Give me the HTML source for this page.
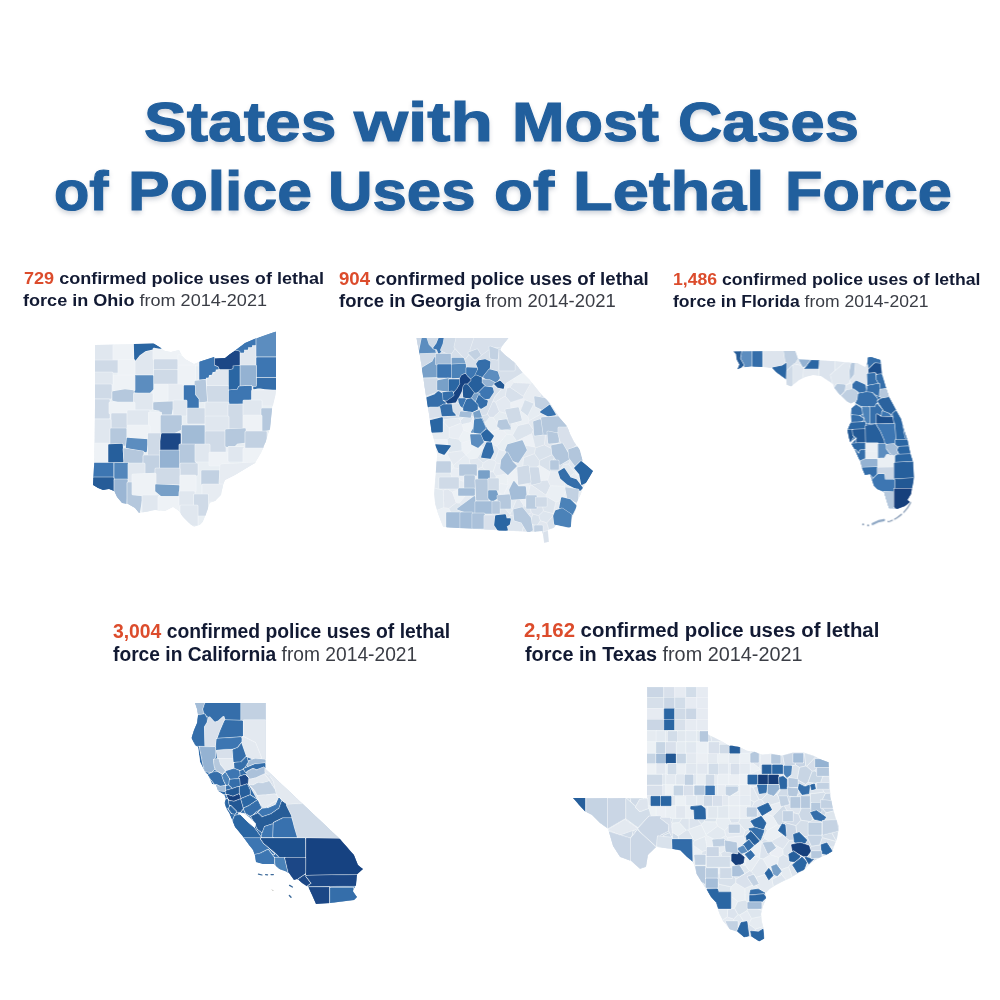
<!DOCTYPE html>
<html lang="en"><head><meta charset="utf-8"><title>States with Most Cases of Police Uses of Lethal Force</title>
<style>
html,body{margin:0;padding:0;background:#fff}
#pg{position:relative;width:1000px;height:1000px;overflow:hidden;background:#fff;font-family:"Liberation Sans",sans-serif;color:#121a33}
.l{position:absolute;white-space:nowrap;transform-origin:0 0;line-height:1}
svg{position:absolute;left:0;top:0}
.tt{color:#215f9d;-webkit-text-stroke:1.1px #215f9d;text-shadow:0 3px 5px rgba(40,60,90,.25)}
</style></head><body><div id="pg">
<svg width="1000" height="1000" viewBox="0 0 1000 1000" >
<g id="ohio" transform="translate(85,325) scale(0.2)">
<defs><clipPath id="ohio-clip"><polygon points="50,100 245,95 345,93 380,115 400,130 430,135 470,125 480,145 500,170 545,195 575,182 645,160 652,167 700,165 725,145 750,127 770,112 800,90 852,67 955,32 955,325 950,360 935,420 930,470 925,520 905,580 880,640 850,690 800,720 750,750 700,775 690,800 680,850 650,880 625,890 610,930 600,960 590,985 575,1000 545,1010 520,990 490,960 470,930 440,910 400,930 350,925 300,935 270,940 250,915 215,895 185,890 160,860 145,830 120,820 90,825 65,815 40,800 46,690 50,400"/></clipPath><filter id="ohio-bl" x="-5%" y="-5%" width="110%" height="110%"><feGaussianBlur stdDeviation="1.75"/></filter></defs>
<g filter="url(#ohio-bl)"><g clip-path="url(#ohio-clip)" stroke-linejoin="round">
<polygon points="50,100 245,95 345,93 380,115 400,130 430,135 470,125 480,145 500,170 545,195 575,182 645,160 652,167 700,165 725,145 750,127 770,112 800,90 852,67 955,32 955,325 950,360 935,420 930,470 925,520 905,580 880,640 850,690 800,720 750,750 700,775 690,800 680,850 650,880 625,890 610,930 600,960 590,985 575,1000 545,1010 520,990 490,960 470,930 440,910 400,930 350,925 300,935 270,940 250,915 215,895 185,890 160,860 145,830 120,820 90,825 65,815 40,800 46,690 50,400" fill="#e8eef3"/>
<g stroke-width="7.5">
<rect x="50" y="100" width="90" height="75" fill="none" stroke="#f4f7fa" stroke-width="13.5" stroke-opacity="0.9"/>
<rect x="50" y="100" width="90" height="75" fill="#e0e7ef" stroke="#e0e7ef"/>
<rect x="145" y="100" width="100" height="75" fill="none" stroke="#f4f7fa" stroke-width="13.5" stroke-opacity="0.9"/>
<rect x="145" y="100" width="100" height="75" fill="#eef2f6" stroke="#eef2f6"/>
<polygon points="250,130 345,118 345,245 250,245" fill="none" stroke="#f4f7fa" stroke-width="13.5" stroke-opacity="0.9"/>
<polygon points="250,130 345,118 345,245 250,245" fill="#e0e7ef" stroke="#e0e7ef"/>
<polygon points="248,95 340,93 380,115 345,118 300,128 270,150 250,175" fill="none" stroke="#f4f7fa" stroke-width="13.5" stroke-opacity="0.9"/>
<polygon points="248,95 340,93 380,115 345,118 300,128 270,150 250,175" fill="#2c66a3" stroke="#2c66a3"/>
<polygon points="345,120 400,130 430,135 470,125 480,145 470,170 345,170" fill="none" stroke="#f4f7fa" stroke-width="13.5" stroke-opacity="0.9"/>
<polygon points="345,120 400,130 430,135 470,125 480,145 470,170 345,170" fill="#eef2f6" stroke="#eef2f6"/>
<rect x="348" y="175" width="112" height="47" fill="none" stroke="#f4f7fa" stroke-width="13.5" stroke-opacity="0.9"/>
<rect x="348" y="175" width="112" height="47" fill="#cfdae7" stroke="#cfdae7"/>
<rect x="348" y="228" width="112" height="67" fill="none" stroke="#f4f7fa" stroke-width="13.5" stroke-opacity="0.9"/>
<rect x="348" y="228" width="112" height="67" fill="#cfdae7" stroke="#cfdae7"/>
<polygon points="470,150 500,170 545,195 570,190 570,200 470,200" fill="none" stroke="#f4f7fa" stroke-width="13.5" stroke-opacity="0.9"/>
<polygon points="470,150 500,170 545,195 570,190 570,200 470,200" fill="#eef2f6" stroke="#eef2f6"/>
<rect x="50" y="180" width="115" height="55" fill="none" stroke="#f4f7fa" stroke-width="13.5" stroke-opacity="0.9"/>
<rect x="50" y="180" width="115" height="55" fill="#cfdae7" stroke="#cfdae7"/>
<rect x="170" y="178" width="75" height="72" fill="none" stroke="#f4f7fa" stroke-width="13.5" stroke-opacity="0.9"/>
<rect x="170" y="178" width="75" height="72" fill="#eef2f6" stroke="#eef2f6"/>
<rect x="470" y="205" width="78" height="95" fill="none" stroke="#f4f7fa" stroke-width="13.5" stroke-opacity="0.9"/>
<rect x="470" y="205" width="78" height="95" fill="#eef2f6" stroke="#eef2f6"/>
<polygon points="772,137 792,137 792,122 812,122 812,109 832,109 832,99 852,99 852,200 772,200" fill="none" stroke="#f4f7fa" stroke-width="13.5" stroke-opacity="0.9"/>
<polygon points="772,137 792,137 792,122 812,122 812,109 832,109 832,99 852,99 852,200 772,200" fill="#e0e7ef" stroke="#e0e7ef"/>
<polygon points="750,127 770,112 800,90 852,67 852,97 832,97 832,107 812,107 812,120 792,120 792,135 770,135 750,131" fill="none" stroke="#f4f7fa" stroke-width="13.5" stroke-opacity="0.9"/>
<polygon points="750,127 770,112 800,90 852,67 852,97 832,97 832,107 812,107 812,120 792,120 792,135 770,135 750,131" fill="#3c76b2" stroke="#3c76b2"/>
<polygon points="860,68 955,30 955,155 860,155" fill="none" stroke="#f4f7fa" stroke-width="13.5" stroke-opacity="0.9"/>
<polygon points="860,68 955,30 955,155 860,155" fill="#5c8dbf" stroke="#5c8dbf"/>
<rect x="860" y="165" width="95" height="93" fill="none" stroke="#f4f7fa" stroke-width="13.5" stroke-opacity="0.9"/>
<rect x="860" y="165" width="95" height="93" fill="#3c76b2" stroke="#3c76b2"/>
<polygon points="860,268 955,268 955,322 900,318 870,312 845,318 845,300 860,300" fill="none" stroke="#f4f7fa" stroke-width="13.5" stroke-opacity="0.9"/>
<polygon points="860,268 955,268 955,322 900,318 870,312 845,318 845,300 860,300" fill="#346eaa" stroke="#346eaa"/>
<rect x="772" y="205" width="80" height="97" fill="none" stroke="#f4f7fa" stroke-width="13.5" stroke-opacity="0.9"/>
<rect x="772" y="205" width="80" height="97" fill="#94b2d2" stroke="#94b2d2"/>
<polygon points="715,220 735,217 735,202 770,200 770,305 762,320 720,322 715,300" fill="none" stroke="#f4f7fa" stroke-width="13.5" stroke-opacity="0.9"/>
<polygon points="715,220 735,217 735,202 770,200 770,305 762,320 720,322 715,300" fill="#2c66a3" stroke="#2c66a3"/>
<polygon points="612,275 617,262 632,260 635,247 650,245 652,232 667,230 670,220 712,220 712,303 612,303" fill="none" stroke="#f4f7fa" stroke-width="13.5" stroke-opacity="0.9"/>
<polygon points="612,275 617,262 632,260 635,247 650,245 652,232 667,230 670,220 712,220 712,303 612,303" fill="#e0e7ef" stroke="#e0e7ef"/>
<polygon points="575,182 645,160 647,200 665,205 667,217 650,220 650,230 635,232 632,245 617,247 615,260 602,260 600,272 575,274" fill="none" stroke="#f4f7fa" stroke-width="13.5" stroke-opacity="0.9"/>
<polygon points="575,182 645,160 647,200 665,205 667,217 650,220 650,230 635,232 632,245 617,247 615,260 602,260 600,272 575,274" fill="#3c76b2" stroke="#3c76b2"/>
<polygon points="652,167 700,165 725,145 750,131 770,135 770,197 735,200 735,215 720,217 675,217 670,205 652,197" fill="none" stroke="#f4f7fa" stroke-width="13.5" stroke-opacity="0.9"/>
<polygon points="652,167 700,165 725,145 750,131 770,135 770,197 735,200 735,215 720,217 675,217 670,205 652,197" fill="#1b4786" stroke="#1b4786"/>
<polygon points="720,330 765,325 772,310 830,307 830,370 805,372 795,390 720,392" fill="none" stroke="#f4f7fa" stroke-width="13.5" stroke-opacity="0.9"/>
<polygon points="720,330 765,325 772,310 830,307 830,370 805,372 795,390 720,392" fill="#3c76b2" stroke="#3c76b2"/>
<rect x="838" y="330" width="117" height="70" fill="none" stroke="#f4f7fa" stroke-width="13.5" stroke-opacity="0.9"/>
<rect x="838" y="330" width="117" height="70" fill="#e7ecf2" stroke="#e7ecf2"/>
<rect x="612" y="307" width="100" height="76" fill="none" stroke="#f4f7fa" stroke-width="13.5" stroke-opacity="0.9"/>
<rect x="612" y="307" width="100" height="76" fill="#cfdae7" stroke="#cfdae7"/>
<polygon points="552,282 600,277 607,380 570,382 565,370 550,350" fill="none" stroke="#f4f7fa" stroke-width="13.5" stroke-opacity="0.9"/>
<polygon points="552,282 600,277 607,380 570,382 565,370 550,350" fill="#b5c8dd" stroke="#b5c8dd"/>
<polygon points="497,305 547,305 547,350 565,372 565,415 512,417 512,380 497,375" fill="none" stroke="#f4f7fa" stroke-width="13.5" stroke-opacity="0.9"/>
<polygon points="497,305 547,305 547,350 565,372 565,415 512,417 512,380 497,375" fill="#3c76b2" stroke="#3c76b2"/>
<rect x="415" y="300" width="70" height="75" fill="none" stroke="#f4f7fa" stroke-width="13.5" stroke-opacity="0.9"/>
<rect x="415" y="300" width="70" height="75" fill="#e7ecf2" stroke="#e7ecf2"/>
<rect x="345" y="300" width="65" height="75" fill="none" stroke="#f4f7fa" stroke-width="13.5" stroke-opacity="0.9"/>
<rect x="345" y="300" width="65" height="75" fill="#eef2f6" stroke="#eef2f6"/>
<polygon points="250,255 338,255 338,320 320,340 250,335" fill="none" stroke="#f4f7fa" stroke-width="13.5" stroke-opacity="0.9"/>
<polygon points="250,255 338,255 338,320 320,340 250,335" fill="#5c8dbf" stroke="#5c8dbf"/>
<rect x="145" y="255" width="100" height="70" fill="none" stroke="#f4f7fa" stroke-width="13.5" stroke-opacity="0.9"/>
<rect x="145" y="255" width="100" height="70" fill="#eef2f6" stroke="#eef2f6"/>
<rect x="50" y="240" width="85" height="55" fill="none" stroke="#f4f7fa" stroke-width="13.5" stroke-opacity="0.9"/>
<rect x="50" y="240" width="85" height="55" fill="#e0e7ef" stroke="#e0e7ef"/>
<rect x="50" y="300" width="80" height="65" fill="none" stroke="#f4f7fa" stroke-width="13.5" stroke-opacity="0.9"/>
<rect x="50" y="300" width="80" height="65" fill="#cfdae7" stroke="#cfdae7"/>
<polygon points="140,335 200,325 240,330 240,385 200,390 140,375" fill="none" stroke="#f4f7fa" stroke-width="13.5" stroke-opacity="0.9"/>
<polygon points="140,335 200,325 240,330 240,385 200,390 140,375" fill="#b5c8dd" stroke="#b5c8dd"/>
<rect x="248" y="345" width="87" height="75" fill="none" stroke="#f4f7fa" stroke-width="13.5" stroke-opacity="0.9"/>
<rect x="248" y="345" width="87" height="75" fill="#e0e7ef" stroke="#e0e7ef"/>
<polygon points="345,390 450,385 450,415 435,420 430,445 380,445 375,425 345,420" fill="none" stroke="#f4f7fa" stroke-width="13.5" stroke-opacity="0.9"/>
<polygon points="345,390 450,385 450,415 435,420 430,445 380,445 375,425 345,420" fill="#b5c8dd" stroke="#b5c8dd"/>
<rect x="445" y="380" width="60" height="70" fill="none" stroke="#f4f7fa" stroke-width="13.5" stroke-opacity="0.9"/>
<rect x="445" y="380" width="60" height="70" fill="#e0e7ef" stroke="#e0e7ef"/>
<rect x="515" y="420" width="85" height="70" fill="none" stroke="#f4f7fa" stroke-width="13.5" stroke-opacity="0.9"/>
<rect x="515" y="420" width="85" height="70" fill="#cfdae7" stroke="#cfdae7"/>
<rect x="605" y="390" width="110" height="65" fill="none" stroke="#f4f7fa" stroke-width="13.5" stroke-opacity="0.9"/>
<rect x="605" y="390" width="110" height="65" fill="#e0e7ef" stroke="#e0e7ef"/>
<rect x="720" y="400" width="70" height="120" fill="none" stroke="#f4f7fa" stroke-width="13.5" stroke-opacity="0.9"/>
<rect x="720" y="400" width="70" height="120" fill="#cfdae7" stroke="#cfdae7"/>
<rect x="795" y="380" width="85" height="70" fill="none" stroke="#f4f7fa" stroke-width="13.5" stroke-opacity="0.9"/>
<rect x="795" y="380" width="85" height="70" fill="#e0e7ef" stroke="#e0e7ef"/>
<polygon points="885,420 935,420 925,520 885,530" fill="none" stroke="#f4f7fa" stroke-width="13.5" stroke-opacity="0.9"/>
<polygon points="885,420 935,420 925,520 885,530" fill="#b5c8dd" stroke="#b5c8dd"/>
<rect x="795" y="455" width="85" height="75" fill="none" stroke="#f4f7fa" stroke-width="13.5" stroke-opacity="0.9"/>
<rect x="795" y="455" width="85" height="75" fill="#eef2f6" stroke="#eef2f6"/>
<rect x="50" y="375" width="70" height="90" fill="none" stroke="#f4f7fa" stroke-width="13.5" stroke-opacity="0.9"/>
<rect x="50" y="375" width="70" height="90" fill="#cfdae7" stroke="#cfdae7"/>
<rect x="125" y="390" width="120" height="50" fill="none" stroke="#f4f7fa" stroke-width="13.5" stroke-opacity="0.9"/>
<rect x="125" y="390" width="120" height="50" fill="#eef2f6" stroke="#eef2f6"/>
<rect x="135" y="445" width="75" height="70" fill="none" stroke="#f4f7fa" stroke-width="13.5" stroke-opacity="0.9"/>
<rect x="135" y="445" width="75" height="70" fill="#cfdae7" stroke="#cfdae7"/>
<rect x="215" y="430" width="105" height="70" fill="none" stroke="#f4f7fa" stroke-width="13.5" stroke-opacity="0.9"/>
<rect x="215" y="430" width="105" height="70" fill="#e0e7ef" stroke="#e0e7ef"/>
<rect x="322" y="440" width="56" height="100" fill="none" stroke="#f4f7fa" stroke-width="13.5" stroke-opacity="0.9"/>
<rect x="322" y="440" width="56" height="100" fill="#eef2f6" stroke="#eef2f6"/>
<polygon points="382,455 480,455 480,520 440,540 382,538" fill="none" stroke="#f4f7fa" stroke-width="13.5" stroke-opacity="0.9"/>
<polygon points="382,455 480,455 480,520 440,540 382,538" fill="#b5c8dd" stroke="#b5c8dd"/>
<rect x="487" y="505" width="111" height="90" fill="none" stroke="#f4f7fa" stroke-width="13.5" stroke-opacity="0.9"/>
<rect x="487" y="505" width="111" height="90" fill="#a1bbd6" stroke="#a1bbd6"/>
<rect x="605" y="460" width="110" height="70" fill="none" stroke="#f4f7fa" stroke-width="13.5" stroke-opacity="0.9"/>
<rect x="605" y="460" width="110" height="70" fill="#e0e7ef" stroke="#e0e7ef"/>
<rect x="605" y="535" width="95" height="100" fill="none" stroke="#f4f7fa" stroke-width="13.5" stroke-opacity="0.9"/>
<rect x="605" y="535" width="95" height="100" fill="#cfdae7" stroke="#cfdae7"/>
<polygon points="705,525 800,520 800,585 760,590 740,610 705,605" fill="none" stroke="#f4f7fa" stroke-width="13.5" stroke-opacity="0.9"/>
<polygon points="705,525 800,520 800,585 760,590 740,610 705,605" fill="#b5c8dd" stroke="#b5c8dd"/>
<rect x="805" y="535" width="100" height="80" fill="none" stroke="#f4f7fa" stroke-width="13.5" stroke-opacity="0.9"/>
<rect x="805" y="535" width="100" height="80" fill="#c2d1e2" stroke="#c2d1e2"/>
<rect x="50" y="475" width="75" height="115" fill="none" stroke="#f4f7fa" stroke-width="13.5" stroke-opacity="0.9"/>
<rect x="50" y="475" width="75" height="115" fill="#e0e7ef" stroke="#e0e7ef"/>
<rect x="130" y="520" width="75" height="80" fill="none" stroke="#f4f7fa" stroke-width="13.5" stroke-opacity="0.9"/>
<rect x="130" y="520" width="75" height="80" fill="#b5c8dd" stroke="#b5c8dd"/>
<rect x="215" y="505" width="105" height="60" fill="none" stroke="#f4f7fa" stroke-width="13.5" stroke-opacity="0.9"/>
<rect x="215" y="505" width="105" height="60" fill="#eef2f6" stroke="#eef2f6"/>
<polygon points="212,568 315,575 305,632 208,612" fill="none" stroke="#f4f7fa" stroke-width="13.5" stroke-opacity="0.9"/>
<polygon points="212,568 315,575 305,632 208,612" fill="#5c8dbf" stroke="#5c8dbf"/>
<rect x="318" y="545" width="60" height="105" fill="none" stroke="#f4f7fa" stroke-width="13.5" stroke-opacity="0.9"/>
<rect x="318" y="545" width="60" height="105" fill="#cfdae7" stroke="#cfdae7"/>
<polygon points="385,545 475,545 475,590 468,625 380,625 380,580" fill="none" stroke="#f4f7fa" stroke-width="13.5" stroke-opacity="0.9"/>
<polygon points="385,545 475,545 475,590 468,625 380,625 380,580" fill="#1b4786" stroke="#1b4786"/>
<rect x="475" y="600" width="75" height="90" fill="none" stroke="#f4f7fa" stroke-width="13.5" stroke-opacity="0.9"/>
<rect x="475" y="600" width="75" height="90" fill="#b5c8dd" stroke="#b5c8dd"/>
<rect x="555" y="600" width="65" height="80" fill="none" stroke="#f4f7fa" stroke-width="13.5" stroke-opacity="0.9"/>
<rect x="555" y="600" width="65" height="80" fill="#e0e7ef" stroke="#e0e7ef"/>
<rect x="625" y="640" width="90" height="60" fill="none" stroke="#f4f7fa" stroke-width="13.5" stroke-opacity="0.9"/>
<rect x="625" y="640" width="90" height="60" fill="#eef2f6" stroke="#eef2f6"/>
<rect x="720" y="612" width="70" height="68" fill="none" stroke="#f4f7fa" stroke-width="13.5" stroke-opacity="0.9"/>
<rect x="720" y="612" width="70" height="68" fill="#e0e7ef" stroke="#e0e7ef"/>
<rect x="795" y="620" width="95" height="70" fill="none" stroke="#f4f7fa" stroke-width="13.5" stroke-opacity="0.9"/>
<rect x="795" y="620" width="95" height="70" fill="#eef2f6" stroke="#eef2f6"/>
<rect x="46" y="595" width="69" height="90" fill="none" stroke="#f4f7fa" stroke-width="13.5" stroke-opacity="0.9"/>
<rect x="46" y="595" width="69" height="90" fill="#eef2f6" stroke="#eef2f6"/>
<polygon points="120,600 185,598 190,682 120,686" fill="none" stroke="#f4f7fa" stroke-width="13.5" stroke-opacity="0.9"/>
<polygon points="120,600 185,598 190,682 120,686" fill="#285f9c" stroke="#285f9c"/>
<polygon points="195,620 290,635 285,690 200,690" fill="none" stroke="#f4f7fa" stroke-width="13.5" stroke-opacity="0.9"/>
<polygon points="195,620 290,635 285,690 200,690" fill="#b5c8dd" stroke="#b5c8dd"/>
<rect x="295" y="655" width="75" height="85" fill="none" stroke="#f4f7fa" stroke-width="13.5" stroke-opacity="0.9"/>
<rect x="295" y="655" width="75" height="85" fill="#c2d1e2" stroke="#c2d1e2"/>
<rect x="378" y="630" width="90" height="85" fill="none" stroke="#f4f7fa" stroke-width="13.5" stroke-opacity="0.9"/>
<rect x="378" y="630" width="90" height="85" fill="#94b2d2" stroke="#94b2d2"/>
<rect x="480" y="695" width="80" height="55" fill="none" stroke="#f4f7fa" stroke-width="13.5" stroke-opacity="0.9"/>
<rect x="480" y="695" width="80" height="55" fill="#cfdae7" stroke="#cfdae7"/>
<rect x="585" y="730" width="85" height="65" fill="none" stroke="#f4f7fa" stroke-width="13.5" stroke-opacity="0.9"/>
<rect x="585" y="730" width="85" height="65" fill="#c2d1e2" stroke="#c2d1e2"/>
<polygon points="680,700 850,690 800,720 750,750 700,775 690,800 675,790" fill="none" stroke="#f4f7fa" stroke-width="13.5" stroke-opacity="0.9"/>
<polygon points="680,700 850,690 800,720 750,750 700,775 690,800 675,790" fill="#e7ecf2" stroke="#e7ecf2"/>
<rect x="42" y="693" width="98" height="67" fill="none" stroke="#f4f7fa" stroke-width="13.5" stroke-opacity="0.9"/>
<rect x="42" y="693" width="98" height="67" fill="#3c76b2" stroke="#3c76b2"/>
<rect x="150" y="693" width="65" height="77" fill="none" stroke="#f4f7fa" stroke-width="13.5" stroke-opacity="0.9"/>
<rect x="150" y="693" width="65" height="77" fill="#5286bb" stroke="#5286bb"/>
<rect x="220" y="695" width="75" height="95" fill="none" stroke="#f4f7fa" stroke-width="13.5" stroke-opacity="0.9"/>
<rect x="220" y="695" width="75" height="95" fill="#e0e7ef" stroke="#e0e7ef"/>
<rect x="355" y="720" width="115" height="75" fill="none" stroke="#f4f7fa" stroke-width="13.5" stroke-opacity="0.9"/>
<rect x="355" y="720" width="115" height="75" fill="#cfdae7" stroke="#cfdae7"/>
<rect x="480" y="755" width="70" height="75" fill="none" stroke="#f4f7fa" stroke-width="13.5" stroke-opacity="0.9"/>
<rect x="480" y="755" width="70" height="75" fill="#eef2f6" stroke="#eef2f6"/>
<rect x="590" y="800" width="100" height="80" fill="none" stroke="#f4f7fa" stroke-width="13.5" stroke-opacity="0.9"/>
<rect x="590" y="800" width="100" height="80" fill="#e7ecf2" stroke="#e7ecf2"/>
<polygon points="40,765 140,765 145,830 120,820 90,825 65,815 40,800" fill="none" stroke="#f4f7fa" stroke-width="13.5" stroke-opacity="0.9"/>
<polygon points="40,765 140,765 145,830 120,820 90,825 65,815 40,800" fill="#265c98" stroke="#265c98"/>
<polygon points="150,775 210,775 205,895 185,890 160,860 150,830" fill="none" stroke="#f4f7fa" stroke-width="13.5" stroke-opacity="0.9"/>
<polygon points="150,775 210,775 205,895 185,890 160,860 150,830" fill="#9bb6d4" stroke="#9bb6d4"/>
<polygon points="215,790 235,790 240,850 285,855 270,940 250,915 215,895" fill="none" stroke="#f4f7fa" stroke-width="13.5" stroke-opacity="0.9"/>
<polygon points="215,790 235,790 240,850 285,855 270,940 250,915 215,895" fill="#b5c8dd" stroke="#b5c8dd"/>
<polygon points="240,750 350,745 350,850 290,850 240,845" fill="none" stroke="#f4f7fa" stroke-width="13.5" stroke-opacity="0.9"/>
<polygon points="240,750 350,745 350,850 290,850 240,845" fill="#eef2f6" stroke="#eef2f6"/>
<rect x="290" y="855" width="80" height="80" fill="none" stroke="#f4f7fa" stroke-width="13.5" stroke-opacity="0.9"/>
<rect x="290" y="855" width="80" height="80" fill="#e0e7ef" stroke="#e0e7ef"/>
<polygon points="355,800 468,805 465,858 385,855 355,830" fill="none" stroke="#f4f7fa" stroke-width="13.5" stroke-opacity="0.9"/>
<polygon points="355,800 468,805 465,858 385,855 355,830" fill="#78a0c8" stroke="#78a0c8"/>
<rect x="370" y="862" width="100" height="73" fill="none" stroke="#f4f7fa" stroke-width="13.5" stroke-opacity="0.9"/>
<rect x="370" y="862" width="100" height="73" fill="#eef2f6" stroke="#eef2f6"/>
<rect x="475" y="835" width="70" height="65" fill="none" stroke="#f4f7fa" stroke-width="13.5" stroke-opacity="0.9"/>
<rect x="475" y="835" width="70" height="65" fill="#e0e7ef" stroke="#e0e7ef"/>
<rect x="548" y="850" width="64" height="100" fill="none" stroke="#f4f7fa" stroke-width="13.5" stroke-opacity="0.9"/>
<rect x="548" y="850" width="64" height="100" fill="#cfdae7" stroke="#cfdae7"/>
<rect x="480" y="905" width="80" height="95" fill="none" stroke="#f4f7fa" stroke-width="13.5" stroke-opacity="0.9"/>
<rect x="480" y="905" width="80" height="95" fill="#e0e7ef" stroke="#e0e7ef"/>
</g>
</g></g></g>
<g id="georgia" transform="translate(410,330) scale(0.2)">
<defs><clipPath id="georgia-clip"><polygon points="32,40 492,40 460,80 450,100 475,125 525,165 560,210 600,250 640,300 665,330 700,365 730,410 750,440 785,480 800,520 820,560 850,600 865,660 915,705 895,740 865,790 855,820 835,860 830,900 810,940 805,985 790,990 730,975 720,990 690,1000 695,1060 670,1065 662,1005 600,1010 400,1000 165,985 140,920 125,870 120,820 125,750 132,680 135,620 125,570 108,510 95,420 80,330 65,230 50,130"/></clipPath><filter id="georgia-bl" x="-5%" y="-5%" width="110%" height="110%"><feGaussianBlur stdDeviation="1.75"/></filter></defs>
<g filter="url(#georgia-bl)"><g clip-path="url(#georgia-clip)" stroke-linejoin="round">
<polygon points="32,40 492,40 460,80 450,100 475,125 525,165 560,210 600,250 640,300 665,330 700,365 730,410 750,440 785,480 800,520 820,560 850,600 865,660 915,705 895,740 865,790 855,820 835,860 830,900 810,940 805,985 790,990 730,975 720,990 690,1000 695,1060 670,1065 662,1005 600,1010 400,1000 165,985 140,920 125,870 120,820 125,750 132,680 135,620 125,570 108,510 95,420 80,330 65,230 50,130" fill="#e6ebf2"/>
<g stroke="#f4f7fa" stroke-width="2.5" stroke-opacity="0.8">
<polygon points="260.2,604.1 258.8,563.4 243.7,545.7 195.5,537.9 185.2,547.3 193.2,613.1" fill="#dfe7ef"/>
<polygon points="342.5,693.8 361.4,685.4 365.5,665.5 337.3,639.6 296.8,645.6 297.5,666.1" fill="#e0e7ef"/>
<polygon points="292.1,305.6 295.7,280.7 262.1,249.7 236.3,253.8 229.4,306.6 233,310.6 277,318.3" fill="#eaeff4"/>
<polygon points="769.2,568.2 787.4,509 724.1,515.9 734.8,565.7" fill="#d9e2ec"/>
<polygon points="552,943.4 568.8,979.1 597.2,967.9 615,920.4 606.9,912.7" fill="#dfe6ef"/>
<polygon points="481.1,842.4 532.5,842.3 523.4,779.1 491.9,773.8 468.3,821.3" fill="#ebf0f5"/>
<polygon points="699.7,708.6 723.8,630.8 714.2,621.5 646.9,652.1 646.7,676.7" fill="#d8e1eb"/>
<polygon points="386.6,112.6 413.9,40 292,40 321,96.3" fill="#ebeff4"/>
<polygon points="787.4,509 769.2,568.2 789.4,587.2 826.7,568.9 820,560 800,520 794.1,504.2" fill="#e7ecf2"/>
<polygon points="643.4,927.8 651,953.9 684.5,964.4 719.6,924.3 715.9,917.4 667.1,905" fill="#dde5ee"/>
<polygon points="639.3,1007 662,1005 662.8,1011 690.2,1002 690,1000 694.4,998.5 684.5,964.4 651,953.9 634.4,978.4" fill="#e1e7ef"/>
<polygon points="362.8,827.5 345.4,879.2 405.3,901.1 420.1,881 407.3,830.6" fill="#e2e8f0"/>
<polygon points="407.5,1000 488.7,1004 484.4,948.6 419.1,942" fill="#dfe6ef"/>
<polygon points="175.3,276.6 198.7,230 194.6,219.3 166.7,198.2 140.1,204.1 114.4,287.6 127,293.4" fill="#e4eaf1"/>
<polygon points="619.5,367 622.4,366.6 658.5,322.2 640,300 609.8,262.2 603.5,266.4 566.7,331.6 567.6,340.7 573.5,349.2" fill="#e7ecf2"/>
<polygon points="483,520.8 513.4,526.3 540.3,477.3 499.1,421 498.1,421.3 456,492.5" fill="#eaeff4"/>
<polygon points="341.2,568.7 280.1,625.2 296.8,645.6 337.3,639.6 366.1,591.4 366.3,585.4" fill="#ecf1f5"/>
<polygon points="501.3,927.3 484.4,948.6 488.7,1004 561.5,1008 568.8,979.1 552,943.4 536.6,931.6" fill="#dde5ee"/>
<polygon points="568.8,979.1 561.5,1008 600,1010 639.3,1007 634.4,978.4 597.2,967.9" fill="#dce4ed"/>
<polygon points="789.4,587.2 787.2,605.9 808.8,636 857.7,630.8 850,600 826.7,568.9" fill="#e2e8f0"/>
<polygon points="787.2,605.9 733.5,633 767.7,671.9 793.3,670.8 808.8,636" fill="#dde5ee"/>
<polygon points="244.1,87.4 253.7,144.9 274.3,164.2 281,166.1 321,96.3 292,40 277.4,40" fill="#e6ecf2"/>
<polygon points="450.3,197.7 453.6,152.8 388.9,118.9 355.5,182.3 402,222.9 444.6,205.3" fill="#e8edf3"/>
<polygon points="291.7,906.2 304.4,906.9 318.8,890 298.7,814.7 289.9,811.8 246.4,865.5" fill="#e5ebf2"/>
<polygon points="622.4,366.6 666.1,414.4 671.5,415.8 711,381.5 700,365 665,330 658.5,322.2" fill="#d9e2ec"/>
<polygon points="355.5,182.3 388.9,118.9 386.6,112.6 321,96.3 281,166.1 296,183 315.8,190.1" fill="#edf1f6"/>
<polygon points="228.5,418.5 182.4,421.1 168.6,461.5 195.2,489.5 254.4,466.3 252.7,453" fill="#e3e9f0"/>
<polygon points="445.2,598.5 503.2,612.4 526.9,599 535.4,568.2 533.9,555.4 513.4,526.3 483,520.8 435.1,581.1" fill="#e8eef3"/>
<polygon points="610.2,705.7 646.7,676.7 646.9,652.1 622.8,617.9 567.4,638.2 563,684.1" fill="#dce4ed"/>
<polygon points="567.4,638.2 526.9,599 503.2,612.4 490.3,675.1 501.8,693.5 534.4,700.1 563,684.1" fill="#e6ecf2"/>
<polygon points="397.7,770.8 355.5,764.8 343.6,803.5 362.8,827.5 407.3,830.6 418.7,815.4" fill="#e7ecf2"/>
<polygon points="276.9,351.1 277,318.3 233,310.6 221,358.9 240.3,374.6" fill="#e5ebf1"/>
<polygon points="366.1,591.4 394.7,646.7 424.4,651.9 445.2,598.5 435.1,581.1 409.3,571.1 366.3,585.4" fill="#e2e8f0"/>
<polygon points="513.4,526.3 533.9,555.4 609.5,518.5 617.5,499.1 593.6,465.5 540.3,477.3" fill="#dce4ed"/>
<polygon points="666.1,414.4 622.4,366.6 619.5,367 588.1,431.7 595.7,454.1" fill="#e6ecf2"/>
<polygon points="680.7,826.1 702.5,779 688.2,750.1 614.8,755.2 604.1,772.9" fill="#dae2ec"/>
<polygon points="113.3,40 32,40 49,124.9 95.8,122.1 106.1,114.1" fill="#ebf0f5"/>
<polygon points="254.4,466.3 195.2,489.5 195.5,537.9 243.7,545.7 268.9,500.3 261.6,472.2" fill="#e8edf3"/>
<polygon points="552.3,403.6 573.5,349.2 567.6,340.7 503,362.2 504.7,413.5" fill="#ecf0f5"/>
<polygon points="417.1,356.6 382.7,295.3 340.1,331.2 338.6,357.3 369.9,387.7" fill="#ebf0f5"/>
<polygon points="394.7,646.7 366.1,591.4 337.3,639.6 365.5,665.5" fill="#dce4ed"/>
<polygon points="296.8,406.2 252.7,453 254.4,466.3 261.6,472.2 303.9,462.7 320.7,425.6 297,406.2" fill="#dde5ee"/>
<polygon points="545.5,762.6 523.4,779.1 532.5,842.3 534.7,844 549.7,847.3 592.4,816.3 601.7,774.5" fill="#eaeff4"/>
<polygon points="330.4,259.5 315.8,190.1 296,183 262.1,249.7 295.7,280.7" fill="#eaeff4"/>
<polygon points="185.2,547.3 195.5,537.9 195.2,489.5 168.6,461.5 102.8,473.8 108,510 118.9,548.3" fill="#e5ebf1"/>
<polygon points="320.7,425.6 328.6,425.4 369.4,392.2 369.9,387.7 338.6,357.3 303.3,374 297,406.2" fill="#dde5ed"/>
<polygon points="724.1,515.9 787.4,509 794.1,504.2 785,480 754.5,445.2 723.8,462.8 717,510.4" fill="#dbe3ed"/>
<polygon points="283.1,706.7 329.5,726.4 342.5,693.8 297.5,666.1 280.4,698.2" fill="#dde4ed"/>
<polygon points="274.3,164.2 253.7,144.9 178.4,141.5 166.7,198.2 194.6,219.3" fill="#e1e8ef"/>
<polygon points="480.6,290.1 483.2,292 500,285.7 519.1,262.7 520.7,215.4 450.3,197.7 444.6,205.3" fill="#ebeff4"/>
<polygon points="719.6,924.3 740.7,936.2 809.9,899.4 762.3,849.4 729,859.4 715.9,917.4" fill="#e5ebf2"/>
<polygon points="201.1,361 221,358.9 233,310.6 229.4,306.6 200.6,305.2 179.4,333.4" fill="#eaeff4"/>
<polygon points="767.7,671.9 741.4,709.9 777.5,748.8 823.9,714.2 824.2,711.4 793.3,670.8" fill="#e2e9f0"/>
<polygon points="133.6,380.5 147.6,332.1 127,293.4 114.4,287.6 74.3,292.3 80,330 90.7,393.9" fill="#e1e8f0"/>
<polygon points="303.9,462.7 327.4,485.8 365.4,468.2 328.6,425.4 320.7,425.6" fill="#eaeef4"/>
<polygon points="404,510.3 448.7,491 417.2,436.4 397.9,436.2 370.1,469 387.2,502.6" fill="#e8eef3"/>
<polygon points="656.2,855.3 667.1,905 715.9,917.4 729,859.4 681,831.5" fill="#dce4ed"/>
<polygon points="535.4,568.2 625.9,586.1 609.5,518.5 533.9,555.4" fill="#edf1f6"/>
<polygon points="303.3,374 276.9,351.1 240.3,374.6 242.5,391.1 296.8,406.2 297,406.2" fill="#dbe3ed"/>
<polygon points="253.7,144.9 244.1,87.4 186,89.5 171.4,126.2 178.4,141.5" fill="#d9e1ec"/>
<polygon points="567.6,340.7 566.7,331.6 500,285.7 483.2,292 475.4,330.4 503,362.2" fill="#d7e0eb"/>
<polygon points="823.9,714.2 777.5,748.8 771,782 780.2,797.7 858.7,808.8 865,790 876,771.7" fill="#e5ebf2"/>
<polygon points="793.3,670.8 824.2,711.4 875.4,669.4 865,660 857.7,630.8 808.8,636" fill="#e2e8f0"/>
<polygon points="201.1,361 179.4,333.4 147.6,332.1 133.6,380.5 170.9,398.5" fill="#e1e8ef"/>
<polygon points="622.8,617.9 627.9,588.5 625.9,586.1 535.4,568.2 526.9,599 567.4,638.2" fill="#e0e7ef"/>
<polygon points="588.1,431.7 619.5,367 573.5,349.2 552.3,403.6" fill="#d6e0eb"/>
<polygon points="193.5,892.2 227.1,958.2 291.7,906.2 246.4,865.5 231,863.6" fill="#dee6ee"/>
<polygon points="431.8,811.9 418.7,815.4 407.3,830.6 420.1,881 461.9,876.3 481.1,842.4 468.3,821.3" fill="#e7edf3"/>
<polygon points="402,222.9 355.5,182.3 315.8,190.1 330.4,259.5 384.9,278.7" fill="#dae2ec"/>
<polygon points="461.9,876.3 500.2,923 534.7,844 532.5,842.3 481.1,842.4" fill="#e3eaf1"/>
<polygon points="212,809.4 186.5,794.6 166.2,800.2 169,888.5 193.5,892.2 231,863.6" fill="#e1e7ef"/>
<polygon points="568.7,878.1 536.6,931.6 552,943.4 606.9,912.7 600.3,890" fill="#dde5ee"/>
<polygon points="278.5,624.6 280.1,625.2 341.2,568.7 329.8,545 327.9,543.7 258.8,563.4 260.2,604.1" fill="#eef2f6"/>
<polygon points="341.2,568.7 366.3,585.4 409.3,571.1 404,510.3 387.2,502.6 329.8,545" fill="#dce4ed"/>
<polygon points="113.7,194 95.8,122.1 49,124.9 50,130 62.2,211.2" fill="#dfe6ef"/>
<polygon points="186,89.5 169,40 113.3,40 106.1,114.1 171.4,126.2" fill="#e3e9f0"/>
<polygon points="303.3,374 338.6,357.3 340.1,331.2 292.1,305.6 277,318.3 276.9,351.1" fill="#e2e9f0"/>
<polygon points="336,746.9 353.5,760.3 388.5,709.8 361.4,685.4 342.5,693.8 329.5,726.4" fill="#e4eaf1"/>
<polygon points="499.1,421 540.3,477.3 593.6,465.5 595.7,454.1 588.1,431.7 552.3,403.6 504.7,413.5" fill="#eaeff4"/>
<polygon points="182.4,421.1 228.5,418.5 242.5,391.1 240.3,374.6 221,358.9 201.1,361 170.9,398.5" fill="#e2e9f0"/>
<polygon points="187.1,622.9 193.2,613.1 185.2,547.3 118.9,548.3 125,570 135,620 134.2,635.5" fill="#edf1f6"/>
<polygon points="617.5,499.1 650.2,499 681.5,441.5 671.5,415.8 666.1,414.4 595.7,454.1 593.6,465.5" fill="#e3e9f0"/>
<polygon points="113.7,194 62.2,211.2 65,230 74.3,292.3 114.4,287.6 140.1,204.1" fill="#dfe7ef"/>
<polygon points="361.4,685.4 388.5,709.8 416.1,709.5 431.1,664.4 424.4,651.9 394.7,646.7 365.5,665.5" fill="#e4eaf1"/>
<polygon points="671.5,415.8 681.5,441.5 723.8,462.8 754.5,445.2 750,440 730,410 711,381.5" fill="#e1e8f0"/>
<polygon points="699.8,708.8 741.4,709.9 767.7,671.9 733.5,633 723.8,630.8 699.7,708.6" fill="#d7e0eb"/>
<polygon points="397.9,436.2 417.2,436.4 446.9,407.8 428,359.4 417.1,356.6 369.9,387.7 369.4,392.2" fill="#d9e1ec"/>
<polygon points="429.9,729.6 428.6,742.5 449.2,767.8 491.4,773.3 483.1,718.7" fill="#ebf0f4"/>
<polygon points="416.1,709.5 388.5,709.8 353.5,760.3 355.5,764.8 397.7,770.8 428.6,742.5 429.9,729.6" fill="#dbe3ed"/>
<polygon points="428,359.4 475.4,330.4 483.2,292 480.6,290.1 385.4,279.9 382.7,295.3 417.1,356.6" fill="#e0e7ef"/>
<polygon points="501.8,693.5 483.1,718.7 491.4,773.3 491.9,773.8 523.4,779.1 545.5,762.6 534.4,700.1" fill="#edf1f5"/>
<polygon points="330.8,958.1 328,995.4 400,1000 407.5,1000 419.1,942 406.5,924.8" fill="#e6ecf2"/>
<polygon points="762.3,849.4 809.9,899.4 827.9,904.1 830,900 835,860 855,820 858.7,808.8 780.2,797.7" fill="#e9eef3"/>
<polygon points="243.7,545.7 258.8,563.4 327.9,543.7 318.3,522 268.9,500.3" fill="#ecf1f5"/>
<polygon points="169,888.5 166.2,800.2 122.1,789.9 120,820 125,870 134.5,901.6" fill="#e2e9f0"/>
<polygon points="597.2,967.9 634.4,978.4 651,953.9 643.4,927.8 615,920.4" fill="#d8e1eb"/>
<polygon points="688.2,750.1 702.5,779 771,782 777.5,748.8 741.4,709.9 699.8,708.8" fill="#e7ecf2"/>
<polygon points="646.9,652.1 714.2,621.5 708.4,593.4 671.8,574 627.9,588.5 622.8,617.9" fill="#d9e2ec"/>
<polygon points="166.7,198.2 178.4,141.5 171.4,126.2 106.1,114.1 95.8,122.1 113.7,194 140.1,204.1" fill="#dee6ee"/>
<polygon points="227.1,958.2 193.5,892.2 169,888.5 134.5,901.6 140,920 165,985 221.1,988.6" fill="#ebf0f5"/>
<polygon points="606.9,912.7 615,920.4 643.4,927.8 667.1,905 656.2,855.3 631.5,856.7 600.3,890" fill="#dae2ec"/>
<polygon points="671.8,574 708.4,593.4 734.8,565.7 724.1,515.9 717,510.4 677.3,517.5" fill="#e1e7ef"/>
<polygon points="740.7,936.2 719.6,924.3 684.5,964.4 694.4,998.5 720,990 730,975 753.7,980.9" fill="#d8e1eb"/>
<polygon points="568.7,878.1 549.7,847.3 534.7,844 500.2,923 501.3,927.3 536.6,931.6" fill="#dde5ee"/>
<polygon points="236.3,253.8 262.1,249.7 296,183 281,166.1 274.3,164.2 194.6,219.3 198.7,230" fill="#dde5ee"/>
<polygon points="216.4,689.1 280.4,698.2 297.5,666.1 296.8,645.6 280.1,625.2 278.5,624.6 216.8,676.8" fill="#e6ecf2"/>
<polygon points="717,510.4 723.8,462.8 681.5,441.5 650.2,499 677.3,517.5" fill="#dbe3ed"/>
<polygon points="365.4,468.2 370.1,469 397.9,436.2 369.4,392.2 328.6,425.4" fill="#d8e1eb"/>
<polygon points="318.3,522 327.9,543.7 329.8,545 387.2,502.6 370.1,469 365.4,468.2 327.4,485.8" fill="#dae2ec"/>
<polygon points="601.7,774.5 592.4,816.3 631.5,856.7 656.2,855.3 681,831.5 680.7,826.1 604.1,772.9" fill="#e4eaf1"/>
<polygon points="650.2,499 617.5,499.1 609.5,518.5 625.9,586.1 627.9,588.5 671.8,574 677.3,517.5" fill="#dce4ed"/>
<polygon points="501.8,693.5 490.3,675.1 431.1,664.4 416.1,709.5 429.9,729.6 483.1,718.7" fill="#e3e9f1"/>
<polygon points="397.7,770.8 418.7,815.4 431.8,811.9 449.2,767.8 428.6,742.5" fill="#ecf0f5"/>
<polygon points="200.6,305.2 175.3,276.6 127,293.4 147.6,332.1 179.4,333.4" fill="#edf1f6"/>
<polygon points="134.2,635.5 132,680 129.6,703.6 201.3,711.3 216.4,689.1 216.8,676.8 187.1,622.9" fill="#ecf1f5"/>
<polygon points="340.1,331.2 382.7,295.3 385.4,279.9 384.9,278.7 330.4,259.5 295.7,280.7 292.1,305.6" fill="#eaeef4"/>
<polygon points="272.3,788.8 289.9,811.8 298.7,814.7 343.6,803.5 355.5,764.8 353.5,760.3 336,746.9 272.6,765.2" fill="#eaeff4"/>
<polygon points="304.4,906.9 330.8,958.1 406.5,924.8 405.3,901.1 345.4,879.2 318.8,890" fill="#e3e9f0"/>
<polygon points="500,285.7 566.7,331.6 603.5,266.4 519.1,262.7" fill="#dee5ee"/>
<polygon points="186,89.5 244.1,87.4 277.4,40 169,40" fill="#e2e9f0"/>
<polygon points="417.2,436.4 448.7,491 456,492.5 498.1,421.3 446.9,407.8" fill="#e4ebf1"/>
<polygon points="168.6,461.5 182.4,421.1 170.9,398.5 133.6,380.5 90.7,393.9 95,420 102.8,473.8" fill="#dfe6ef"/>
<polygon points="343.6,803.5 298.7,814.7 318.8,890 345.4,879.2 362.8,827.5" fill="#e7edf3"/>
<polygon points="490.3,675.1 503.2,612.4 445.2,598.5 424.4,651.9 431.1,664.4" fill="#e4eaf1"/>
<polygon points="500.2,923 461.9,876.3 420.1,881 405.3,901.1 406.5,924.8 419.1,942 484.4,948.6 501.3,927.3" fill="#dce4ed"/>
<polygon points="789.4,587.2 769.2,568.2 734.8,565.7 708.4,593.4 714.2,621.5 723.8,630.8 733.5,633 787.2,605.9" fill="#e5ebf2"/>
<polygon points="491.9,773.8 491.4,773.3 449.2,767.8 431.8,811.9 468.3,821.3" fill="#eaeff4"/>
<polygon points="662.8,1011 670,1065 695,1060 690.2,1002" fill="#d9e1eb"/>
<polygon points="402,222.9 384.9,278.7 385.4,279.9 480.6,290.1 444.6,205.3" fill="#dde5ee"/>
<polygon points="186.5,794.6 212,809.4 272.3,788.8 272.6,765.2 267.4,756.3 209.4,735.2" fill="#e6ecf2"/>
<polygon points="229.4,306.6 236.3,253.8 198.7,230 175.3,276.6 200.6,305.2" fill="#e6ecf2"/>
<polygon points="129.6,703.6 125,750 122.1,789.9 166.2,800.2 186.5,794.6 209.4,735.2 201.3,711.3" fill="#e2e9f0"/>
<polygon points="753.7,980.9 790,990 805,985 810,940 827.9,904.1 809.9,899.4 740.7,936.2" fill="#e1e8ef"/>
<polygon points="330.8,958.1 304.4,906.9 291.7,906.2 227.1,958.2 221.1,988.6 328,995.4" fill="#e9eef3"/>
<polygon points="261.6,472.2 268.9,500.3 318.3,522 327.4,485.8 303.9,462.7" fill="#eef2f6"/>
<polygon points="242.5,391.1 228.5,418.5 252.7,453 296.8,406.2" fill="#e9eef4"/>
<polygon points="614.8,755.2 610.2,705.7 563,684.1 534.4,700.1 545.5,762.6 601.7,774.5 604.1,772.9" fill="#dce4ed"/>
<polygon points="435.1,581.1 483,520.8 456,492.5 448.7,491 404,510.3 409.3,571.1" fill="#ebeff4"/>
<polygon points="187.1,622.9 216.8,676.8 278.5,624.6 260.2,604.1 193.2,613.1" fill="#e4eaf1"/>
<polygon points="453.6,152.8 450.3,197.7 520.7,215.4 546,192 525,165 483.3,131.7" fill="#eaeff4"/>
<polygon points="201.3,711.3 209.4,735.2 267.4,756.3 283.1,706.7 280.4,698.2 216.4,689.1" fill="#e9eef4"/>
<polygon points="729,859.4 762.3,849.4 780.2,797.7 771,782 702.5,779 680.7,826.1 681,831.5" fill="#eaeff4"/>
<polygon points="267.4,756.3 272.6,765.2 336,746.9 329.5,726.4 283.1,706.7" fill="#e5ebf1"/>
<polygon points="631.5,856.7 592.4,816.3 549.7,847.3 568.7,878.1 600.3,890" fill="#eaeff4"/>
<polygon points="246.4,865.5 289.9,811.8 272.3,788.8 212,809.4 231,863.6" fill="#edf2f6"/>
<polygon points="824.2,711.4 823.9,714.2 876,771.7 895,740 915,705 875.4,669.4" fill="#ebf0f5"/>
<polygon points="386.6,112.6 388.9,118.9 453.6,152.8 483.3,131.7 475,125 450,100 460,80 492,40 413.9,40" fill="#eaeff4"/>
<polygon points="446.9,407.8 498.1,421.3 499.1,421 504.7,413.5 503,362.2 475.4,330.4 428,359.4" fill="#e3e9f1"/>
<polygon points="614.8,755.2 688.2,750.1 699.8,708.8 699.7,708.6 646.7,676.7 610.2,705.7" fill="#edf1f5"/>
<polygon points="520.7,215.4 519.1,262.7 603.5,266.4 609.8,262.2 600,250 560,210 546,192" fill="#edf2f6"/>
</g>
<g stroke-width="8.5">
<polygon points="32,40 492,40 460,80 450,100 475,125 525,165 560,210 480,260 420,330 380,420 100,450 80,330 65,230 50,130" fill="none" stroke="#f4f7fa" stroke-width="13.5" stroke-opacity="0.8"/>
<polygon points="32,40 492,40 460,80 450,100 475,125 525,165 560,210 480,260 420,330 380,420 100,450 80,330 65,230 50,130" fill="#d6dfea" stroke="#d6dfea"/>
<polygon points="32.5,40 62.5,40 47.5,115 37.5,75" fill="none" stroke="#f4f7fa" stroke-width="13.5" stroke-opacity="0.8"/>
<polygon points="32.5,40 62.5,40 47.5,115 37.5,75" fill="#cad6e5" stroke="#cad6e5"/>
<polygon points="62.5,40 90,40 100,70 120,90 125,117.5 50,120 47.5,115" fill="none" stroke="#f4f7fa" stroke-width="13.5" stroke-opacity="0.8"/>
<polygon points="62.5,40 90,40 100,70 120,90 125,117.5 50,120 47.5,115" fill="#5c8dbf" stroke="#5c8dbf"/>
<polygon points="90,40 147.5,40 135,70 120,90 100,70" fill="none" stroke="#f4f7fa" stroke-width="13.5" stroke-opacity="0.8"/>
<polygon points="90,40 147.5,40 135,70 120,90 100,70" fill="#cfdae7" stroke="#cfdae7"/>
<polygon points="147.5,40 175,40 170,70 157.5,100 145,115 137.5,95 120,90 135,70" fill="none" stroke="#f4f7fa" stroke-width="13.5" stroke-opacity="0.8"/>
<polygon points="147.5,40 175,40 170,70 157.5,100 145,115 137.5,95 120,90 135,70" fill="#3c76b2" stroke="#3c76b2"/>
<polygon points="175,40 235,40 225,85 200,120 157.5,100 170,70" fill="none" stroke="#f4f7fa" stroke-width="13.5" stroke-opacity="0.8"/>
<polygon points="175,40 235,40 225,85 200,120 157.5,100 170,70" fill="#cfdae7" stroke="#cfdae7"/>
<polygon points="235,40 325,40 305,100 275,140 225,85" fill="none" stroke="#f4f7fa" stroke-width="13.5" stroke-opacity="0.8"/>
<polygon points="235,40 325,40 305,100 275,140 225,85" fill="#d8e0eb" stroke="#d8e0eb"/>
<polygon points="325,40 492.5,40 460,80 405,85 350,125 305,100" fill="none" stroke="#f4f7fa" stroke-width="13.5" stroke-opacity="0.8"/>
<polygon points="325,40 492.5,40 460,80 405,85 350,125 305,100" fill="#d8e0eb" stroke="#d8e0eb"/>
<polygon points="295,115 335,100 350,125 325,145" fill="none" stroke="#f4f7fa" stroke-width="13.5" stroke-opacity="0.8"/>
<polygon points="295,115 335,100 350,125 325,145" fill="#c2d1e2" stroke="#c2d1e2"/>
<polygon points="400,85 440,100 435,145 405,140" fill="none" stroke="#f4f7fa" stroke-width="13.5" stroke-opacity="0.8"/>
<polygon points="400,85 440,100 435,145 405,140" fill="#c2d1e2" stroke="#c2d1e2"/>
<polygon points="50,122.5 125,120 125,140 115,160 65,190 55,155" fill="none" stroke="#f4f7fa" stroke-width="13.5" stroke-opacity="0.8"/>
<polygon points="50,122.5 125,120 125,140 115,160 65,190 55,155" fill="#cfdae7" stroke="#cfdae7"/>
<polygon points="65,190 115,160 125,140 132.5,170 132.5,232.5 67.5,235 60,205" fill="none" stroke="#f4f7fa" stroke-width="13.5" stroke-opacity="0.8"/>
<polygon points="65,190 115,160 125,140 132.5,170 132.5,232.5 67.5,235 60,205" fill="#78a0c8" stroke="#78a0c8"/>
<polygon points="132.5,122.5 200,122.5 200,170 132.5,170" fill="none" stroke="#f4f7fa" stroke-width="13.5" stroke-opacity="0.8"/>
<polygon points="132.5,122.5 200,122.5 200,170 132.5,170" fill="#a4bdd8" stroke="#a4bdd8"/>
<polygon points="212.5,142.5 265,142.5 275,170 212.5,170" fill="none" stroke="#f4f7fa" stroke-width="13.5" stroke-opacity="0.8"/>
<polygon points="212.5,142.5 265,142.5 275,170 212.5,170" fill="#78a0c8" stroke="#78a0c8"/>
<polygon points="140,175 205,175 205,235 140,235" fill="none" stroke="#f4f7fa" stroke-width="13.5" stroke-opacity="0.8"/>
<polygon points="140,175 205,175 205,235 140,235" fill="#3c76b2" stroke="#3c76b2"/>
<polygon points="212.5,175 275,172.5 277.5,220 260,235 212.5,237.5" fill="none" stroke="#f4f7fa" stroke-width="13.5" stroke-opacity="0.8"/>
<polygon points="212.5,175 275,172.5 277.5,220 260,235 212.5,237.5" fill="#4c82b8" stroke="#4c82b8"/>
<polygon points="285,190 335,192.5 325,225 305,245 285,235" fill="none" stroke="#f4f7fa" stroke-width="13.5" stroke-opacity="0.8"/>
<polygon points="285,190 335,192.5 325,225 305,245 285,235" fill="#3c76b2" stroke="#3c76b2"/>
<polygon points="335,170 345,155 375,150 397.5,160 395,190 375,220 355,235 330,225 345,195" fill="none" stroke="#f4f7fa" stroke-width="13.5" stroke-opacity="0.8"/>
<polygon points="335,170 345,155 375,150 397.5,160 395,190 375,220 355,235 330,225 345,195" fill="#346eaa" stroke="#346eaa"/>
<polygon points="397.5,200 435,210 445,240 430,260 395,250 370,235" fill="none" stroke="#f4f7fa" stroke-width="13.5" stroke-opacity="0.8"/>
<polygon points="397.5,200 435,210 445,240 430,260 395,250 370,235" fill="#5c8dbf" stroke="#5c8dbf"/>
<polygon points="360,250 395,252.5 420,265 405,280 375,275 355,265" fill="none" stroke="#f4f7fa" stroke-width="13.5" stroke-opacity="0.8"/>
<polygon points="360,250 395,252.5 420,265 405,280 375,275 355,265" fill="#94b2d2" stroke="#94b2d2"/>
<polygon points="425,270 450,257.5 467.5,275 465,290 440,285" fill="none" stroke="#f4f7fa" stroke-width="13.5" stroke-opacity="0.8"/>
<polygon points="425,270 450,257.5 467.5,275 465,290 440,285" fill="#235894" stroke="#235894"/>
<polygon points="70,245 135,245 135,305 80,325 72.5,285" fill="none" stroke="#f4f7fa" stroke-width="13.5" stroke-opacity="0.8"/>
<polygon points="70,245 135,245 135,305 80,325 72.5,285" fill="#cfdae7" stroke="#cfdae7"/>
<polygon points="140,255 190,245 192.5,305 140,297.5" fill="none" stroke="#f4f7fa" stroke-width="13.5" stroke-opacity="0.8"/>
<polygon points="140,255 190,245 192.5,305 140,297.5" fill="#78a0c8" stroke="#78a0c8"/>
<polygon points="197.5,250 250,250 255,270 235,305 197.5,305" fill="none" stroke="#f4f7fa" stroke-width="13.5" stroke-opacity="0.8"/>
<polygon points="197.5,250 250,250 255,270 235,305 197.5,305" fill="#2c66a3" stroke="#2c66a3"/>
<polygon points="305,250 330,230 355,240 355,265 370,280 345,305 320,315 285,275" fill="none" stroke="#f4f7fa" stroke-width="13.5" stroke-opacity="0.8"/>
<polygon points="305,250 330,230 355,240 355,265 370,280 345,305 320,315 285,275" fill="#285f9c" stroke="#285f9c"/>
<polygon points="270,270 285,275 320,320 305,340 270,335 267.5,295" fill="none" stroke="#f4f7fa" stroke-width="13.5" stroke-opacity="0.8"/>
<polygon points="270,270 285,275 320,320 305,340 270,335 267.5,295" fill="#235894" stroke="#235894"/>
<polygon points="260,230 275,222.5 285,235 300,250 285,265 270,265 260,280 255,305 240,335 225,360 190,365 180,355 215,325 240,295 255,270 252.5,245" fill="none" stroke="#f4f7fa" stroke-width="13.5" stroke-opacity="0.8"/>
<polygon points="260,230 275,222.5 285,235 300,250 285,265 270,265 260,280 255,305 240,335 225,360 190,365 180,355 215,325 240,295 255,270 252.5,245" fill="#194381" stroke="#194381"/>
<polygon points="375,285 410,290 415,310 395,340 370,345 345,315" fill="none" stroke="#f4f7fa" stroke-width="13.5" stroke-opacity="0.8"/>
<polygon points="375,285 410,290 415,310 395,340 370,345 345,315" fill="#3c76b2" stroke="#3c76b2"/>
<polygon points="325,320 345,320 340,345 320,355 310,345" fill="none" stroke="#f4f7fa" stroke-width="13.5" stroke-opacity="0.8"/>
<polygon points="325,320 345,320 340,345 320,355 310,345" fill="#78a0c8" stroke="#78a0c8"/>
<polygon points="345,330 370,350 385,355 380,375 355,390 330,365" fill="none" stroke="#f4f7fa" stroke-width="13.5" stroke-opacity="0.8"/>
<polygon points="345,330 370,350 385,355 380,375 355,390 330,365" fill="#346eaa" stroke="#346eaa"/>
<polygon points="165,315 210,310 215,325 180,350 165,345" fill="none" stroke="#f4f7fa" stroke-width="13.5" stroke-opacity="0.8"/>
<polygon points="165,315 210,310 215,325 180,350 165,345" fill="#346eaa" stroke="#346eaa"/>
<polygon points="85,340 125,325 142.5,310 157.5,320 160,355 175,365 160,385 87.5,382.5" fill="none" stroke="#f4f7fa" stroke-width="13.5" stroke-opacity="0.8"/>
<polygon points="85,340 125,325 142.5,310 157.5,320 160,355 175,365 160,385 87.5,382.5" fill="#346eaa" stroke="#346eaa"/>
<polygon points="245,345 275,345 280,360 265,385 250,375" fill="none" stroke="#f4f7fa" stroke-width="13.5" stroke-opacity="0.8"/>
<polygon points="245,345 275,345 280,360 265,385 250,375" fill="#3c76b2" stroke="#3c76b2"/>
<polygon points="285,350 305,345 335,375 335,395 305,410 270,400 270,385" fill="none" stroke="#f4f7fa" stroke-width="13.5" stroke-opacity="0.8"/>
<polygon points="285,350 305,345 335,375 335,395 305,410 270,400 270,385" fill="#346eaa" stroke="#346eaa"/>
<polygon points="145,390 170,375 215,375 210,395 225,425 155,427.5" fill="none" stroke="#f4f7fa" stroke-width="13.5" stroke-opacity="0.8"/>
<polygon points="145,390 170,375 215,375 210,395 225,425 155,427.5" fill="#346eaa" stroke="#346eaa"/>
<polygon points="215,370 240,370 255,405 240,425 220,405" fill="none" stroke="#f4f7fa" stroke-width="13.5" stroke-opacity="0.8"/>
<polygon points="215,370 240,370 255,405 240,425 220,405" fill="#d8e0eb" stroke="#d8e0eb"/>
<polygon points="255,410 305,415 300,435 250,430" fill="none" stroke="#f4f7fa" stroke-width="13.5" stroke-opacity="0.8"/>
<polygon points="255,410 305,415 300,435 250,430" fill="#a4bdd8" stroke="#a4bdd8"/>
<polygon points="320,415 345,405 355,435 325,440" fill="none" stroke="#f4f7fa" stroke-width="13.5" stroke-opacity="0.8"/>
<polygon points="320,415 345,405 355,435 325,440" fill="#78a0c8" stroke="#78a0c8"/>
<polygon points="100,390 145,390 152.5,430 100,437.5" fill="none" stroke="#f4f7fa" stroke-width="13.5" stroke-opacity="0.8"/>
<polygon points="100,390 145,390 152.5,430 100,437.5" fill="#d8e0eb" stroke="#d8e0eb"/>
<polygon points="100,455 160,440 160,507.5 107.5,510" fill="none" stroke="#f4f7fa" stroke-width="13.5" stroke-opacity="0.8"/>
<polygon points="100,455 160,440 160,507.5 107.5,510" fill="#2c66a3" stroke="#2c66a3"/>
<polygon points="325,445 360,445 370,475 385,500 345,512.5 310,510 325,485" fill="none" stroke="#f4f7fa" stroke-width="13.5" stroke-opacity="0.8"/>
<polygon points="325,445 360,445 370,475 385,500 345,512.5 310,510 325,485" fill="#4c82b8" stroke="#4c82b8"/>
<polygon points="445,455 495,450 500,495 450,495" fill="none" stroke="#f4f7fa" stroke-width="13.5" stroke-opacity="0.8"/>
<polygon points="445,455 495,450 500,495 450,495" fill="#b5c8dd" stroke="#b5c8dd"/>
<rect x="450" y="100" width="70" height="100" fill="none" stroke="#f4f7fa" stroke-width="13.5" stroke-opacity="0.8"/>
<rect x="450" y="100" width="70" height="100" fill="#cfdae7" stroke="#cfdae7"/>
<polygon points="625,335 680,345 700,380 660,395 630,380" fill="none" stroke="#f4f7fa" stroke-width="13.5" stroke-opacity="0.8"/>
<polygon points="625,335 680,345 700,380 660,395 630,380" fill="#c2d1e2" stroke="#c2d1e2"/>
<polygon points="655,410 698,378 725,422 690,428" fill="none" stroke="#f4f7fa" stroke-width="13.5" stroke-opacity="0.8"/>
<polygon points="655,410 698,378 725,422 690,428" fill="#3973af" stroke="#3973af"/>
<polygon points="660,440 740,435 780,480 720,520 655,520" fill="none" stroke="#f4f7fa" stroke-width="13.5" stroke-opacity="0.8"/>
<polygon points="660,440 740,435 780,480 720,520 655,520" fill="#b5c8dd" stroke="#b5c8dd"/>
<polygon points="690,510 740,520 740,560 695,565" fill="none" stroke="#f4f7fa" stroke-width="13.5" stroke-opacity="0.8"/>
<polygon points="690,510 740,520 740,560 695,565" fill="#b5c8dd" stroke="#b5c8dd"/>
<polygon points="745,490 790,490 830,570 790,600 760,570 745,520" fill="none" stroke="#f4f7fa" stroke-width="13.5" stroke-opacity="0.8"/>
<polygon points="745,490 790,490 830,570 790,600 760,570 745,520" fill="#d8e0eb" stroke="#d8e0eb"/>
<polygon points="710,580 760,570 800,640 750,670 715,620" fill="none" stroke="#f4f7fa" stroke-width="13.5" stroke-opacity="0.8"/>
<polygon points="710,580 760,570 800,640 750,670 715,620" fill="#b2c6dc" stroke="#b2c6dc"/>
<polygon points="795,600 840,585 860,650 830,680 800,640" fill="none" stroke="#f4f7fa" stroke-width="13.5" stroke-opacity="0.8"/>
<polygon points="795,600 840,585 860,650 830,680 800,640" fill="#b2c6dc" stroke="#b2c6dc"/>
<polygon points="825,690 855,660 915,705 880,760 860,770 850,720" fill="none" stroke="#f4f7fa" stroke-width="13.5" stroke-opacity="0.8"/>
<polygon points="825,690 855,660 915,705 880,760 860,770 850,720" fill="#2c66a3" stroke="#2c66a3"/>
<polygon points="745,710 770,695 800,740 830,750 860,790 850,800 790,770 755,740" fill="none" stroke="#f4f7fa" stroke-width="13.5" stroke-opacity="0.8"/>
<polygon points="745,710 770,695 800,740 830,750 860,790 850,800 790,770 755,740" fill="#346eaa" stroke="#346eaa"/>
<rect x="705" y="655" width="35" height="40" fill="none" stroke="#f4f7fa" stroke-width="13.5" stroke-opacity="0.8"/>
<rect x="705" y="655" width="35" height="40" fill="#b5c8dd" stroke="#b5c8dd"/>
<polygon points="780,790 840,800 835,860 790,840" fill="none" stroke="#f4f7fa" stroke-width="13.5" stroke-opacity="0.8"/>
<polygon points="780,790 840,800 835,860 790,840" fill="#c2d1e2" stroke="#c2d1e2"/>
<polygon points="760,840 800,850 830,880 810,920 750,890" fill="none" stroke="#f4f7fa" stroke-width="13.5" stroke-opacity="0.8"/>
<polygon points="760,840 800,850 830,880 810,920 750,890" fill="#4c82b8" stroke="#4c82b8"/>
<polygon points="730,905 760,895 805,925 800,985 725,970 720,930" fill="none" stroke="#f4f7fa" stroke-width="13.5" stroke-opacity="0.8"/>
<polygon points="730,905 760,895 805,925 800,985 725,970 720,930" fill="#4c82b8" stroke="#4c82b8"/>
<polygon points="445,455 480,450 500,490 460,495 440,480" fill="none" stroke="#f4f7fa" stroke-width="13.5" stroke-opacity="0.8"/>
<polygon points="445,455 480,450 500,490 460,495 440,480" fill="#b5c8dd" stroke="#b5c8dd"/>
<polygon points="480,400 540,390 555,450 500,465" fill="none" stroke="#f4f7fa" stroke-width="13.5" stroke-opacity="0.8"/>
<polygon points="480,400 540,390 555,450 500,465" fill="#cfdae7" stroke="#cfdae7"/>
<polygon points="490,575 560,555 580,600 540,660 510,650 480,600" fill="none" stroke="#f4f7fa" stroke-width="13.5" stroke-opacity="0.8"/>
<polygon points="490,575 560,555 580,600 540,660 510,650 480,600" fill="#a4bdd8" stroke="#a4bdd8"/>
<polygon points="460,650 485,615 510,660 530,680 490,720 455,690" fill="none" stroke="#f4f7fa" stroke-width="13.5" stroke-opacity="0.8"/>
<polygon points="460,650 485,615 510,660 530,680 490,720 455,690" fill="#a4bdd8" stroke="#a4bdd8"/>
<polygon points="370,600 385,565 405,565 415,610 400,640 360,635" fill="none" stroke="#f4f7fa" stroke-width="13.5" stroke-opacity="0.8"/>
<polygon points="370,600 385,565 405,565 415,610 400,640 360,635" fill="#346eaa" stroke="#346eaa"/>
<polygon points="355,520 385,500 415,530 400,555 370,550" fill="none" stroke="#f4f7fa" stroke-width="13.5" stroke-opacity="0.8"/>
<polygon points="355,520 385,500 415,530 400,555 370,550" fill="#2c66a3" stroke="#2c66a3"/>
<polygon points="325,450 355,445 375,490 350,515 320,510" fill="none" stroke="#f4f7fa" stroke-width="13.5" stroke-opacity="0.8"/>
<polygon points="325,450 355,445 375,490 350,515 320,510" fill="#4c82b8" stroke="#4c82b8"/>
<polygon points="305,525 350,525 365,560 340,585 310,570" fill="none" stroke="#f4f7fa" stroke-width="13.5" stroke-opacity="0.8"/>
<polygon points="305,525 350,525 365,560 340,585 310,570" fill="#5c8dbf" stroke="#5c8dbf"/>
<polygon points="130,575 200,580 170,620 145,610" fill="none" stroke="#f4f7fa" stroke-width="13.5" stroke-opacity="0.8"/>
<polygon points="130,575 200,580 170,620 145,610" fill="#2c66a3" stroke="#2c66a3"/>
<polygon points="620,460 650,450 660,520 625,525" fill="none" stroke="#f4f7fa" stroke-width="13.5" stroke-opacity="0.8"/>
<polygon points="620,460 650,450 660,520 625,525" fill="#b5c8dd" stroke="#b5c8dd"/>
<rect x="250" y="675" width="80" height="50" fill="none" stroke="#f4f7fa" stroke-width="13.5" stroke-opacity="0.8"/>
<rect x="250" y="675" width="80" height="50" fill="#b5c8dd" stroke="#b5c8dd"/>
<rect x="345" y="705" width="50" height="40" fill="none" stroke="#f4f7fa" stroke-width="13.5" stroke-opacity="0.8"/>
<rect x="345" y="705" width="50" height="40" fill="#78a0c8" stroke="#78a0c8"/>
<rect x="130" y="660" width="70" height="50" fill="none" stroke="#f4f7fa" stroke-width="13.5" stroke-opacity="0.8"/>
<rect x="130" y="660" width="70" height="50" fill="#c2d1e2" stroke="#c2d1e2"/>
<rect x="150" y="740" width="90" height="50" fill="none" stroke="#f4f7fa" stroke-width="13.5" stroke-opacity="0.8"/>
<rect x="150" y="740" width="90" height="50" fill="#cfdae7" stroke="#cfdae7"/>
<rect x="275" y="730" width="45" height="60" fill="none" stroke="#f4f7fa" stroke-width="13.5" stroke-opacity="0.8"/>
<rect x="275" y="730" width="45" height="60" fill="#b5c8dd" stroke="#b5c8dd"/>
<rect x="245" y="795" width="75" height="30" fill="none" stroke="#f4f7fa" stroke-width="13.5" stroke-opacity="0.8"/>
<rect x="245" y="795" width="75" height="30" fill="#a4bdd8" stroke="#a4bdd8"/>
<polygon points="330,750 385,750 390,850 335,850" fill="none" stroke="#f4f7fa" stroke-width="13.5" stroke-opacity="0.8"/>
<polygon points="330,750 385,750 390,850 335,850" fill="#b5c8dd" stroke="#b5c8dd"/>
<rect x="395" y="745" width="45" height="55" fill="none" stroke="#f4f7fa" stroke-width="13.5" stroke-opacity="0.8"/>
<rect x="395" y="745" width="45" height="55" fill="#cfdae7" stroke="#cfdae7"/>
<polygon points="395,805 430,805 440,835 410,855 395,840" fill="none" stroke="#f4f7fa" stroke-width="13.5" stroke-opacity="0.8"/>
<polygon points="395,805 430,805 440,835 410,855 395,840" fill="#78a0c8" stroke="#78a0c8"/>
<polygon points="440,830 500,825 500,890 445,890" fill="none" stroke="#f4f7fa" stroke-width="13.5" stroke-opacity="0.8"/>
<polygon points="440,830 500,825 500,890 445,890" fill="#b5c8dd" stroke="#b5c8dd"/>
<polygon points="500,800 520,760 540,785 575,785 580,840 510,845" fill="none" stroke="#f4f7fa" stroke-width="13.5" stroke-opacity="0.8"/>
<polygon points="500,800 520,760 540,785 575,785 580,840 510,845" fill="#a4bdd8" stroke="#a4bdd8"/>
<polygon points="240,895 322,835 325,912 290,912" fill="none" stroke="#f4f7fa" stroke-width="13.5" stroke-opacity="0.8"/>
<polygon points="240,895 322,835 325,912 290,912" fill="#a4bdd8" stroke="#a4bdd8"/>
<rect x="330" y="860" width="80" height="55" fill="none" stroke="#f4f7fa" stroke-width="13.5" stroke-opacity="0.8"/>
<rect x="330" y="860" width="80" height="55" fill="#a4bdd8" stroke="#a4bdd8"/>
<rect x="415" y="860" width="30" height="55" fill="none" stroke="#f4f7fa" stroke-width="13.5" stroke-opacity="0.8"/>
<rect x="415" y="860" width="30" height="55" fill="#b5c8dd" stroke="#b5c8dd"/>
<rect x="185" y="915" width="65" height="75" fill="none" stroke="#f4f7fa" stroke-width="13.5" stroke-opacity="0.8"/>
<rect x="185" y="915" width="65" height="75" fill="#a4bdd8" stroke="#a4bdd8"/>
<rect x="255" y="915" width="55" height="75" fill="none" stroke="#f4f7fa" stroke-width="13.5" stroke-opacity="0.8"/>
<rect x="255" y="915" width="55" height="75" fill="#a4bdd8" stroke="#a4bdd8"/>
<rect x="315" y="920" width="55" height="70" fill="none" stroke="#f4f7fa" stroke-width="13.5" stroke-opacity="0.8"/>
<rect x="315" y="920" width="55" height="70" fill="#abc1da" stroke="#abc1da"/>
<rect x="375" y="930" width="50" height="65" fill="none" stroke="#f4f7fa" stroke-width="13.5" stroke-opacity="0.8"/>
<rect x="375" y="930" width="50" height="65" fill="#d8e0eb" stroke="#d8e0eb"/>
<polygon points="430,930 475,925 480,945 500,945 495,970 480,980 485,1000 445,1005 425,975" fill="none" stroke="#f4f7fa" stroke-width="13.5" stroke-opacity="0.8"/>
<polygon points="430,930 475,925 480,945 500,945 495,970 480,980 485,1000 445,1005 425,975" fill="#2c66a3" stroke="#2c66a3"/>
<polygon points="520,900 560,890 600,940 610,1000 590,1010 560,960 525,950" fill="none" stroke="#f4f7fa" stroke-width="13.5" stroke-opacity="0.8"/>
<polygon points="520,900 560,890 600,940 610,1000 590,1010 560,960 525,950" fill="#b5c8dd" stroke="#b5c8dd"/>
<rect x="585" y="830" width="45" height="60" fill="none" stroke="#f4f7fa" stroke-width="13.5" stroke-opacity="0.8"/>
<rect x="585" y="830" width="45" height="60" fill="#baccdf" stroke="#baccdf"/>
<rect x="632" y="840" width="48" height="40" fill="none" stroke="#f4f7fa" stroke-width="13.5" stroke-opacity="0.8"/>
<rect x="632" y="840" width="48" height="40" fill="#cfdae7" stroke="#cfdae7"/>
<rect x="625" y="980" width="35" height="35" fill="none" stroke="#f4f7fa" stroke-width="13.5" stroke-opacity="0.8"/>
<rect x="625" y="980" width="35" height="35" fill="#c2d1e2" stroke="#c2d1e2"/>
<polygon points="600,690 640,690 650,760 610,770" fill="none" stroke="#f4f7fa" stroke-width="13.5" stroke-opacity="0.8"/>
<polygon points="600,690 640,690 650,760 610,770" fill="#cfdae7" stroke="#cfdae7"/>
<polygon points="540,690 590,680 600,760 545,770" fill="none" stroke="#f4f7fa" stroke-width="13.5" stroke-opacity="0.8"/>
<polygon points="540,690 590,680 600,760 545,770" fill="#cfdae7" stroke="#cfdae7"/>
</g>
</g></g></g>
<g id="florida" transform="translate(725,335) scale(0.2)">
<defs><clipPath id="florida-clip"><polygon points="42,82 351,80 364,116 371,122 500,128 630,138 665,142 700,160 710,150 715,112 730,110 777,125 780,150 785,195 805,265 820,310 855,375 880,420 897,480 912,525 927,595 940,635 945,715 935,767 930,795 912,825 925,835 900,855 860,870 845,866 820,866 810,835 795,785 760,770 745,755 735,725 725,695 700,700 685,665 677,632 670,620 650,575 632,545 645,530 660,518 655,512 640,525 627,538 620,515 612,475 625,445 632,435 630,400 632,367 652,350 650,332 630,342 610,332 582,305 575,300 547,265 540,245 510,225 480,205 440,200 400,210 370,225 345,245 331,258 309,249 305,222 280,204 253,184 237,165 185,160 136,158 78,165 62,171 72,148 58,122 55,96"/></clipPath><filter id="florida-bl" x="-5%" y="-5%" width="110%" height="110%"><feGaussianBlur stdDeviation="1.75"/></filter></defs>
<g filter="url(#florida-bl)"><g clip-path="url(#florida-clip)" stroke-linejoin="round">
<polygon points="42,82 351,80 364,116 371,122 500,128 630,138 665,142 700,160 710,150 715,112 730,110 777,125 780,150 785,195 805,265 820,310 855,375 880,420 897,480 912,525 927,595 940,635 945,715 935,767 930,795 912,825 925,835 900,855 860,870 845,866 820,866 810,835 795,785 760,770 745,755 735,725 725,695 700,700 685,665 677,632 670,620 650,575 632,545 645,530 660,518 655,512 640,525 627,538 620,515 612,475 625,445 632,435 630,400 632,367 652,350 650,332 630,342 610,332 582,305 575,300 547,265 540,245 510,225 480,205 440,200 400,210 370,225 345,245 331,258 309,249 305,222 280,204 253,184 237,165 185,160 136,158 78,165 62,171 72,148 58,122 55,96" fill="#e0e7ef"/>
<g stroke-width="5">
<polygon points="715,112 730,110 777,125 780,150 785,195 805,265 820,310 855,375 880,420 897,480 912,525 927,595 940,635 945,715 935,767 930,795 912,825 925,835 900,855 860,870 845,866 820,866 810,835 795,785 760,770 745,755 735,725 725,695 700,700 685,665 677,632 670,620 650,575 632,545 620,515 612,475 625,445 632,435 630,400 632,367 655,340 665,320 665,290 640,270 640,245 655,230 700,250 715,250 712,195 710,150" fill="none" stroke="#f4f7fa" stroke-width="11" stroke-opacity="0.9"/>
<polygon points="715,112 730,110 777,125 780,150 785,195 805,265 820,310 855,375 880,420 897,480 912,525 927,595 940,635 945,715 935,767 930,795 912,825 925,835 900,855 860,870 845,866 820,866 810,835 795,785 760,770 745,755 735,725 725,695 700,700 685,665 677,632 670,620 650,575 632,545 620,515 612,475 625,445 632,435 630,400 632,367 655,340 665,320 665,290 640,270 640,245 655,230 700,250 715,250 712,195 710,150" fill="#2f69a6" stroke="#2f69a6"/>
<polygon points="42.25,83.5 81.25,80.25 78,116 94.25,148.5 78,164.8 61.75,171.2 71.5,148.5 58.5,122.5 55.25,96.5" fill="none" stroke="#f4f7fa" stroke-width="11" stroke-opacity="0.9"/>
<polygon points="42.25,83.5 81.25,80.25 78,116 94.25,148.5 78,164.8 61.75,171.2 71.5,148.5 58.5,122.5 55.25,96.5" fill="#255b97" stroke="#255b97"/>
<polygon points="87.75,80.25 133.2,80.25 136.5,155 97.5,158.2 97.5,145.2 81.25,116" fill="none" stroke="#f4f7fa" stroke-width="11" stroke-opacity="0.9"/>
<polygon points="87.75,80.25 133.2,80.25 136.5,155 97.5,158.2 97.5,145.2 81.25,116" fill="#5c8dbf" stroke="#5c8dbf"/>
<polygon points="139.8,80.25 185.2,80.25 185.2,158.2 139.8,158.2" fill="none" stroke="#f4f7fa" stroke-width="11" stroke-opacity="0.9"/>
<polygon points="139.8,80.25 185.2,80.25 185.2,158.2 139.8,158.2" fill="#346eaa" stroke="#346eaa"/>
<polygon points="191.8,80.25 295.8,80.25 305.5,142 286,155 237.2,164.8 195,158.2" fill="none" stroke="#f4f7fa" stroke-width="11" stroke-opacity="0.9"/>
<polygon points="191.8,80.25 295.8,80.25 305.5,142 286,155 237.2,164.8 195,158.2" fill="#dde4ed" stroke="#dde4ed"/>
<polygon points="295.8,80.25 351,80.25 364,116 338,155 318.5,181 305.5,142" fill="none" stroke="#f4f7fa" stroke-width="11" stroke-opacity="0.9"/>
<polygon points="295.8,80.25 351,80.25 364,116 338,155 318.5,181 305.5,142" fill="#bfcfe1" stroke="#bfcfe1"/>
<polygon points="237.2,164.8 286,155 305.5,142 305.5,220 279.5,203.8 253.5,184.2" fill="none" stroke="#f4f7fa" stroke-width="11" stroke-opacity="0.9"/>
<polygon points="237.2,164.8 286,155 305.5,142 305.5,220 279.5,203.8 253.5,184.2" fill="#2c66a3" stroke="#2c66a3"/>
<polygon points="312,181 338,155 344.5,239.5 331.5,255.8 308.8,249.2" fill="none" stroke="#f4f7fa" stroke-width="11" stroke-opacity="0.9"/>
<polygon points="312,181 338,155 344.5,239.5 331.5,255.8 308.8,249.2" fill="#cfdae7" stroke="#cfdae7"/>
<polygon points="344.5,148.5 390,158.2 396.5,174.5 390,252.5 344.5,246" fill="none" stroke="#f4f7fa" stroke-width="11" stroke-opacity="0.9"/>
<polygon points="344.5,148.5 390,158.2 396.5,174.5 390,252.5 344.5,246" fill="#e0e7ef" stroke="#e0e7ef"/>
<polygon points="370.5,122.5 429,122.5 409.5,151.8 390,158.2" fill="none" stroke="#f4f7fa" stroke-width="11" stroke-opacity="0.9"/>
<polygon points="370.5,122.5 429,122.5 409.5,151.8 390,158.2" fill="#94b2d2" stroke="#94b2d2"/>
<polygon points="432.2,125.8 471.2,125.8 464.8,171.2 396.5,171.2 412.8,151.8" fill="none" stroke="#f4f7fa" stroke-width="11" stroke-opacity="0.9"/>
<polygon points="432.2,125.8 471.2,125.8 464.8,171.2 396.5,171.2 412.8,151.8" fill="#2c66a3" stroke="#2c66a3"/>
<polygon points="396.5,174.5 468,174.5 468,213.5 429,226.5 390,239.5" fill="none" stroke="#f4f7fa" stroke-width="11" stroke-opacity="0.9"/>
<polygon points="396.5,174.5 468,174.5 468,213.5 429,226.5 390,239.5" fill="#e3e9f0" stroke="#e3e9f0"/>
<polygon points="474.5,129 552.5,132.2 552.5,249.2 520,239.5 474.5,213.5" fill="none" stroke="#f4f7fa" stroke-width="11" stroke-opacity="0.9"/>
<polygon points="474.5,129 552.5,132.2 552.5,249.2 520,239.5 474.5,213.5" fill="#dbe3ed" stroke="#dbe3ed"/>
<polygon points="552.5,132.2 624,138.8 624,239.5 591.5,246 552.5,249.2" fill="none" stroke="#f4f7fa" stroke-width="11" stroke-opacity="0.9"/>
<polygon points="552.5,132.2 624,138.8 624,239.5 591.5,246 552.5,249.2" fill="#e0e7ef" stroke="#e0e7ef"/>
<polygon points="552.5,249.2 591.5,246 598,285 578.5,304.5 552.5,278.5" fill="none" stroke="#f4f7fa" stroke-width="11" stroke-opacity="0.9"/>
<polygon points="552.5,249.2 591.5,246 598,285 578.5,304.5 552.5,278.5" fill="#b5c8dd" stroke="#b5c8dd"/>
<polygon points="715,112.5 730,110 777.5,125 775,140 750,140 712.5,175 710,150" fill="none" stroke="#f4f7fa" stroke-width="11" stroke-opacity="0.9"/>
<polygon points="715,112.5 730,110 777.5,125 775,140 750,140 712.5,175 710,150" fill="#346eaa" stroke="#346eaa"/>
<polygon points="750,142.5 777.5,145 780,195 760,195 750,185 712.5,187.5 712.5,177.5" fill="none" stroke="#f4f7fa" stroke-width="11" stroke-opacity="0.9"/>
<polygon points="750,142.5 777.5,145 780,195 760,195 750,185 712.5,187.5 712.5,177.5" fill="#1f508d" stroke="#1f508d"/>
<polygon points="600,140 632.5,142.5 625,180 627.5,230 600,250 560,247.5 547.5,265 530,200" fill="none" stroke="#f4f7fa" stroke-width="11" stroke-opacity="0.9"/>
<polygon points="600,140 632.5,142.5 625,180 627.5,230 600,250 560,247.5 547.5,265 530,200" fill="#e0e7ef" stroke="#e0e7ef"/>
<polygon points="632.5,142.5 655,140 650,200 627.5,230 625,180" fill="none" stroke="#f4f7fa" stroke-width="11" stroke-opacity="0.9"/>
<polygon points="632.5,142.5 655,140 650,200 627.5,230 625,180" fill="#b5c8dd" stroke="#b5c8dd"/>
<polygon points="655,140 710,150 712.5,195 715,250 700,250 655,230 640,245 627.5,230 650,200" fill="none" stroke="#f4f7fa" stroke-width="11" stroke-opacity="0.9"/>
<polygon points="655,140 710,150 712.5,195 715,250 700,250 655,230 640,245 627.5,230 650,200" fill="#e0e7ef" stroke="#e0e7ef"/>
<polygon points="712.5,195 750,192.5 755,215 770,240 715,250" fill="none" stroke="#f4f7fa" stroke-width="11" stroke-opacity="0.9"/>
<polygon points="712.5,195 750,192.5 755,215 770,240 715,250" fill="#346eaa" stroke="#346eaa"/>
<polygon points="760,200 782.5,197.5 805,265 772.5,270 770,240 757.5,217.5" fill="none" stroke="#f4f7fa" stroke-width="11" stroke-opacity="0.9"/>
<polygon points="760,200 782.5,197.5 805,265 772.5,270 770,240 757.5,217.5" fill="#346eaa" stroke="#346eaa"/>
<polygon points="640,245 655,230 700,250 705,285 665,287.5 640,270" fill="none" stroke="#f4f7fa" stroke-width="11" stroke-opacity="0.9"/>
<polygon points="640,245 655,230 700,250 705,285 665,287.5 640,270" fill="#346eaa" stroke="#346eaa"/>
<polygon points="715,255 770,245 772.5,270 775,305 750,295 735,285 710,285" fill="none" stroke="#f4f7fa" stroke-width="11" stroke-opacity="0.9"/>
<polygon points="715,255 770,245 772.5,270 775,305 750,295 735,285 710,285" fill="#346eaa" stroke="#346eaa"/>
<polygon points="777.5,275 805,270 820,310 785,317.5 775,300" fill="none" stroke="#f4f7fa" stroke-width="11" stroke-opacity="0.9"/>
<polygon points="777.5,275 805,270 820,310 785,317.5 775,300" fill="#b5c8dd" stroke="#b5c8dd"/>
<polygon points="547.5,265 560,247.5 600,250 595,285 575,300" fill="none" stroke="#f4f7fa" stroke-width="11" stroke-opacity="0.9"/>
<polygon points="547.5,265 560,247.5 600,250 595,285 575,300" fill="#b5c8dd" stroke="#b5c8dd"/>
<polygon points="582.5,305 607.5,277.5 640,272.5 665,290 662.5,320 652.5,342.5 650,330 630,342.5 610,332.5" fill="none" stroke="#f4f7fa" stroke-width="11" stroke-opacity="0.9"/>
<polygon points="582.5,305 607.5,277.5 640,272.5 665,290 662.5,320 652.5,342.5 650,330 630,342.5 610,332.5" fill="#bfcfe1" stroke="#bfcfe1"/>
<polygon points="667.5,295 705,287.5 735,290 757.5,315 762.5,340 750,360 685,355 655,340 665,320" fill="none" stroke="#f4f7fa" stroke-width="11" stroke-opacity="0.9"/>
<polygon points="667.5,295 705,287.5 735,290 757.5,315 762.5,340 750,360 685,355 655,340 665,320" fill="#346eaa" stroke="#346eaa"/>
<polygon points="780,320 820,312.5 855,375 840,390 820,395 795,380 765,330" fill="none" stroke="#f4f7fa" stroke-width="11" stroke-opacity="0.9"/>
<polygon points="780,320 820,312.5 855,375 840,390 820,395 795,380 765,330" fill="#29629e" stroke="#29629e"/>
<polygon points="760,345 785,375 780,400 760,395 757.5,440 722.5,440 722.5,360 750,362.5" fill="none" stroke="#f4f7fa" stroke-width="11" stroke-opacity="0.9"/>
<polygon points="760,345 785,375 780,400 760,395 757.5,440 722.5,440 722.5,360 750,362.5" fill="#346eaa" stroke="#346eaa"/>
<polygon points="787.5,382.5 820,395 832.5,410 785,407.5" fill="none" stroke="#f4f7fa" stroke-width="11" stroke-opacity="0.9"/>
<polygon points="787.5,382.5 820,395 832.5,410 785,407.5" fill="#3c76b2" stroke="#3c76b2"/>
<polygon points="635,365 655,350 685,370 690,390 670,402.5 632.5,395" fill="none" stroke="#f4f7fa" stroke-width="11" stroke-opacity="0.9"/>
<polygon points="635,365 655,350 685,370 690,390 670,402.5 632.5,395" fill="#346eaa" stroke="#346eaa"/>
<polygon points="687.5,360 720,362.5 720,440 705,440 692.5,395" fill="none" stroke="#f4f7fa" stroke-width="11" stroke-opacity="0.9"/>
<polygon points="687.5,360 720,362.5 720,440 705,440 692.5,395" fill="#4c82b8" stroke="#4c82b8"/>
<polygon points="635,402.5 670,405 692.5,420 685,430 632.5,435" fill="none" stroke="#f4f7fa" stroke-width="11" stroke-opacity="0.9"/>
<polygon points="635,402.5 670,405 692.5,420 685,430 632.5,435" fill="#346eaa" stroke="#346eaa"/>
<polygon points="760,397.5 780,410 840,412.5 845,440 760,442.5" fill="none" stroke="#f4f7fa" stroke-width="11" stroke-opacity="0.9"/>
<polygon points="760,397.5 780,410 840,412.5 845,440 760,442.5" fill="#1f508d" stroke="#1f508d"/>
<polygon points="840,392.5 855,380 880,420 895,510 915,555 860,555 855,520 850,450" fill="none" stroke="#f4f7fa" stroke-width="11" stroke-opacity="0.9"/>
<polygon points="840,392.5 855,380 880,420 895,510 915,555 860,555 855,520 850,450" fill="#2c66a3" stroke="#2c66a3"/>
<polygon points="627.5,440 700,437.5 700,470 615,472.5" fill="none" stroke="#f4f7fa" stroke-width="11" stroke-opacity="0.9"/>
<polygon points="627.5,440 700,437.5 700,470 615,472.5" fill="#2c66a3" stroke="#2c66a3"/>
<polygon points="612.5,475 635,475 640,510 625,535 617.5,510" fill="none" stroke="#f4f7fa" stroke-width="11" stroke-opacity="0.9"/>
<polygon points="612.5,475 635,475 640,510 625,535 617.5,510" fill="#235894" stroke="#235894"/>
<polygon points="640,475 700,472.5 702.5,545 660,550 660,515 642.5,500" fill="none" stroke="#f4f7fa" stroke-width="11" stroke-opacity="0.9"/>
<polygon points="640,475 700,472.5 702.5,545 660,550 660,515 642.5,500" fill="#235894" stroke="#235894"/>
<polygon points="705,455 755,447.5 780,485 800,525 800,595 707.5,595" fill="none" stroke="#f4f7fa" stroke-width="11" stroke-opacity="0.9"/>
<polygon points="705,455 755,447.5 780,485 800,525 800,595 707.5,595" fill="#285f9c" stroke="#285f9c"/>
<polygon points="760,447.5 845,445 850,515 852.5,560 805,560 800,525 780,480" fill="none" stroke="#f4f7fa" stroke-width="11" stroke-opacity="0.9"/>
<polygon points="760,447.5 845,445 850,515 852.5,560 805,560 800,525 780,480" fill="#3c76b2" stroke="#3c76b2"/>
<polygon points="632.5,545 700,540 700,572.5 675,575 670,595 650,575" fill="none" stroke="#f4f7fa" stroke-width="11" stroke-opacity="0.9"/>
<polygon points="632.5,545 700,540 700,572.5 675,575 670,595 650,575" fill="#2c66a3" stroke="#2c66a3"/>
<polygon points="650,575 670,597.5 677.5,577.5 700,575 700,620 680,630 670,620" fill="none" stroke="#f4f7fa" stroke-width="11" stroke-opacity="0.9"/>
<polygon points="650,575 670,597.5 677.5,577.5 700,575 700,620 680,630 670,620" fill="#346eaa" stroke="#346eaa"/>
<polygon points="706,542.5 762.5,542.5 762.5,581 706,581" fill="none" stroke="#f4f7fa" stroke-width="11" stroke-opacity="0.9"/>
<polygon points="706,542.5 762.5,542.5 762.5,581 706,581" fill="#eaeff4" stroke="#eaeff4"/>
<polygon points="706,584 762.5,584 762.5,620 706,620" fill="none" stroke="#f4f7fa" stroke-width="11" stroke-opacity="0.9"/>
<polygon points="706,584 762.5,584 762.5,620 706,620" fill="#eaeff4" stroke="#eaeff4"/>
<polygon points="767.5,545 800,545 810,570 825,590 805,600 795,615 767.5,615" fill="none" stroke="#f4f7fa" stroke-width="11" stroke-opacity="0.9"/>
<polygon points="767.5,545 800,545 810,570 825,590 805,600 795,615 767.5,615" fill="#5c8dbf" stroke="#5c8dbf"/>
<polygon points="810,550 850,545 865,565 860,595 845,605 825,587.5 810,567.5" fill="none" stroke="#f4f7fa" stroke-width="11" stroke-opacity="0.9"/>
<polygon points="810,550 850,545 865,565 860,595 845,605 825,587.5 810,567.5" fill="#a4bdd8" stroke="#a4bdd8"/>
<polygon points="855,525 912.5,525 920,555 867.5,557.5 852.5,545" fill="none" stroke="#f4f7fa" stroke-width="11" stroke-opacity="0.9"/>
<polygon points="855,525 912.5,525 920,555 867.5,557.5 852.5,545" fill="#2c66a3" stroke="#2c66a3"/>
<polygon points="870,560 920,558.5 927.5,595 875,597.5 864,575" fill="none" stroke="#f4f7fa" stroke-width="11" stroke-opacity="0.9"/>
<polygon points="870,560 920,558.5 927.5,595 875,597.5 864,575" fill="#2c66a3" stroke="#2c66a3"/>
<polygon points="860,600 930,597.5 937.5,632.5 850,636 850,607.5" fill="none" stroke="#f4f7fa" stroke-width="11" stroke-opacity="0.9"/>
<polygon points="860,600 930,597.5 937.5,632.5 850,636 850,607.5" fill="#2c66a3" stroke="#2c66a3"/>
<polygon points="765,620 800,617.5 810,600 845,607.5 845,665 765,662.5" fill="none" stroke="#f4f7fa" stroke-width="11" stroke-opacity="0.9"/>
<polygon points="765,620 800,617.5 810,600 845,607.5 845,665 765,662.5" fill="#eaeff4" stroke="#eaeff4"/>
<polygon points="677.5,632.5 700,622.5 760,622.5 760,660 685,662.5" fill="none" stroke="#f4f7fa" stroke-width="11" stroke-opacity="0.9"/>
<polygon points="677.5,632.5 700,622.5 760,622.5 760,660 685,662.5" fill="#94b2d2" stroke="#94b2d2"/>
<polygon points="685,665 760,662.5 760,695 745,715 725,695 700,700" fill="none" stroke="#f4f7fa" stroke-width="11" stroke-opacity="0.9"/>
<polygon points="685,665 760,662.5 760,695 745,715 725,695 700,700" fill="#346eaa" stroke="#346eaa"/>
<polygon points="765,665 845,664 845,721 800,722.5 797.5,695 765,695" fill="none" stroke="#f4f7fa" stroke-width="11" stroke-opacity="0.9"/>
<polygon points="765,665 845,664 845,721 800,722.5 797.5,695 765,695" fill="#cad6e5" stroke="#cad6e5"/>
<polygon points="847.5,640 940,635 945,715 847.5,720" fill="none" stroke="#f4f7fa" stroke-width="11" stroke-opacity="0.9"/>
<polygon points="847.5,640 940,635 945,715 847.5,720" fill="#285f9c" stroke="#285f9c"/>
<polygon points="847.5,722.5 942.5,717.5 935,767.5 847.5,765" fill="none" stroke="#f4f7fa" stroke-width="11" stroke-opacity="0.9"/>
<polygon points="847.5,722.5 942.5,717.5 935,767.5 847.5,765" fill="#235894" stroke="#235894"/>
<polygon points="735,725 765,697.5 795,697.5 797.5,725 845,725 845,785 795,782.5 760,770 745,755" fill="none" stroke="#f4f7fa" stroke-width="11" stroke-opacity="0.9"/>
<polygon points="735,725 765,697.5 795,697.5 797.5,725 845,725 845,785 795,782.5 760,770 745,755" fill="#3c76b2" stroke="#3c76b2"/>
<polygon points="795,785 845,787.5 845,865 820,865 810,835" fill="none" stroke="#f4f7fa" stroke-width="11" stroke-opacity="0.9"/>
<polygon points="795,785 845,787.5 845,865 820,865 810,835" fill="#b5c8dd" stroke="#b5c8dd"/>
<polygon points="847.5,770 932.5,770 930,795 910,825 925,835 900,855 860,870 847.5,860" fill="none" stroke="#f4f7fa" stroke-width="11" stroke-opacity="0.9"/>
<polygon points="847.5,770 932.5,770 930,795 910,825 925,835 900,855 860,870 847.5,860" fill="#173f7c" stroke="#173f7c"/>
</g>
</g><g fill="none" stroke="#8398b3" stroke-linecap="round"><path d="M928,838 Q905,885 862,912 T815,932" stroke-width="6" stroke-dasharray="60 14 40 12 30 14"/><path d="M738,945 L770,930 L795,925" stroke-width="11" stroke="#8ea7c4"/><path d="M690,947 l1,0 M715,952 l1,0" stroke-width="9"/></g></g></g>
<g id="california" transform="translate(180,695) scale(0.2)">
<defs><clipPath id="california-clip"><polygon points="75,40 428,40 428,370 800,720 870,800 890,850 915,870 885,897 880,950 865,980 885,1010 870,1025 750,1040 680,1045 660,1000 640,960 610,940 585,920 570,925 545,890 525,880 495,870 470,845 415,845 380,835 375,805 365,775 345,750 320,715 300,690 275,660 262,630 245,590 232,570 222,540 230,520 222,500 190,480 180,450 160,445 140,400 125,385 115,365 100,335 90,260 75,252 57,215 70,175 85,140 90,100 85,70"/></clipPath><filter id="california-bl" x="-5%" y="-5%" width="110%" height="110%"><feGaussianBlur stdDeviation="1.75"/></filter></defs>
<g filter="url(#california-bl)"><g clip-path="url(#california-clip)" stroke-linejoin="round">
<polygon points="75,40 428,40 428,370 800,720 870,800 890,850 915,870 885,897 880,950 865,980 885,1010 870,1025 750,1040 680,1045 660,1000 640,960 610,940 585,920 570,925 545,890 525,880 495,870 470,845 415,845 380,835 375,805 365,775 345,750 320,715 300,690 275,660 262,630 245,590 232,570 222,540 230,520 222,500 190,480 180,450 160,445 140,400 125,385 115,365 100,335 90,260 75,252 57,215 70,175 85,140 90,100 85,70" fill="#326ca9"/>
<g stroke-width="4.5">
<polygon points="420,385 470,430 485,495 507,530 440,560 400,540 350,450 330,420" fill="none" stroke="#f4f7fa" stroke-width="10.5" stroke-opacity="0.9"/>
<polygon points="420,385 470,430 485,495 507,530 440,560 400,540 350,450 330,420" fill="#dde4ed" stroke="#dde4ed"/>
<polygon points="75,40 125,40 115,70 120,95 90,100 85,70" fill="none" stroke="#f4f7fa" stroke-width="10.5" stroke-opacity="0.9"/>
<polygon points="75,40 125,40 115,70 120,95 90,100 85,70" fill="#a4bdd8" stroke="#a4bdd8"/>
<polygon points="127.5,40 302.5,40 302.5,122.5 220,122.5 215,107.5 190,130 170,137.5 145,110 122.5,95 117.5,70" fill="none" stroke="#f4f7fa" stroke-width="10.5" stroke-opacity="0.9"/>
<polygon points="127.5,40 302.5,40 302.5,122.5 220,122.5 215,107.5 190,130 170,137.5 145,110 122.5,95 117.5,70" fill="#346eaa" stroke="#346eaa"/>
<polygon points="307.5,40 430,40 430,122.5 307.5,122.5" fill="none" stroke="#f4f7fa" stroke-width="10.5" stroke-opacity="0.9"/>
<polygon points="307.5,40 430,40 430,122.5 307.5,122.5" fill="#c2d1e2" stroke="#c2d1e2"/>
<polygon points="320,127.5 430,127.5 430,320 405,315 375,240 315,210" fill="none" stroke="#f4f7fa" stroke-width="10.5" stroke-opacity="0.9"/>
<polygon points="320,127.5 430,127.5 430,320 405,315 375,240 315,210" fill="#e3e9f0" stroke="#e3e9f0"/>
<polygon points="90,102.5 122.5,97.5 132.5,115 135,140 122.5,160 125,255 80,252.5 57.5,215 70,175 85,140" fill="none" stroke="#f4f7fa" stroke-width="10.5" stroke-opacity="0.9"/>
<polygon points="90,102.5 122.5,97.5 132.5,115 135,140 122.5,160 125,255 80,252.5 57.5,215 70,175 85,140" fill="#346eaa" stroke="#346eaa"/>
<polygon points="137.5,140 147.5,112.5 172.5,140 192.5,132.5 217.5,110 222.5,127.5 200,180 195,205 177.5,225 175,255 127.5,255 125,160" fill="none" stroke="#f4f7fa" stroke-width="10.5" stroke-opacity="0.9"/>
<polygon points="137.5,140 147.5,112.5 172.5,140 192.5,132.5 217.5,110 222.5,127.5 200,180 195,205 177.5,225 175,255 127.5,255 125,160" fill="#d8e0eb" stroke="#d8e0eb"/>
<polygon points="225,127.5 312.5,130 312.5,205 190,215 202.5,180" fill="none" stroke="#f4f7fa" stroke-width="10.5" stroke-opacity="0.9"/>
<polygon points="225,127.5 312.5,130 312.5,205 190,215 202.5,180" fill="#346eaa" stroke="#346eaa"/>
<polygon points="185,220 305,212.5 310,235 285,265 180,272.5" fill="none" stroke="#f4f7fa" stroke-width="10.5" stroke-opacity="0.9"/>
<polygon points="185,220 305,212.5 310,235 285,265 180,272.5" fill="#3c76b2" stroke="#3c76b2"/>
<polygon points="100,260 175,262.5 175,310 165,325 175,365 155,385 125,380 115,335" fill="none" stroke="#f4f7fa" stroke-width="10.5" stroke-opacity="0.9"/>
<polygon points="100,260 175,262.5 175,310 165,325 175,365 155,385 125,380 115,335" fill="#94b2d2" stroke="#94b2d2"/>
<polygon points="185,280 260,275 265,315 190,315" fill="none" stroke="#f4f7fa" stroke-width="10.5" stroke-opacity="0.9"/>
<polygon points="185,280 260,275 265,315 190,315" fill="#d8e0eb" stroke="#d8e0eb"/>
<polygon points="170,325 190,320 200,345 225,375 210,395 185,380 175,360" fill="none" stroke="#f4f7fa" stroke-width="10.5" stroke-opacity="0.9"/>
<polygon points="170,325 190,320 200,345 225,375 210,395 185,380 175,360" fill="#b5c8dd" stroke="#b5c8dd"/>
<polygon points="200,320 265,320 270,365 230,375 205,345" fill="none" stroke="#f4f7fa" stroke-width="10.5" stroke-opacity="0.9"/>
<polygon points="200,320 265,320 270,365 230,375 205,345" fill="#e3e9f0" stroke="#e3e9f0"/>
<polygon points="265,275 290,265 310,240 332.5,305 305,335 270,335" fill="none" stroke="#f4f7fa" stroke-width="10.5" stroke-opacity="0.9"/>
<polygon points="265,275 290,265 310,240 332.5,305 305,335 270,335" fill="#346eaa" stroke="#346eaa"/>
<polygon points="315,210 375,240 405,315 370,320 335,305 312.5,240" fill="none" stroke="#f4f7fa" stroke-width="10.5" stroke-opacity="0.9"/>
<polygon points="315,210 375,240 405,315 370,320 335,305 312.5,240" fill="#e3e9f0" stroke="#e3e9f0"/>
<polygon points="335,335 375,320 425,325 425,340 370,345 340,355" fill="none" stroke="#f4f7fa" stroke-width="10.5" stroke-opacity="0.9"/>
<polygon points="335,335 375,320 425,325 425,340 370,345 340,355" fill="#a4bdd8" stroke="#a4bdd8"/>
<polygon points="272.5,340 305,337.5 332.5,310 337.5,335 320,365 297.5,375 275,370" fill="none" stroke="#f4f7fa" stroke-width="10.5" stroke-opacity="0.9"/>
<polygon points="272.5,340 305,337.5 332.5,310 337.5,335 320,365 297.5,375 275,370" fill="#346eaa" stroke="#346eaa"/>
<polygon points="345,360 375,347.5 425,342.5 425,365 385,375 370,367.5 330,385 320,370" fill="none" stroke="#f4f7fa" stroke-width="10.5" stroke-opacity="0.9"/>
<polygon points="345,360 375,347.5 425,342.5 425,365 385,375 370,367.5 330,385 320,370" fill="#346eaa" stroke="#346eaa"/>
<polygon points="337,385 365,370 383,377 418,363 432,381 418,395 383,412 351,419 337,405" fill="none" stroke="#f4f7fa" stroke-width="10.5" stroke-opacity="0.9"/>
<polygon points="337,385 365,370 383,377 418,363 432,381 418,395 383,412 351,419 337,405" fill="#abc1da" stroke="#abc1da"/>
<polygon points="341,426 383,416 421,398 446,430 414,440 390,440 365,454 348,444" fill="none" stroke="#f4f7fa" stroke-width="10.5" stroke-opacity="0.9"/>
<polygon points="341,426 383,416 421,398 446,430 414,440 390,440 365,454 348,444" fill="#e3e9f0" stroke="#e3e9f0"/>
<polygon points="140,400 160,390 185,385 210,400 215,420 225,450 200,455 175,445" fill="none" stroke="#f4f7fa" stroke-width="10.5" stroke-opacity="0.9"/>
<polygon points="140,400 160,390 185,385 210,400 215,420 225,450 200,455 175,445" fill="#346eaa" stroke="#346eaa"/>
<polygon points="212.5,402.5 230,385 245,415 247.5,440 232.5,450 220,425" fill="none" stroke="#f4f7fa" stroke-width="10.5" stroke-opacity="0.9"/>
<polygon points="212.5,402.5 230,385 245,415 247.5,440 232.5,450 220,425" fill="#4c82b8" stroke="#4c82b8"/>
<polygon points="230,382.5 270,370 295,380 297.5,415 265,425 250,415" fill="none" stroke="#f4f7fa" stroke-width="10.5" stroke-opacity="0.9"/>
<polygon points="230,382.5 270,370 295,380 297.5,415 265,425 250,415" fill="#3c76b2" stroke="#3c76b2"/>
<polygon points="297.5,410 325,400 340,415 337.5,445 330,460 300,455" fill="none" stroke="#f4f7fa" stroke-width="10.5" stroke-opacity="0.9"/>
<polygon points="297.5,410 325,400 340,415 337.5,445 330,460 300,455" fill="#1b4786" stroke="#1b4786"/>
<polygon points="250,425 295,420 297.5,455 265,465 247.5,450" fill="none" stroke="#f4f7fa" stroke-width="10.5" stroke-opacity="0.9"/>
<polygon points="250,425 295,420 297.5,455 265,465 247.5,450" fill="#346eaa" stroke="#346eaa"/>
<polygon points="180,450 200,460 225,455 225,480 190,475" fill="none" stroke="#f4f7fa" stroke-width="10.5" stroke-opacity="0.9"/>
<polygon points="180,450 200,460 225,455 225,480 190,475" fill="#a4bdd8" stroke="#a4bdd8"/>
<polygon points="351,451 365,454 390,440 414,442 446,433 467,465 491,489 460,496 432,500 414,507 390,503 379,482 365,465" fill="none" stroke="#f4f7fa" stroke-width="10.5" stroke-opacity="0.9"/>
<polygon points="351,451 365,454 390,440 414,442 446,433 467,465 491,489 460,496 432,500 414,507 390,503 379,482 365,465" fill="#c2d1e2" stroke="#c2d1e2"/>
<polygon points="390,505 432,502 474,498 502,514 460,538 418,566 404,542" fill="none" stroke="#f4f7fa" stroke-width="10.5" stroke-opacity="0.9"/>
<polygon points="390,505 432,502 474,498 502,514 460,538 418,566 404,542" fill="#e3e9f0" stroke="#e3e9f0"/>
<polygon points="428,370 615,545 535,550 507,530 485,495 470,430 450,400 428,385" fill="none" stroke="#f4f7fa" stroke-width="10.5" stroke-opacity="0.9"/>
<polygon points="428,370 615,545 535,550 507,530 485,495 470,430 450,400 428,385" fill="#e3e9f0" stroke="#e3e9f0"/>
<polygon points="297.5,460 335,447.5 347.5,475 350,500 305,517.5 295,495" fill="none" stroke="#f4f7fa" stroke-width="10.5" stroke-opacity="0.9"/>
<polygon points="297.5,460 335,447.5 347.5,475 350,500 305,517.5 295,495" fill="#285f9c" stroke="#285f9c"/>
<polygon points="230,480 265,470 292.5,460 295,495 265,507.5 232.5,497.5" fill="none" stroke="#f4f7fa" stroke-width="10.5" stroke-opacity="0.9"/>
<polygon points="230,480 265,470 292.5,460 295,495 265,507.5 232.5,497.5" fill="#235894" stroke="#235894"/>
<polygon points="224,501.5 236,501.5 236,516 224,516" fill="none" stroke="#f4f7fa" stroke-width="10.5" stroke-opacity="0.9"/>
<polygon points="224,501.5 236,501.5 236,516 224,516" fill="#3c76b2" stroke="#3c76b2"/>
<polygon points="235,500 265,510 295,497.5 302.5,520 270,532.5 245,522.5" fill="none" stroke="#f4f7fa" stroke-width="10.5" stroke-opacity="0.9"/>
<polygon points="235,500 265,510 295,497.5 302.5,520 270,532.5 245,522.5" fill="#18407e" stroke="#18407e"/>
<polygon points="222.5,517.5 240,525 250,550 245,570 230,560" fill="none" stroke="#f4f7fa" stroke-width="10.5" stroke-opacity="0.9"/>
<polygon points="222.5,517.5 240,525 250,550 245,570 230,560" fill="#2c66a3" stroke="#2c66a3"/>
<polygon points="245,530 270,535 302.5,522.5 315,565 300,585 280,580 250,550" fill="none" stroke="#f4f7fa" stroke-width="10.5" stroke-opacity="0.9"/>
<polygon points="245,530 270,535 302.5,522.5 315,565 300,585 280,580 250,550" fill="#235894" stroke="#235894"/>
<polygon points="245,570 252.5,555 280,582.5 275,592.5 260,590" fill="none" stroke="#f4f7fa" stroke-width="10.5" stroke-opacity="0.9"/>
<polygon points="245,570 252.5,555 280,582.5 275,592.5 260,590" fill="#2c66a3" stroke="#2c66a3"/>
<polygon points="307.5,520 350,502.5 385,525 340,555 320,565" fill="none" stroke="#f4f7fa" stroke-width="10.5" stroke-opacity="0.9"/>
<polygon points="307.5,520 350,502.5 385,525 340,555 320,565" fill="#2c66a3" stroke="#2c66a3"/>
<polygon points="320,567.5 342.5,557.5 387.5,527.5 405,565 375,585 355,605 330,590" fill="none" stroke="#f4f7fa" stroke-width="10.5" stroke-opacity="0.9"/>
<polygon points="320,567.5 342.5,557.5 387.5,527.5 405,565 375,585 355,605 330,590" fill="#346eaa" stroke="#346eaa"/>
<polygon points="390,590 410,570 440,567.5 480,550 495,515 507.5,530 495,565 455,595 410,610" fill="none" stroke="#f4f7fa" stroke-width="10.5" stroke-opacity="0.9"/>
<polygon points="390,590 410,570 440,567.5 480,550 495,515 507.5,530 495,565 455,595 410,610" fill="#3c76b2" stroke="#3c76b2"/>
<polygon points="357.5,607.5 390,592.5 410,612.5 455,597.5 497.5,567.5 510,532.5 535,550 560,600 555,615 515,615 475,630 460,645 425,655 410,685 390,670 375,640" fill="none" stroke="#f4f7fa" stroke-width="10.5" stroke-opacity="0.9"/>
<polygon points="357.5,607.5 390,592.5 410,612.5 455,597.5 497.5,567.5 510,532.5 535,550 560,600 555,615 515,615 475,630 460,645 425,655 410,685 390,670 375,640" fill="#255b97" stroke="#255b97"/>
<polygon points="295,592.5 320,595 345,615 375,645 370,660 340,635 310,615" fill="none" stroke="#f4f7fa" stroke-width="10.5" stroke-opacity="0.9"/>
<polygon points="295,592.5 320,595 345,615 375,645 370,660 340,635 310,615" fill="#ffffff" stroke="#ffffff"/>
<polygon points="265,630 275,605 300,600 340,640 370,665 395,700 405,715 320,715 300,690 275,660" fill="none" stroke="#f4f7fa" stroke-width="10.5" stroke-opacity="0.9"/>
<polygon points="265,630 275,605 300,600 340,640 370,665 395,700 405,715 320,715 300,690 275,660" fill="#2c66a3" stroke="#2c66a3"/>
<polygon points="410,700 425,660 462.5,647.5 465,710 410,710" fill="none" stroke="#f4f7fa" stroke-width="10.5" stroke-opacity="0.9"/>
<polygon points="410,700 425,660 462.5,647.5 465,710 410,710" fill="#3c76b2" stroke="#3c76b2"/>
<polygon points="467.5,710 470,640 515,617.5 557.5,617.5 575,660 590,710" fill="none" stroke="#f4f7fa" stroke-width="10.5" stroke-opacity="0.9"/>
<polygon points="467.5,710 470,640 515,617.5 557.5,617.5 575,660 590,710" fill="#3771ae" stroke="#3771ae"/>
<polygon points="615,545 800,720 600,720 590,710 575,660 560,600 535,550" fill="none" stroke="#f4f7fa" stroke-width="10.5" stroke-opacity="0.9"/>
<polygon points="615,545 800,720 600,720 590,710 575,660 560,600 535,550" fill="#cfdae7" stroke="#cfdae7"/>
<polygon points="320,717.5 402.5,717.5 415,740 455,780 470,795 420,785 390,805 375,800 365,775 345,750" fill="none" stroke="#f4f7fa" stroke-width="10.5" stroke-opacity="0.9"/>
<polygon points="320,717.5 402.5,717.5 415,740 455,780 470,795 420,785 390,805 375,800 365,775 345,750" fill="#3c76b2" stroke="#3c76b2"/>
<polygon points="405,718 625,718 625,812 500,812 480,790 420,740" fill="none" stroke="#f4f7fa" stroke-width="10.5" stroke-opacity="0.9"/>
<polygon points="405,718 625,718 625,812 500,812 480,790 420,740" fill="#1f508d" stroke="#1f508d"/>
<polygon points="632,718 800,720 870,800 890,850 915,870 885,897 630,900" fill="none" stroke="#f4f7fa" stroke-width="10.5" stroke-opacity="0.9"/>
<polygon points="632,718 800,720 870,800 890,850 915,870 885,897 630,900" fill="#194381" stroke="#194381"/>
<polygon points="375,800 400,795 440,775 470,815 470,855 380,845" fill="none" stroke="#f4f7fa" stroke-width="10.5" stroke-opacity="0.9"/>
<polygon points="375,800 400,795 440,775 470,815 470,855 380,845" fill="#3c76b2" stroke="#3c76b2"/>
<polygon points="475,815 520,815 540,890 520,885 480,855" fill="none" stroke="#f4f7fa" stroke-width="10.5" stroke-opacity="0.9"/>
<polygon points="475,815 520,815 540,890 520,885 480,855" fill="#4c82b8" stroke="#4c82b8"/>
<polygon points="527,815 625,815 625,892 590,920 570,928 545,892" fill="none" stroke="#f4f7fa" stroke-width="10.5" stroke-opacity="0.9"/>
<polygon points="527,815 625,815 625,892 590,920 570,928 545,892" fill="#1b4786" stroke="#1b4786"/>
<polygon points="593,922 625,900 655,942 628,958" fill="none" stroke="#f4f7fa" stroke-width="10.5" stroke-opacity="0.9"/>
<polygon points="593,922 625,900 655,942 628,958" fill="#1b4786" stroke="#1b4786"/>
<polygon points="632,905 885,900 880,952 640,957 660,942" fill="none" stroke="#f4f7fa" stroke-width="10.5" stroke-opacity="0.9"/>
<polygon points="632,905 885,900 880,952 640,957 660,942" fill="#1b4786" stroke="#1b4786"/>
<polygon points="645,962 745,962 745,1045 680,1048 660,1000" fill="none" stroke="#f4f7fa" stroke-width="10.5" stroke-opacity="0.9"/>
<polygon points="645,962 745,962 745,1045 680,1048 660,1000" fill="#1b4786" stroke="#1b4786"/>
<polygon points="752,965 865,965 865,985 885,1010 870,1028 752,1042" fill="none" stroke="#f4f7fa" stroke-width="10.5" stroke-opacity="0.9"/>
<polygon points="752,965 865,965 865,985 885,1010 870,1028 752,1042" fill="#346eaa" stroke="#346eaa"/>
</g>
</g><g fill="none" stroke="#3c6a9a" stroke-linecap="round" stroke-width="6"><path d="M392,896 l18,4 M428,898 l10,1 M455,898 l12,0" /><path d="M548,952 l14,8 M547,1003 l8,8" stroke-width="7"/><path d="M462,975 l2,2" stroke="#9a9a90" stroke-width="5"/></g></g></g>
<g id="texas" transform="translate(560,680) scale(0.2)">
<defs><clipPath id="texas-clip"><polygon points="435,35 740,35 740,273 773,287 802,302 840,325 897,335 935,354 973,359 1011,373 1058,368 1106,378 1163,363 1220,363 1267,378 1305,397 1343,411 1348,506 1353,582 1362,630 1381,696 1396,734 1386,791 1372,829 1362,856 1333,875 1305,885 1272,904 1243,928 1220,951 1186,970 1153,990 1115,1008 1077,1027 1048,1046 1030,1065 1031,1094 1015,1132 1006,1170 1010,1208 1020,1246 1022,1293 996,1308 958,1284 920,1286 887,1260 849,1246 816,1208 797,1170 787,1141 778,1113 754,1084 730,1046 706,1008 683,970 673,932 664,909 635,885 602,852 564,845 520,840 480,835 440,875 430,935 400,945 355,905 300,885 265,830 240,745 200,715 160,675 125,658 95,625 65,590 435,590"/></clipPath><filter id="texas-bl" x="-5%" y="-5%" width="110%" height="110%"><feGaussianBlur stdDeviation="1.75"/></filter></defs>
<g filter="url(#texas-bl)"><g clip-path="url(#texas-clip)" stroke-linejoin="round">
<polygon points="435,35 740,35 740,273 773,287 802,302 840,325 897,335 935,354 973,359 1011,373 1058,368 1106,378 1163,363 1220,363 1267,378 1305,397 1343,411 1348,506 1353,582 1362,630 1381,696 1396,734 1386,791 1372,829 1362,856 1333,875 1305,885 1272,904 1243,928 1220,951 1186,970 1153,990 1115,1008 1077,1027 1048,1046 1030,1065 1031,1094 1015,1132 1006,1170 1010,1208 1020,1246 1022,1293 996,1308 958,1284 920,1286 887,1260 849,1246 816,1208 797,1170 787,1141 778,1113 754,1084 730,1046 706,1008 683,970 673,932 664,909 635,885 602,852 564,845 520,840 480,835 440,875 430,935 400,945 355,905 300,885 265,830 240,745 200,715 160,675 125,658 95,625 65,590 435,590" fill="#e3e9f0"/>
<g stroke="#f4f7fa" stroke-width="3" stroke-opacity="0.9">
<polygon points="507.1,251.3 531.3,215.1 528.3,205.8 471.8,171.2 435,180.5 435,239.8" fill="#eaeff4"/>
<polygon points="758.6,522 773.5,529.8 807.6,515.1 808.7,500.6 783,473 755.9,488.6" fill="#dce4ed"/>
<polygon points="855.7,1248 887,1260 916,1283 925.5,1226 871,1227" fill="#ebf0f4"/>
<polygon points="874.2,557.2 870.9,521.1 823.5,530.2 820.6,571.5 835.9,588.7 837.6,589" fill="#e1e8f0"/>
<polygon points="1178,424.7 1197,436.9 1229,429.8 1222,363.6 1220,363 1168,363" fill="#c7d4e4"/>
<polygon points="310.7,882.4 324.4,808.3 291.6,768.9 249.2,776.3 265,830 300,885 306.5,887.3" fill="#cfdae7"/>
<polygon points="956,534.5 945.3,494.4 882.4,497.5 878.4,500.9 877.3,510.6 938.2,546.1" fill="#e8edf3"/>
<polygon points="970.3,611.6 995.7,597.1 965.5,537 956,534.5 938.2,546.1 920.4,576" fill="#e0e7ef"/>
<polygon points="464,851 480,835 520,840 528.8,841 518.2,775.9 501.2,767 445.7,789.5" fill="#cfdae7"/>
<polygon points="700.4,381.6 664,401.1 679.7,444.8 719.9,440.6 721.8,384.9" fill="#dfe7ef"/>
<polygon points="1116,872.3 1093,886.5 1086,929.1 1109,947.4 1143,935.1 1159,913.1 1161,896.8" fill="#dce4ed"/>
<polygon points="431.2,703.6 363.6,746.4 365.3,750.6 432.4,784.7 435.5,784.2 433.7,706.6" fill="#cfdae7"/>
<polygon points="1005,450.4 1057,427.4 1066,369.8 1058,368 1011,373 1003,369.9 997.7,441.8 999.9,448.1" fill="#e6ebf2"/>
<polygon points="257.9,630.1 243.8,639.4 239.1,669.3 279,693 287,691.6 295.6,676.3 268.3,632.7" fill="#cfdae7"/>
<polygon points="1050,808.9 1112,775.9 1102,727.2 1088,723.1 1036,752.6 1021,782.7 1023,793.6" fill="#eaeff4"/>
<polygon points="1228,522.4 1240,512.4 1261,456.2 1234,431.2 1229,429.8 1197,436.9 1185,498.1" fill="#c8d5e4"/>
<polygon points="934,823.2 1008,807.6 1023,793.6 1021,782.7 955.5,741.6 925.5,752.7 916.5,778.8 929.4,819.4" fill="#dce4ed"/>
<polygon points="837.6,589 835.9,588.7 791.7,633.8 790.8,659.4 791.7,660.7 830.9,668.4 868.6,639 870.9,625.3" fill="#dee5ee"/>
<polygon points="697.3,901 712.1,858.1 665.9,826.2 640.7,889.7 663.3,908.5" fill="#ebf0f5"/>
<polygon points="1124,440.7 1178,424.7 1168,363 1163,363 1113,376.2" fill="#cad6e5"/>
<polygon points="132.8,610.1 135.2,590 65,590 95,625 106.1,637.2" fill="#cfdae7"/>
<polygon points="132.8,610.1 166.9,642.8 181.2,637.8 176.2,590 135.2,590" fill="#cfdae7"/>
<polygon points="751.4,1080 754,1084 778,1113 787,1141 789.2,1148 821.9,1134 824.7,1094 765.2,1073" fill="#dde5ee"/>
<polygon points="455.5,598.3 471.9,591.5 480.9,533.3 474.2,527.4 448.2,520.2 435,521.4 435,590 422.2,590" fill="#e3e9f0"/>
<polygon points="360.7,648.6 352.7,661.1 359.1,676.3 430.8,701.5 438.1,674.4 404.9,635.2" fill="#cfdae7"/>
<polygon points="817.7,382.7 849.3,399.9 896.5,366.2 910.9,342 897,335 840,325 828.1,317.8" fill="#e9eef4"/>
<polygon points="593.7,819.2 591.1,779.4 557.3,758.9 518.2,775.9 528.8,841 564,845 574.3,846.9" fill="#cfdae7"/>
<polygon points="730,776.1 725.3,781.8 736.8,849.6 760.5,857.4 775.7,852.5 784.7,802.3" fill="#eaeff4"/>
<polygon points="586.7,568.8 629.9,573.6 655.7,537.4 655.8,533.1 634.7,515.2 589.4,513.4 575.9,552.2 576.7,556.5" fill="#e5ebf2"/>
<polygon points="570.3,131.3 554.8,85.5 500.6,78.3 485.2,103 493.5,127.8 557.8,139.4" fill="#dde5ee"/>
<polygon points="570.3,131.3 557.8,139.4 528.3,205.8 531.3,215.1 579.9,228.7 599.6,212.2 609.3,138.8" fill="#dee6ee"/>
<polygon points="722.3,647.5 716.8,590.4 715.1,590.2 653.5,618.1 673.7,663" fill="#dbe3ed"/>
<polygon points="503.8,383.3 549.5,380.4 542.7,333.9 499.7,343.9 492.3,357" fill="#dee5ee"/>
<polygon points="1184,881.9 1161,896.8 1159,913.1 1204,959.7 1220,951 1243,928 1246,925.4" fill="#e6ecf2"/>
<polygon points="765.2,1073 794.6,1021 782,987.3 707.6,991 699.1,996.6 706,1008 730,1046 751.4,1080" fill="#e1e8f0"/>
<polygon points="487.3,302.9 499.7,343.9 542.7,333.9 549.6,324.8 546,298.2 511,275" fill="#e3eaf1"/>
<polygon points="1143,935.1 1161,985.1 1186,970 1204,959.7 1159,913.1" fill="#dce4ed"/>
<polygon points="430.8,701.5 359.1,676.3 345.2,733.8 363.6,746.4 431.2,703.6" fill="#cfdae7"/>
<polygon points="636.2,96.3 621.3,35 576.6,35 554.8,85.5 570.3,131.3 609.3,138.8 624.5,133.3" fill="#e6ecf2"/>
<polygon points="384.9,849.8 310.7,882.4 306.5,887.3 355,905 400,945 430,935 438.9,881.8" fill="#cfdae7"/>
<polygon points="1327,566 1298,624.7 1330,664.4 1369,654.7 1362,630 1353,582 1352,565.1" fill="#c6d4e4"/>
<polygon points="1314,480.9 1300,519.5 1319,560.6 1327,566 1352,565.1 1348,506 1346,471.8" fill="#dae2ec"/>
<polygon points="925.2,1100 888.3,1107 872.2,1141 890.2,1174 898.6,1175 936.1,1153 945.5,1124 941.9,1112" fill="#dae3ec"/>
<polygon points="1172,589.8 1119,623.8 1119,624.6 1135,655 1194,671 1214,626.9" fill="#dee5ee"/>
<polygon points="1013,1067 975.6,1019 924.1,1042 925.2,1100 941.9,1112" fill="#e6ecf2"/>
<polygon points="1027,669.3 1064,681.6 1119,624.6 1119,623.8 1102,609.7 1030,631.3" fill="#e7ecf2"/>
<polygon points="492.7,722.6 501.2,767 518.2,775.9 557.3,758.9 561.9,715.9 558.8,711.9 514.9,698.8" fill="#cfdae7"/>
<polygon points="365.3,750.6 358,794 387.5,819 432.4,784.7" fill="#cfdae7"/>
<polygon points="565.9,620.5 521.2,594.1 507.1,601.8 505.7,658 508.7,660.6 558.6,646.9" fill="#cfdae7"/>
<polygon points="812,1200 816,1208 849,1246 855.7,1248 871,1227 868.8,1195 836.3,1185" fill="#e5ebf2"/>
<polygon points="780.1,710 791.7,660.7 790.8,659.4 732.5,656.9 720.9,709.1" fill="#dae3ec"/>
<polygon points="653.9,257.5 596.7,272.2 607.6,298.6 656.3,315.5" fill="#e5ebf2"/>
<polygon points="268.3,632.7 295.6,676.3 326,658.8 304.5,615.3" fill="#cfdae7"/>
<polygon points="1021,782.7 1036,752.6 1004,684.9 981.3,686.4 955.5,741.6" fill="#dae2ec"/>
<polygon points="505.7,658 461.6,656.5 438.1,674.4 430.8,701.5 431.2,703.6 433.7,706.6 492.7,722.6 514.9,698.8 508.7,660.6" fill="#cfdae7"/>
<polygon points="765.2,1073 824.7,1094 850.5,1078 855.3,1034 794.6,1021" fill="#dee6ee"/>
<polygon points="1119,624.6 1064,681.6 1088,723.1 1102,727.2 1125,713.9 1135,655" fill="#d0dbe7"/>
<polygon points="782,987.3 794.6,1021 855.3,1034 878.9,1015 879.8,994.8 860.2,964.8 792.3,966.4" fill="#d8e1eb"/>
<polygon points="1254,626.6 1298,624.7 1327,566 1319,560.6 1253,568.8 1247,621.8" fill="#d4dee9"/>
<polygon points="830.9,668.4 856.6,716 892.6,713.6 905.3,679.6 868.6,639" fill="#dbe3ed"/>
<polygon points="785.4,935.6 749.9,917.6 728.9,922.6 707.6,991 782,987.3 792.3,966.4" fill="#dee6ee"/>
<polygon points="669,675.4 645.4,686.3 645,746.8 706.5,724.8 707.6,720.6" fill="#dbe3ed"/>
<polygon points="945.5,1124 1010,1154 1015,1132 1031,1094 1030,1072 1013,1067 941.9,1112" fill="#e3eaf1"/>
<polygon points="212.9,627.9 243.8,639.4 257.9,630.1 253.1,590 215.3,590" fill="#cfdae7"/>
<polygon points="612.3,668.4 620.7,628.7 574,615.5 565.9,620.5 558.6,646.9 570.9,664.3" fill="#e1e8ef"/>
<polygon points="729.9,474.4 755.9,488.6 783,473 788.5,443.2 782.3,432.5 723.7,443.8" fill="#e6ebf2"/>
<polygon points="778.9,567.8 757.2,589.3 791.7,633.8 835.9,588.7 820.6,571.5" fill="#e7edf3"/>
<polygon points="892.6,713.6 925.5,752.7 955.5,741.6 981.3,686.4 950.5,657.7 905.3,679.6" fill="#e0e7ef"/>
<polygon points="860.2,964.8 867.3,919.9 865,915.2 813.6,903.1 785.4,935.6 792.3,966.4" fill="#eaeff4"/>
<polygon points="965.5,537 995.7,597.1 1008,598.5 1044,559.8 1028,512.4" fill="#dae2ec"/>
<polygon points="888.3,1107 925.2,1100 924.1,1042 878.9,1015 855.3,1034 850.5,1078" fill="#e9eef3"/>
<polygon points="687.5,508.1 670.4,455.5 635.5,460.5 634.7,515.2 655.8,533.1" fill="#ebeff4"/>
<polygon points="769,327.2 761.7,378.3 788.1,395.1 817.7,382.7 828.1,317.8 816.3,310.6" fill="#e9eef4"/>
<polygon points="467.9,459.8 501.1,460.2 507.9,429 496.4,407.1 435,409.5 435,441.2" fill="#d9e2ec"/>
<polygon points="1124,440.7 1113,376.2 1106,378 1066,369.8 1057,427.4 1108,462.7" fill="#d7e0eb"/>
<polygon points="707.5,248.7 740,255.7 740,186 703.6,195 702.5,196.2" fill="#e9eef3"/>
<polygon points="499,70.8 500.6,78.3 554.8,85.5 576.6,35 507,35" fill="#ebeff4"/>
<polygon points="1036,752.6 1088,723.1 1064,681.6 1027,669.3 1004,684.9" fill="#eaeff4"/>
<polygon points="304.5,615.3 326,658.8 352.7,661.1 360.7,648.6 351.1,590 312.6,590" fill="#cfdae7"/>
<polygon points="1086,573.4 1102,609.7 1119,623.8 1172,589.8 1172,589.8 1135,511.1 1127,508.8" fill="#d0dbe8"/>
<polygon points="558.8,711.9 561.9,715.9 596.8,713.5 618.2,677.9 612.3,668.4 570.9,664.3" fill="#dee6ee"/>
<polygon points="977.2,1245 964,1288 996,1308 1022,1293 1020,1246 1016,1233" fill="#dde5ee"/>
<polygon points="1008,807.6 934,823.2 943.8,867.7 997.8,888.7" fill="#eaeff4"/>
<polygon points="635.5,460.5 621.4,451.8 587.4,469 584.9,506.2 589.4,513.4 634.7,515.2" fill="#e0e7ef"/>
<polygon points="1247,848.2 1195,856.5 1184,881.9 1246,925.4 1269,906.2" fill="#d6e0ea"/>
<polygon points="473.2,357.5 435,313.7 435,387.2" fill="#dce4ed"/>
<polygon points="404.9,635.2 438.1,674.4 461.6,656.5 455.5,598.3 422.2,590 417.8,590" fill="#cfdae7"/>
<polygon points="312.6,590 253.1,590 257.9,630.1 268.3,632.7 304.5,615.3" fill="#cfdae7"/>
<polygon points="1317,686.5 1337,738.1 1346,739.3 1391,722.4 1381,696 1369,654.7 1330,664.4" fill="#dde5ed"/>
<polygon points="504,464.5 501.1,460.2 467.9,459.8 448.2,520.2 474.2,527.4" fill="#dae3ec"/>
<polygon points="720.9,709.1 732.5,656.9 722.3,647.5 673.7,663 669,675.4 707.6,720.6" fill="#d9e2ec"/>
<polygon points="295.6,676.3 287,691.6 318.6,736.6 345.2,733.8 359.1,676.3 352.7,661.1 326,658.8" fill="#cfdae7"/>
<polygon points="499.7,343.9 487.3,302.9 435,304.9 435,313.7 473.2,357.5 492.3,357" fill="#e9eef4"/>
<polygon points="791.7,660.7 780.1,710 788.2,731.2 824,753.6 856.6,716 830.9,668.4" fill="#e7edf3"/>
<polygon points="1052,873.3 1015,895.5 1043,944.2 1086,929.1 1093,886.5" fill="#e9eef4"/>
<polygon points="587.4,469 621.4,451.8 618.9,435.2 581.8,408.2 566.1,407.7 559.9,418.2 565,454.7" fill="#ebeff4"/>
<polygon points="999.5,890.8 1015,895.5 1052,873.3 1052,812.5 1050,808.9 1023,793.6 1008,807.6 997.8,888.7" fill="#dbe3ed"/>
<polygon points="1169,799.5 1195,856.5 1247,848.2 1257,830.7 1235,783.4 1185,781.8" fill="#cbd7e5"/>
<polygon points="246.1,726.5 279,693 239.1,669.3 217,682.7" fill="#cfdae7"/>
<polygon points="838.4,1146 836.3,1185 868.8,1195 890.2,1174 872.2,1141" fill="#dbe3ed"/>
<polygon points="955.5,956.8 981,987 1035,970.1 1043,944.2 1015,895.5 999.5,890.8" fill="#e0e7ef"/>
<polygon points="828.1,778.6 784.7,802.3 775.7,852.5 804.7,865.5 848,838.6 837.6,787" fill="#e6ecf2"/>
<polygon points="926.3,927 933.9,878.8 875.5,883.1 865,915.2 867.3,919.9" fill="#e9eef4"/>
<polygon points="698,82.5 737.6,105.4 740,105.5 740,35 683.8,35" fill="#e9eef4"/>
<polygon points="1108,972.9 1059,996.4 1067,1034 1077,1027 1115,1008 1132,999.7" fill="#dde5ee"/>
<polygon points="706.5,724.8 730.2,773.6 788.2,731.2 780.1,710 720.9,709.1 707.6,720.6" fill="#e7edf3"/>
<polygon points="655.7,537.4 715.1,590.2 716.8,590.4 719.5,588.7 729.3,533.8 699.9,507.9 687.5,508.1 655.8,533.1" fill="#e5ebf2"/>
<polygon points="707.6,991 728.9,922.6 697.3,901 663.3,908.5 664,909 673,932 683,970 699.1,996.6" fill="#e4eaf1"/>
<polygon points="1147,801.8 1112,775.9 1050,808.9 1052,812.5 1115,846.5" fill="#dee5ee"/>
<polygon points="1108,462.7 1057,427.4 1005,450.4 1029,508.3 1110,486.9" fill="#e7ecf2"/>
<polygon points="943.8,867.7 933.9,878.8 926.3,927 946.8,954.6 955.5,956.8 999.5,890.8 997.8,888.7" fill="#e6ecf2"/>
<polygon points="1003,369.9 973,359 945,355.3 947,402.4 997.7,441.8" fill="#dee5ee"/>
<polygon points="719.5,588.7 716.8,590.4 722.3,647.5 732.5,656.9 790.8,659.4 791.7,633.8 757.2,589.3" fill="#e4ebf1"/>
<polygon points="660.3,210 702.5,196.2 703.6,195 675.7,144.3 631.7,137.5" fill="#e5ebf2"/>
<polygon points="645.1,394 664,401.1 700.4,381.6 668.7,330.8 642,388.9" fill="#d8e1eb"/>
<polygon points="363.6,746.4 345.2,733.8 318.6,736.6 291.6,768.9 324.4,808.3 358,794 365.3,750.6" fill="#cfdae7"/>
<polygon points="279,693 246.1,726.5 240.4,746.5 249.2,776.3 291.6,768.9 318.6,736.6 287,691.6" fill="#cfdae7"/>
<polygon points="1205,701.3 1194,671 1135,655 1125,713.9 1180,728.4" fill="#d1dbe8"/>
<polygon points="683.8,35 621.3,35 636.2,96.3 698,82.5" fill="#ebeff4"/>
<polygon points="618.9,435.2 621.4,451.8 635.5,460.5 670.4,455.5 679.7,444.8 664,401.1 645.1,394" fill="#e4eaf1"/>
<polygon points="1234,431.2 1261,456.2 1274,455.2 1315,400.8 1305,397 1278,383.6" fill="#d5deea"/>
<polygon points="575.9,552.2 589.4,513.4 584.9,506.2 534.7,500 524.3,527.3" fill="#dde4ed"/>
<polygon points="521.2,594.1 565.9,620.5 574,615.5 586.7,568.8 576.7,556.5 525.6,581.2" fill="#e5ebf1"/>
<polygon points="762.4,323.5 769,327.2 816.3,310.6 802,302 773,287 752.3,278.2" fill="#dee5ee"/>
<polygon points="868.8,1195 871,1227 925.5,1226 928.1,1223 898.6,1175 890.2,1174" fill="#e1e8f0"/>
<polygon points="1306,766.6 1337,738.1 1317,686.5 1262,699.2 1253,708.5 1264,751.6" fill="#dae2ec"/>
<polygon points="1044,559.8 1008,598.5 1030,631.3 1102,609.7 1086,573.4" fill="#dbe3ec"/>
<polygon points="1115,846.5 1052,812.5 1052,873.3 1093,886.5 1116,872.3" fill="#eaeef4"/>
<polygon points="471.8,171.2 493.5,127.8 485.2,103 435,96.6 435,180.5" fill="#dbe3ed"/>
<polygon points="719.9,440.6 679.7,444.8 670.4,455.5 687.5,508.1 699.9,507.9 729.9,474.4 723.7,443.8" fill="#e8edf3"/>
<polygon points="954,468.2 999.9,448.1 997.7,441.8 947,402.4 911.6,438.2" fill="#ebf0f5"/>
<polygon points="773.5,529.8 778.9,567.8 820.6,571.5 823.5,530.2 807.6,515.1" fill="#e8edf3"/>
<polygon points="721.4,332.5 730.5,323 723.4,295.3 698.2,290.6 668.3,325.6 668.3,325.6" fill="#dde5ed"/>
<polygon points="609.3,138.8 599.6,212.2 651.7,221.7 660.3,210 631.7,137.5 624.5,133.3" fill="#d8e1eb"/>
<polygon points="493.5,127.8 471.8,171.2 528.3,205.8 557.8,139.4" fill="#ebf0f5"/>
<polygon points="821.9,1134 789.2,1148 797,1170 812,1200 836.3,1185 838.4,1146" fill="#e2e9f0"/>
<polygon points="1029,508.3 1028,512.4 1044,559.8 1086,573.4 1127,508.8 1110,486.9" fill="#e2e9f0"/>
<polygon points="596.8,713.5 631.3,751 641.8,750.5 645,746.8 645.4,686.3 618.2,677.9" fill="#dce4ed"/>
<polygon points="534.7,500 584.9,506.2 587.4,469 565,454.7 526.1,477" fill="#e8edf3"/>
<polygon points="664.4,820.7 665.9,826.2 712.1,858.1 736.8,849.6 725.3,781.8 671,803.5" fill="#e2e9f0"/>
<polygon points="620.7,628.7 642.2,614.2 629.9,573.6 586.7,568.8 574,615.5" fill="#e5ebf1"/>
<polygon points="1254,626.6 1262,699.2 1317,686.5 1330,664.4 1298,624.7" fill="#cad7e5"/>
<polygon points="813.6,903.1 804.7,865.5 775.7,852.5 760.5,857.4 749.9,917.6 785.4,935.6" fill="#e6ecf2"/>
<polygon points="879.8,994.8 878.9,1015 924.1,1042 975.6,1019 981,987 955.5,956.8 946.8,954.6" fill="#d9e1ec"/>
<polygon points="645,746.8 641.8,750.5 671,803.5 725.3,781.8 730,776.1 730.2,773.6 706.5,724.8" fill="#e6ecf2"/>
<polygon points="947,402.4 945,355.3 935,354 910.9,342 896.5,366.2 910.8,438.1 911.6,438.2" fill="#e7edf3"/>
<polygon points="860.2,964.8 879.8,994.8 946.8,954.6 926.3,927 867.3,919.9" fill="#dee6ee"/>
<polygon points="828.1,778.6 824,753.6 788.2,731.2 730.2,773.6 730,776.1 784.7,802.3" fill="#e2e9f0"/>
<polygon points="546,298.2 549.6,324.8 591.3,336.7 607.6,298.6 596.7,272.2 591.6,268.9" fill="#e9eef4"/>
<polygon points="507.1,601.8 471.9,591.5 455.5,598.3 461.6,656.5 505.7,658" fill="#cfdae7"/>
<polygon points="1306,833.3 1313,882.2 1333,875 1362,856 1370,835" fill="#dce4ed"/>
<polygon points="1262,699.2 1254,626.6 1247,621.8 1214,626.9 1194,671 1205,701.3 1253,708.5" fill="#ccd8e6"/>
<polygon points="485.2,103 500.6,78.3 499,70.8 435,40.7 435,96.6" fill="#dee6ee"/>
<polygon points="749.9,917.6 760.5,857.4 736.8,849.6 712.1,858.1 697.3,901 728.9,922.6" fill="#dce4ed"/>
<polygon points="668.7,330.8 668.3,325.6 668.3,325.6 660.7,321.4 606.8,352.9 619.1,377.3 642,388.9" fill="#e0e7ef"/>
<polygon points="957.6,1192 942.4,1220 977.2,1245 1016,1233 1010,1208 1007,1182" fill="#e5ebf1"/>
<polygon points="480.9,533.3 471.9,591.5 507.1,601.8 521.2,594.1 525.6,581.2 511.4,536.2" fill="#e4eaf1"/>
<polygon points="1035,970.1 1059,996.4 1108,972.9 1109,947.4 1086,929.1 1043,944.2" fill="#e4eaf1"/>
<polygon points="723.4,295.3 730.5,323 762.4,323.5 752.3,278.2 742.8,274.2" fill="#dae2ec"/>
<polygon points="707.5,248.7 691.2,259.5 698.2,290.6 723.4,295.3 742.8,274.2 740,273 740,255.7" fill="#eaeff4"/>
<polygon points="977.2,1245 942.4,1220 928.1,1223 925.5,1226 916,1283 920,1286 958,1284 964,1288" fill="#dae2ec"/>
<polygon points="1274,455.2 1314,480.9 1346,471.8 1343,411 1315,400.8" fill="#dee5ee"/>
<polygon points="956,534.5 965.5,537 1028,512.4 1029,508.3 1005,450.4 999.9,448.1 954,468.2 945.3,494.4" fill="#e7edf3"/>
<polygon points="565,454.7 559.9,418.2 507.9,429 501.1,460.2 504,464.5 526.1,477" fill="#e6ecf2"/>
<polygon points="448.2,520.2 467.9,459.8 435,441.2 435,521.4" fill="#dae2ec"/>
<polygon points="1135,511.1 1172,589.8 1228,540.4 1228,522.4 1185,498.1" fill="#d3dde9"/>
<polygon points="106.1,637.2 125,658 148.7,669.5 166.9,642.8 132.8,610.1" fill="#cfdae7"/>
<polygon points="507.9,429 559.9,418.2 566.1,407.7 558.3,387.3 549.5,380.4 503.8,383.3 496.4,407.1" fill="#dae2ec"/>
<polygon points="1311,787.5 1298,824.9 1306,833.3 1370,835 1372,829 1380,806.7" fill="#d9e2ec"/>
<polygon points="496.4,407.1 503.8,383.3 492.3,357 473.2,357.5 435,387.2 435,409.5" fill="#e3e9f0"/>
<polygon points="1306,833.3 1298,824.9 1257,830.7 1247,848.2 1269,906.2 1272,904 1305,885 1313,882.2" fill="#d3dde9"/>
<polygon points="360.7,648.6 404.9,635.2 417.8,590 351.1,590" fill="#cfdae7"/>
<polygon points="549.5,380.4 558.3,387.3 597.4,347.6 591.3,336.7 549.6,324.8 542.7,333.9" fill="#dde5ee"/>
<polygon points="618.2,677.9 645.4,686.3 669,675.4 673.7,663 653.5,618.1 642.2,614.2 620.7,628.7 612.3,668.4" fill="#dfe6ef"/>
<polygon points="1108,972.9 1132,999.7 1153,990 1161,985.1 1143,935.1 1109,947.4" fill="#e5ebf1"/>
<polygon points="878.4,500.9 882.4,497.5 902.9,441.3 856.7,426.5 838.1,453.3 842.1,474" fill="#e5ebf2"/>
<polygon points="534.7,500 526.1,477 504,464.5 474.2,527.4 480.9,533.3 511.4,536.2 524.3,527.3" fill="#e8eef3"/>
<polygon points="209.3,682.8 190,639.8 181.2,637.8 166.9,642.8 148.7,669.5 160,675 187.1,702.1" fill="#cfdae7"/>
<polygon points="950.5,657.7 981.3,686.4 1004,684.9 1027,669.3 1030,631.3 1008,598.5 995.7,597.1 970.3,611.6 950.3,654" fill="#dfe6ef"/>
<polygon points="865.9,849 875.5,883.1 933.9,878.8 943.8,867.7 934,823.2 929.4,819.4" fill="#dde5ee"/>
<polygon points="1127,508.8 1135,511.1 1185,498.1 1197,436.9 1178,424.7 1124,440.7 1108,462.7 1110,486.9" fill="#dbe3ec"/>
<polygon points="808.7,500.6 807.6,515.1 823.5,530.2 870.9,521.1 877.3,510.6 878.4,500.9 842.1,474" fill="#e3eaf1"/>
<polygon points="838.1,453.3 856.7,426.5 849.3,399.9 817.7,382.7 788.1,395.1 782.3,432.5 788.5,443.2" fill="#dce4ed"/>
<polygon points="761.7,378.3 769,327.2 762.4,323.5 730.5,323 721.4,332.5 727.9,380.7" fill="#e1e8ef"/>
<polygon points="1147,801.8 1115,846.5 1116,872.3 1161,896.8 1184,881.9 1195,856.5 1169,799.5" fill="#dce4ed"/>
<polygon points="1380,806.7 1381,804.4 1346,739.3 1337,738.1 1306,766.6 1311,787.5" fill="#d4dee9"/>
<polygon points="1300,519.5 1314,480.9 1274,455.2 1261,456.2 1240,512.4" fill="#c8d6e4"/>
<polygon points="1172,589.8 1214,626.9 1247,621.8 1253,568.8 1228,540.4 1172,589.8" fill="#d9e2ec"/>
<polygon points="916.5,778.8 837.6,787 848,838.6 865.9,849 929.4,819.4" fill="#e8edf3"/>
<polygon points="432.4,784.7 387.5,819 384.9,849.8 438.9,881.8 440,875 464,851 445.7,789.5 435.5,784.2" fill="#cfdae7"/>
<polygon points="487.3,302.9 511,275 507.1,251.3 435,239.8 435,304.9" fill="#dee6ee"/>
<polygon points="1180,728.4 1125,713.9 1102,727.2 1112,775.9 1147,801.8 1169,799.5 1185,781.8" fill="#cad6e5"/>
<polygon points="561.9,715.9 557.3,758.9 591.1,779.4 631.3,751 596.8,713.5" fill="#e8eef3"/>
<polygon points="619.1,377.3 581.8,408.2 618.9,435.2 645.1,394 642,388.9" fill="#e8eef3"/>
<polygon points="433.7,706.6 435.5,784.2 445.7,789.5 501.2,767 492.7,722.6" fill="#cfdae7"/>
<polygon points="511.4,536.2 525.6,581.2 576.7,556.5 575.9,552.2 524.3,527.3" fill="#e5ebf2"/>
<polygon points="546,298.2 591.6,268.9 579.9,228.7 531.3,215.1 507.1,251.3 511,275" fill="#e2e8f0"/>
<polygon points="657.3,253.1 691.2,259.5 707.5,248.7 702.5,196.2 660.3,210 651.7,221.7" fill="#e8edf3"/>
<polygon points="928.1,1223 942.4,1220 957.6,1192 936.1,1153 898.6,1175" fill="#e5ebf2"/>
<polygon points="558.6,646.9 508.7,660.6 514.9,698.8 558.8,711.9 570.9,664.3" fill="#cfdae7"/>
<polygon points="209.3,682.8 217,682.7 239.1,669.3 243.8,639.4 212.9,627.9 190,639.8" fill="#cfdae7"/>
<polygon points="631.7,137.5 675.7,144.3 737.6,105.4 698,82.5 636.2,96.3 624.5,133.3" fill="#dde5ee"/>
<polygon points="1253,568.8 1319,560.6 1300,519.5 1240,512.4 1228,522.4 1228,540.4" fill="#dce4ed"/>
<polygon points="1298,824.9 1311,787.5 1306,766.6 1264,751.6 1235,783.4 1257,830.7" fill="#c6d4e4"/>
<polygon points="758.6,522 729.3,533.8 719.5,588.7 757.2,589.3 778.9,567.8 773.5,529.8" fill="#e9eef4"/>
<polygon points="925.5,752.7 892.6,713.6 856.6,716 824,753.6 828.1,778.6 837.6,787 916.5,778.8" fill="#e4eaf1"/>
<polygon points="896.5,366.2 849.3,399.9 856.7,426.5 902.9,441.3 910.8,438.1" fill="#d8e1eb"/>
<polygon points="593.7,819.2 664.4,820.7 671,803.5 641.8,750.5 631.3,751 591.1,779.4" fill="#dce4ed"/>
<polygon points="665.9,826.2 664.4,820.7 593.7,819.2 574.3,846.9 602,852 635,885 640.7,889.7" fill="#dde5ee"/>
<polygon points="653.5,618.1 715.1,590.2 655.7,537.4 629.9,573.6 642.2,614.2" fill="#e3eaf1"/>
<polygon points="727.9,380.7 721.4,332.5 668.3,325.6 668.7,330.8 700.4,381.6 721.8,384.9" fill="#e8edf3"/>
<polygon points="698.2,290.6 691.2,259.5 657.3,253.1 653.9,257.5 656.3,315.5 660.7,321.4 668.3,325.6" fill="#dfe7ef"/>
<polygon points="737.6,105.4 675.7,144.3 703.6,195 740,186 740,105.5" fill="#e9eef4"/>
<polygon points="181.2,637.8 190,639.8 212.9,627.9 215.3,590 176.2,590" fill="#cfdae7"/>
<polygon points="1059,996.4 1035,970.1 981,987 975.6,1019 1013,1067 1030,1072 1030,1065 1048,1046 1067,1034" fill="#e4eaf1"/>
<polygon points="699.9,507.9 729.3,533.8 758.6,522 755.9,488.6 729.9,474.4" fill="#ebeff4"/>
<polygon points="1229,429.8 1234,431.2 1278,383.6 1267,378 1222,363.6" fill="#d5dfea"/>
<polygon points="782.3,432.5 788.1,395.1 761.7,378.3 727.9,380.7 721.8,384.9 719.9,440.6 723.7,443.8" fill="#dce4ed"/>
<polygon points="936.1,1153 957.6,1192 1007,1182 1006,1170 1010,1154 945.5,1124" fill="#dee6ee"/>
<polygon points="246.1,726.5 217,682.7 209.3,682.8 187.1,702.1 200,715 240,745 240.4,746.5" fill="#cfdae7"/>
<polygon points="910.8,438.1 902.9,441.3 882.4,497.5 945.3,494.4 954,468.2 911.6,438.2" fill="#e0e7ef"/>
<polygon points="1235,783.4 1264,751.6 1253,708.5 1205,701.3 1180,728.4 1185,781.8" fill="#d4dee9"/>
<polygon points="821.9,1134 838.4,1146 872.2,1141 888.3,1107 850.5,1078 824.7,1094" fill="#e9eef3"/>
<polygon points="915.8,578.3 920.4,576 938.2,546.1 877.3,510.6 870.9,521.1 874.2,557.2" fill="#e0e7ef"/>
<polygon points="1346,739.3 1381,804.4 1386,791 1396,734 1391,722.4" fill="#d5dfea"/>
<polygon points="599.6,212.2 579.9,228.7 591.6,268.9 596.7,272.2 653.9,257.5 657.3,253.1 651.7,221.7" fill="#dde5ee"/>
<polygon points="848,838.6 804.7,865.5 813.6,903.1 865,915.2 875.5,883.1 865.9,849" fill="#dae2ec"/>
<polygon points="499,70.8 507,35 435,35 435,40.7" fill="#e3eaf1"/>
<polygon points="901.7,610.2 915.8,578.3 874.2,557.2 837.6,589 870.9,625.3" fill="#e1e8ef"/>
<polygon points="358,794 324.4,808.3 310.7,882.4 384.9,849.8 387.5,819" fill="#cfdae7"/>
<polygon points="868.6,639 905.3,679.6 950.5,657.7 950.3,654 901.7,610.2 870.9,625.3" fill="#e4eaf1"/>
<polygon points="606.8,352.9 597.4,347.6 558.3,387.3 566.1,407.7 581.8,408.2 619.1,377.3" fill="#e7ecf2"/>
<polygon points="808.7,500.6 842.1,474 838.1,453.3 788.5,443.2 783,473" fill="#dee5ee"/>
<polygon points="901.7,610.2 950.3,654 970.3,611.6 920.4,576 915.8,578.3" fill="#dae3ec"/>
<polygon points="656.3,315.5 607.6,298.6 591.3,336.7 597.4,347.6 606.8,352.9 660.7,321.4" fill="#dce4ed"/>
</g>
<g stroke-width="4">
<rect x="436.5" y="36.5" width="82" height="50" fill="none" stroke="#f4f7fa" stroke-width="10" stroke-opacity="0.9"/>
<rect x="436.5" y="36.5" width="82" height="50" fill="#cad6e5" stroke="#cad6e5"/>
<rect x="521.5" y="36.5" width="52" height="50" fill="none" stroke="#f4f7fa" stroke-width="10" stroke-opacity="0.9"/>
<rect x="521.5" y="36.5" width="52" height="50" fill="#d8e0eb" stroke="#d8e0eb"/>
<rect x="576.5" y="36.5" width="52" height="50" fill="none" stroke="#f4f7fa" stroke-width="10" stroke-opacity="0.9"/>
<rect x="576.5" y="36.5" width="52" height="50" fill="#e6ebf2" stroke="#e6ebf2"/>
<rect x="631.5" y="36.5" width="52" height="50" fill="none" stroke="#f4f7fa" stroke-width="10" stroke-opacity="0.9"/>
<rect x="631.5" y="36.5" width="52" height="50" fill="#d2dde9" stroke="#d2dde9"/>
<rect x="686.5" y="36.5" width="52" height="50" fill="none" stroke="#f4f7fa" stroke-width="10" stroke-opacity="0.9"/>
<rect x="686.5" y="36.5" width="52" height="50" fill="#e6ebf2" stroke="#e6ebf2"/>
<rect x="436.5" y="89.5" width="82" height="52" fill="none" stroke="#f4f7fa" stroke-width="10" stroke-opacity="0.9"/>
<rect x="436.5" y="89.5" width="82" height="52" fill="#d6dfea" stroke="#d6dfea"/>
<rect x="521.5" y="89.5" width="52" height="52" fill="none" stroke="#f4f7fa" stroke-width="10" stroke-opacity="0.9"/>
<rect x="521.5" y="89.5" width="52" height="52" fill="#cad6e5" stroke="#cad6e5"/>
<rect x="576.5" y="89.5" width="52" height="52" fill="none" stroke="#f4f7fa" stroke-width="10" stroke-opacity="0.9"/>
<rect x="576.5" y="89.5" width="52" height="52" fill="#d2dde9" stroke="#d2dde9"/>
<rect x="631.5" y="89.5" width="52" height="52" fill="none" stroke="#f4f7fa" stroke-width="10" stroke-opacity="0.9"/>
<rect x="631.5" y="89.5" width="52" height="52" fill="#e6ebf2" stroke="#e6ebf2"/>
<rect x="686.5" y="89.5" width="52" height="52" fill="none" stroke="#f4f7fa" stroke-width="10" stroke-opacity="0.9"/>
<rect x="686.5" y="89.5" width="52" height="52" fill="#e6ebf2" stroke="#e6ebf2"/>
<rect x="436.5" y="144.5" width="82" height="52" fill="none" stroke="#f4f7fa" stroke-width="10" stroke-opacity="0.9"/>
<rect x="436.5" y="144.5" width="82" height="52" fill="#e6ebf2" stroke="#e6ebf2"/>
<rect x="521.5" y="144.5" width="52" height="52" fill="none" stroke="#f4f7fa" stroke-width="10" stroke-opacity="0.9"/>
<rect x="521.5" y="144.5" width="52" height="52" fill="#2c66a3" stroke="#2c66a3"/>
<rect x="576.5" y="144.5" width="52" height="52" fill="none" stroke="#f4f7fa" stroke-width="10" stroke-opacity="0.9"/>
<rect x="576.5" y="144.5" width="52" height="52" fill="#cfdae7" stroke="#cfdae7"/>
<rect x="631.5" y="144.5" width="52" height="52" fill="none" stroke="#f4f7fa" stroke-width="10" stroke-opacity="0.9"/>
<rect x="631.5" y="144.5" width="52" height="52" fill="#cad6e5" stroke="#cad6e5"/>
<rect x="686.5" y="144.5" width="52" height="52" fill="none" stroke="#f4f7fa" stroke-width="10" stroke-opacity="0.9"/>
<rect x="686.5" y="144.5" width="52" height="52" fill="#e6ebf2" stroke="#e6ebf2"/>
<rect x="436.5" y="199.5" width="82" height="51" fill="none" stroke="#f4f7fa" stroke-width="10" stroke-opacity="0.9"/>
<rect x="436.5" y="199.5" width="82" height="51" fill="#cad6e5" stroke="#cad6e5"/>
<rect x="521.5" y="199.5" width="52" height="51" fill="none" stroke="#f4f7fa" stroke-width="10" stroke-opacity="0.9"/>
<rect x="521.5" y="199.5" width="52" height="51" fill="#2c66a3" stroke="#2c66a3"/>
<rect x="576.5" y="199.5" width="52" height="51" fill="none" stroke="#f4f7fa" stroke-width="10" stroke-opacity="0.9"/>
<rect x="576.5" y="199.5" width="52" height="51" fill="#d8e0eb" stroke="#d8e0eb"/>
<rect x="631.5" y="199.5" width="52" height="51" fill="none" stroke="#f4f7fa" stroke-width="10" stroke-opacity="0.9"/>
<rect x="631.5" y="199.5" width="52" height="51" fill="#e6ebf2" stroke="#e6ebf2"/>
<rect x="686.5" y="199.5" width="52" height="51" fill="none" stroke="#f4f7fa" stroke-width="10" stroke-opacity="0.9"/>
<rect x="686.5" y="199.5" width="52" height="51" fill="#e6ebf2" stroke="#e6ebf2"/>
<rect x="436.5" y="256.5" width="44" height="52" fill="none" stroke="#f4f7fa" stroke-width="10" stroke-opacity="0.9"/>
<rect x="436.5" y="256.5" width="44" height="52" fill="#e5ebf1" stroke="#e5ebf1"/>
<rect x="483.5" y="256.5" width="45" height="52" fill="none" stroke="#f4f7fa" stroke-width="10" stroke-opacity="0.9"/>
<rect x="483.5" y="256.5" width="45" height="52" fill="#e3eaf1" stroke="#e3eaf1"/>
<rect x="531.5" y="256.5" width="47" height="52" fill="none" stroke="#f4f7fa" stroke-width="10" stroke-opacity="0.9"/>
<rect x="531.5" y="256.5" width="47" height="52" fill="#e3e9f0" stroke="#e3e9f0"/>
<rect x="581.5" y="256.5" width="47" height="52" fill="none" stroke="#f4f7fa" stroke-width="10" stroke-opacity="0.9"/>
<rect x="581.5" y="256.5" width="47" height="52" fill="#e1e8ef" stroke="#e1e8ef"/>
<rect x="631.5" y="256.5" width="52" height="52" fill="none" stroke="#f4f7fa" stroke-width="10" stroke-opacity="0.9"/>
<rect x="631.5" y="256.5" width="52" height="52" fill="#e3eaf1" stroke="#e3eaf1"/>
<rect x="686.5" y="256.5" width="52" height="52" fill="none" stroke="#f4f7fa" stroke-width="10" stroke-opacity="0.9"/>
<rect x="686.5" y="256.5" width="52" height="52" fill="#e1e8ef" stroke="#e1e8ef"/>
<rect x="436.5" y="311.5" width="44" height="54" fill="none" stroke="#f4f7fa" stroke-width="10" stroke-opacity="0.9"/>
<rect x="436.5" y="311.5" width="44" height="54" fill="#ecf1f5" stroke="#ecf1f5"/>
<rect x="483.5" y="311.5" width="45" height="54" fill="none" stroke="#f4f7fa" stroke-width="10" stroke-opacity="0.9"/>
<rect x="483.5" y="311.5" width="45" height="54" fill="#e7ecf2" stroke="#e7ecf2"/>
<rect x="531.5" y="311.5" width="47" height="54" fill="none" stroke="#f4f7fa" stroke-width="10" stroke-opacity="0.9"/>
<rect x="531.5" y="311.5" width="47" height="54" fill="#e1e8ef" stroke="#e1e8ef"/>
<rect x="581.5" y="311.5" width="47" height="54" fill="none" stroke="#f4f7fa" stroke-width="10" stroke-opacity="0.9"/>
<rect x="581.5" y="311.5" width="47" height="54" fill="#e4ebf1" stroke="#e4ebf1"/>
<rect x="631.5" y="311.5" width="52" height="54" fill="none" stroke="#f4f7fa" stroke-width="10" stroke-opacity="0.9"/>
<rect x="631.5" y="311.5" width="52" height="54" fill="#e1e8f0" stroke="#e1e8f0"/>
<rect x="686.5" y="311.5" width="52" height="54" fill="none" stroke="#f4f7fa" stroke-width="10" stroke-opacity="0.9"/>
<rect x="686.5" y="311.5" width="52" height="54" fill="#ebf0f5" stroke="#ebf0f5"/>
<rect x="741.5" y="311.5" width="47" height="54" fill="none" stroke="#f4f7fa" stroke-width="10" stroke-opacity="0.9"/>
<rect x="741.5" y="311.5" width="47" height="54" fill="#e7ecf2" stroke="#e7ecf2"/>
<rect x="791.5" y="311.5" width="52" height="54" fill="none" stroke="#f4f7fa" stroke-width="10" stroke-opacity="0.9"/>
<rect x="791.5" y="311.5" width="52" height="54" fill="#eaeef4" stroke="#eaeef4"/>
<rect x="846.5" y="311.5" width="52" height="54" fill="none" stroke="#f4f7fa" stroke-width="10" stroke-opacity="0.9"/>
<rect x="846.5" y="311.5" width="52" height="54" fill="#e6ecf2" stroke="#e6ecf2"/>
<rect x="901.5" y="311.5" width="47" height="54" fill="none" stroke="#f4f7fa" stroke-width="10" stroke-opacity="0.9"/>
<rect x="901.5" y="311.5" width="47" height="54" fill="#e5ebf2" stroke="#e5ebf2"/>
<rect x="436.5" y="368.5" width="44" height="48" fill="none" stroke="#f4f7fa" stroke-width="10" stroke-opacity="0.9"/>
<rect x="436.5" y="368.5" width="44" height="48" fill="#ecf1f5" stroke="#ecf1f5"/>
<rect x="483.5" y="368.5" width="45" height="48" fill="none" stroke="#f4f7fa" stroke-width="10" stroke-opacity="0.9"/>
<rect x="483.5" y="368.5" width="45" height="48" fill="#eaeff4" stroke="#eaeff4"/>
<rect x="531.5" y="368.5" width="47" height="48" fill="none" stroke="#f4f7fa" stroke-width="10" stroke-opacity="0.9"/>
<rect x="531.5" y="368.5" width="47" height="48" fill="#e9eef4" stroke="#e9eef4"/>
<rect x="581.5" y="368.5" width="47" height="48" fill="none" stroke="#f4f7fa" stroke-width="10" stroke-opacity="0.9"/>
<rect x="581.5" y="368.5" width="47" height="48" fill="#e1e8f0" stroke="#e1e8f0"/>
<rect x="631.5" y="368.5" width="52" height="48" fill="none" stroke="#f4f7fa" stroke-width="10" stroke-opacity="0.9"/>
<rect x="631.5" y="368.5" width="52" height="48" fill="#e3e9f0" stroke="#e3e9f0"/>
<rect x="686.5" y="368.5" width="52" height="48" fill="none" stroke="#f4f7fa" stroke-width="10" stroke-opacity="0.9"/>
<rect x="686.5" y="368.5" width="52" height="48" fill="#ebeff4" stroke="#ebeff4"/>
<rect x="741.5" y="368.5" width="47" height="48" fill="none" stroke="#f4f7fa" stroke-width="10" stroke-opacity="0.9"/>
<rect x="741.5" y="368.5" width="47" height="48" fill="#e3e9f0" stroke="#e3e9f0"/>
<rect x="791.5" y="368.5" width="52" height="48" fill="none" stroke="#f4f7fa" stroke-width="10" stroke-opacity="0.9"/>
<rect x="791.5" y="368.5" width="52" height="48" fill="#ebf0f4" stroke="#ebf0f4"/>
<rect x="846.5" y="368.5" width="52" height="48" fill="none" stroke="#f4f7fa" stroke-width="10" stroke-opacity="0.9"/>
<rect x="846.5" y="368.5" width="52" height="48" fill="#e5ebf1" stroke="#e5ebf1"/>
<rect x="901.5" y="368.5" width="47" height="48" fill="none" stroke="#f4f7fa" stroke-width="10" stroke-opacity="0.9"/>
<rect x="901.5" y="368.5" width="47" height="48" fill="#ebf0f5" stroke="#ebf0f5"/>
<rect x="436.5" y="419.5" width="44" height="51" fill="none" stroke="#f4f7fa" stroke-width="10" stroke-opacity="0.9"/>
<rect x="436.5" y="419.5" width="44" height="51" fill="#edf1f5" stroke="#edf1f5"/>
<rect x="483.5" y="419.5" width="45" height="51" fill="none" stroke="#f4f7fa" stroke-width="10" stroke-opacity="0.9"/>
<rect x="483.5" y="419.5" width="45" height="51" fill="#e2e8f0" stroke="#e2e8f0"/>
<rect x="531.5" y="419.5" width="47" height="51" fill="none" stroke="#f4f7fa" stroke-width="10" stroke-opacity="0.9"/>
<rect x="531.5" y="419.5" width="47" height="51" fill="#eaeff4" stroke="#eaeff4"/>
<rect x="581.5" y="419.5" width="47" height="51" fill="none" stroke="#f4f7fa" stroke-width="10" stroke-opacity="0.9"/>
<rect x="581.5" y="419.5" width="47" height="51" fill="#eaeff4" stroke="#eaeff4"/>
<rect x="631.5" y="419.5" width="52" height="51" fill="none" stroke="#f4f7fa" stroke-width="10" stroke-opacity="0.9"/>
<rect x="631.5" y="419.5" width="52" height="51" fill="#e0e7ef" stroke="#e0e7ef"/>
<rect x="686.5" y="419.5" width="52" height="51" fill="none" stroke="#f4f7fa" stroke-width="10" stroke-opacity="0.9"/>
<rect x="686.5" y="419.5" width="52" height="51" fill="#e2e8f0" stroke="#e2e8f0"/>
<rect x="741.5" y="419.5" width="47" height="51" fill="none" stroke="#f4f7fa" stroke-width="10" stroke-opacity="0.9"/>
<rect x="741.5" y="419.5" width="47" height="51" fill="#e9eef3" stroke="#e9eef3"/>
<rect x="791.5" y="419.5" width="52" height="51" fill="none" stroke="#f4f7fa" stroke-width="10" stroke-opacity="0.9"/>
<rect x="791.5" y="419.5" width="52" height="51" fill="#e0e7ef" stroke="#e0e7ef"/>
<rect x="846.5" y="419.5" width="52" height="51" fill="none" stroke="#f4f7fa" stroke-width="10" stroke-opacity="0.9"/>
<rect x="846.5" y="419.5" width="52" height="51" fill="#e6ecf2" stroke="#e6ecf2"/>
<rect x="901.5" y="419.5" width="47" height="51" fill="none" stroke="#f4f7fa" stroke-width="10" stroke-opacity="0.9"/>
<rect x="901.5" y="419.5" width="47" height="51" fill="#e4eaf1" stroke="#e4eaf1"/>
<rect x="436.5" y="473.5" width="44" height="50" fill="none" stroke="#f4f7fa" stroke-width="10" stroke-opacity="0.9"/>
<rect x="436.5" y="473.5" width="44" height="50" fill="#eaeff4" stroke="#eaeff4"/>
<rect x="483.5" y="473.5" width="45" height="50" fill="none" stroke="#f4f7fa" stroke-width="10" stroke-opacity="0.9"/>
<rect x="483.5" y="473.5" width="45" height="50" fill="#e1e8ef" stroke="#e1e8ef"/>
<rect x="531.5" y="473.5" width="47" height="50" fill="none" stroke="#f4f7fa" stroke-width="10" stroke-opacity="0.9"/>
<rect x="531.5" y="473.5" width="47" height="50" fill="#e4eaf1" stroke="#e4eaf1"/>
<rect x="581.5" y="473.5" width="47" height="50" fill="none" stroke="#f4f7fa" stroke-width="10" stroke-opacity="0.9"/>
<rect x="581.5" y="473.5" width="47" height="50" fill="#e0e7ef" stroke="#e0e7ef"/>
<rect x="631.5" y="473.5" width="52" height="50" fill="none" stroke="#f4f7fa" stroke-width="10" stroke-opacity="0.9"/>
<rect x="631.5" y="473.5" width="52" height="50" fill="#e1e8f0" stroke="#e1e8f0"/>
<rect x="686.5" y="473.5" width="52" height="50" fill="none" stroke="#f4f7fa" stroke-width="10" stroke-opacity="0.9"/>
<rect x="686.5" y="473.5" width="52" height="50" fill="#e9eef3" stroke="#e9eef3"/>
<rect x="741.5" y="473.5" width="47" height="50" fill="none" stroke="#f4f7fa" stroke-width="10" stroke-opacity="0.9"/>
<rect x="741.5" y="473.5" width="47" height="50" fill="#e8edf3" stroke="#e8edf3"/>
<rect x="791.5" y="473.5" width="52" height="50" fill="none" stroke="#f4f7fa" stroke-width="10" stroke-opacity="0.9"/>
<rect x="791.5" y="473.5" width="52" height="50" fill="#eaeff4" stroke="#eaeff4"/>
<rect x="846.5" y="473.5" width="52" height="50" fill="none" stroke="#f4f7fa" stroke-width="10" stroke-opacity="0.9"/>
<rect x="846.5" y="473.5" width="52" height="50" fill="#ebeff4" stroke="#ebeff4"/>
<rect x="901.5" y="473.5" width="47" height="50" fill="none" stroke="#f4f7fa" stroke-width="10" stroke-opacity="0.9"/>
<rect x="901.5" y="473.5" width="47" height="50" fill="#ecf0f5" stroke="#ecf0f5"/>
<rect x="436.5" y="526.5" width="44" height="50" fill="none" stroke="#f4f7fa" stroke-width="10" stroke-opacity="0.9"/>
<rect x="436.5" y="526.5" width="44" height="50" fill="#e9eef3" stroke="#e9eef3"/>
<rect x="483.5" y="526.5" width="45" height="50" fill="none" stroke="#f4f7fa" stroke-width="10" stroke-opacity="0.9"/>
<rect x="483.5" y="526.5" width="45" height="50" fill="#e5ebf2" stroke="#e5ebf2"/>
<rect x="531.5" y="526.5" width="47" height="50" fill="none" stroke="#f4f7fa" stroke-width="10" stroke-opacity="0.9"/>
<rect x="531.5" y="526.5" width="47" height="50" fill="#edf1f5" stroke="#edf1f5"/>
<rect x="581.5" y="526.5" width="47" height="50" fill="none" stroke="#f4f7fa" stroke-width="10" stroke-opacity="0.9"/>
<rect x="581.5" y="526.5" width="47" height="50" fill="#e4eaf1" stroke="#e4eaf1"/>
<rect x="631.5" y="526.5" width="52" height="50" fill="none" stroke="#f4f7fa" stroke-width="10" stroke-opacity="0.9"/>
<rect x="631.5" y="526.5" width="52" height="50" fill="#e8eef3" stroke="#e8eef3"/>
<rect x="686.5" y="526.5" width="52" height="50" fill="none" stroke="#f4f7fa" stroke-width="10" stroke-opacity="0.9"/>
<rect x="686.5" y="526.5" width="52" height="50" fill="#e9eef3" stroke="#e9eef3"/>
<rect x="741.5" y="526.5" width="47" height="50" fill="none" stroke="#f4f7fa" stroke-width="10" stroke-opacity="0.9"/>
<rect x="741.5" y="526.5" width="47" height="50" fill="#e2e9f0" stroke="#e2e9f0"/>
<rect x="791.5" y="526.5" width="52" height="50" fill="none" stroke="#f4f7fa" stroke-width="10" stroke-opacity="0.9"/>
<rect x="791.5" y="526.5" width="52" height="50" fill="#e7ecf2" stroke="#e7ecf2"/>
<rect x="846.5" y="526.5" width="52" height="50" fill="none" stroke="#f4f7fa" stroke-width="10" stroke-opacity="0.9"/>
<rect x="846.5" y="526.5" width="52" height="50" fill="#e9eef3" stroke="#e9eef3"/>
<rect x="901.5" y="526.5" width="47" height="50" fill="none" stroke="#f4f7fa" stroke-width="10" stroke-opacity="0.9"/>
<rect x="901.5" y="526.5" width="47" height="50" fill="#e7ecf2" stroke="#e7ecf2"/>
<rect x="436.5" y="579.5" width="44" height="49" fill="none" stroke="#f4f7fa" stroke-width="10" stroke-opacity="0.9"/>
<rect x="436.5" y="579.5" width="44" height="49" fill="#e4eaf1" stroke="#e4eaf1"/>
<rect x="483.5" y="579.5" width="45" height="49" fill="none" stroke="#f4f7fa" stroke-width="10" stroke-opacity="0.9"/>
<rect x="483.5" y="579.5" width="45" height="49" fill="#ecf0f5" stroke="#ecf0f5"/>
<rect x="531.5" y="579.5" width="47" height="49" fill="none" stroke="#f4f7fa" stroke-width="10" stroke-opacity="0.9"/>
<rect x="531.5" y="579.5" width="47" height="49" fill="#e0e7ef" stroke="#e0e7ef"/>
<rect x="581.5" y="579.5" width="47" height="49" fill="none" stroke="#f4f7fa" stroke-width="10" stroke-opacity="0.9"/>
<rect x="581.5" y="579.5" width="47" height="49" fill="#ecf1f5" stroke="#ecf1f5"/>
<rect x="631.5" y="579.5" width="52" height="49" fill="none" stroke="#f4f7fa" stroke-width="10" stroke-opacity="0.9"/>
<rect x="631.5" y="579.5" width="52" height="49" fill="#e3eaf1" stroke="#e3eaf1"/>
<rect x="686.5" y="579.5" width="52" height="49" fill="none" stroke="#f4f7fa" stroke-width="10" stroke-opacity="0.9"/>
<rect x="686.5" y="579.5" width="52" height="49" fill="#e2e9f0" stroke="#e2e9f0"/>
<rect x="741.5" y="579.5" width="47" height="49" fill="none" stroke="#f4f7fa" stroke-width="10" stroke-opacity="0.9"/>
<rect x="741.5" y="579.5" width="47" height="49" fill="#ecf1f5" stroke="#ecf1f5"/>
<rect x="791.5" y="579.5" width="52" height="49" fill="none" stroke="#f4f7fa" stroke-width="10" stroke-opacity="0.9"/>
<rect x="791.5" y="579.5" width="52" height="49" fill="#e3e9f0" stroke="#e3e9f0"/>
<rect x="846.5" y="579.5" width="52" height="49" fill="none" stroke="#f4f7fa" stroke-width="10" stroke-opacity="0.9"/>
<rect x="846.5" y="579.5" width="52" height="49" fill="#e8edf3" stroke="#e8edf3"/>
<rect x="901.5" y="579.5" width="47" height="49" fill="none" stroke="#f4f7fa" stroke-width="10" stroke-opacity="0.9"/>
<rect x="901.5" y="579.5" width="47" height="49" fill="#e5ebf2" stroke="#e5ebf2"/>
<rect x="436.5" y="631.5" width="44" height="57" fill="none" stroke="#f4f7fa" stroke-width="10" stroke-opacity="0.9"/>
<rect x="436.5" y="631.5" width="44" height="57" fill="#ecf1f5" stroke="#ecf1f5"/>
<rect x="483.5" y="631.5" width="45" height="57" fill="none" stroke="#f4f7fa" stroke-width="10" stroke-opacity="0.9"/>
<rect x="483.5" y="631.5" width="45" height="57" fill="#ecf0f5" stroke="#ecf0f5"/>
<rect x="531.5" y="631.5" width="47" height="57" fill="none" stroke="#f4f7fa" stroke-width="10" stroke-opacity="0.9"/>
<rect x="531.5" y="631.5" width="47" height="57" fill="#eaeff4" stroke="#eaeff4"/>
<rect x="581.5" y="631.5" width="47" height="57" fill="none" stroke="#f4f7fa" stroke-width="10" stroke-opacity="0.9"/>
<rect x="581.5" y="631.5" width="47" height="57" fill="#e1e7ef" stroke="#e1e7ef"/>
<rect x="631.5" y="631.5" width="52" height="57" fill="none" stroke="#f4f7fa" stroke-width="10" stroke-opacity="0.9"/>
<rect x="631.5" y="631.5" width="52" height="57" fill="#eaeff4" stroke="#eaeff4"/>
<rect x="686.5" y="631.5" width="52" height="57" fill="none" stroke="#f4f7fa" stroke-width="10" stroke-opacity="0.9"/>
<rect x="686.5" y="631.5" width="52" height="57" fill="#e3e9f1" stroke="#e3e9f1"/>
<rect x="741.5" y="631.5" width="47" height="57" fill="none" stroke="#f4f7fa" stroke-width="10" stroke-opacity="0.9"/>
<rect x="741.5" y="631.5" width="47" height="57" fill="#e1e8ef" stroke="#e1e8ef"/>
<rect x="791.5" y="631.5" width="52" height="57" fill="none" stroke="#f4f7fa" stroke-width="10" stroke-opacity="0.9"/>
<rect x="791.5" y="631.5" width="52" height="57" fill="#e1e8ef" stroke="#e1e8ef"/>
<rect x="846.5" y="631.5" width="52" height="57" fill="none" stroke="#f4f7fa" stroke-width="10" stroke-opacity="0.9"/>
<rect x="846.5" y="631.5" width="52" height="57" fill="#e8edf3" stroke="#e8edf3"/>
<rect x="901.5" y="631.5" width="47" height="57" fill="none" stroke="#f4f7fa" stroke-width="10" stroke-opacity="0.9"/>
<rect x="901.5" y="631.5" width="47" height="57" fill="#e8edf3" stroke="#e8edf3"/>
<rect x="700" y="258" width="40" height="48" fill="none" stroke="#f4f7fa" stroke-width="10" stroke-opacity="0.9"/>
<rect x="700" y="258" width="40" height="48" fill="#b5c8dd" stroke="#b5c8dd"/>
<rect x="540" y="258" width="45" height="48" fill="none" stroke="#f4f7fa" stroke-width="10" stroke-opacity="0.9"/>
<rect x="540" y="258" width="45" height="48" fill="#d2dde9" stroke="#d2dde9"/>
<rect x="482" y="312" width="46" height="53" fill="none" stroke="#f4f7fa" stroke-width="10" stroke-opacity="0.9"/>
<rect x="482" y="312" width="46" height="53" fill="#c7d5e4" stroke="#c7d5e4"/>
<rect x="530" y="312" width="48" height="53" fill="none" stroke="#f4f7fa" stroke-width="10" stroke-opacity="0.9"/>
<rect x="530" y="312" width="48" height="53" fill="#d8e0eb" stroke="#d8e0eb"/>
<rect x="745" y="312" width="50" height="53" fill="none" stroke="#f4f7fa" stroke-width="10" stroke-opacity="0.9"/>
<rect x="745" y="312" width="50" height="53" fill="#d8e0eb" stroke="#d8e0eb"/>
<rect x="800" y="325" width="45" height="40" fill="none" stroke="#f4f7fa" stroke-width="10" stroke-opacity="0.9"/>
<rect x="800" y="325" width="45" height="40" fill="#cfdae7" stroke="#cfdae7"/>
<rect x="435" y="370" width="43" height="45" fill="none" stroke="#f4f7fa" stroke-width="10" stroke-opacity="0.9"/>
<rect x="435" y="370" width="43" height="45" fill="#c7d5e4" stroke="#c7d5e4"/>
<rect x="482" y="370" width="46" height="45" fill="none" stroke="#f4f7fa" stroke-width="10" stroke-opacity="0.9"/>
<rect x="482" y="370" width="46" height="45" fill="#a4bdd8" stroke="#a4bdd8"/>
<rect x="530" y="370" width="48" height="45" fill="none" stroke="#f4f7fa" stroke-width="10" stroke-opacity="0.9"/>
<rect x="530" y="370" width="48" height="45" fill="#235894" stroke="#235894"/>
<rect x="585" y="370" width="43" height="45" fill="none" stroke="#f4f7fa" stroke-width="10" stroke-opacity="0.9"/>
<rect x="585" y="370" width="43" height="45" fill="#c7d5e4" stroke="#c7d5e4"/>
<rect x="540" y="420" width="40" height="50" fill="none" stroke="#f4f7fa" stroke-width="10" stroke-opacity="0.9"/>
<rect x="540" y="420" width="40" height="50" fill="#d2dde9" stroke="#d2dde9"/>
<rect x="745" y="420" width="45" height="50" fill="none" stroke="#f4f7fa" stroke-width="10" stroke-opacity="0.9"/>
<rect x="745" y="420" width="45" height="50" fill="#d2dde9" stroke="#d2dde9"/>
<rect x="855" y="420" width="40" height="50" fill="none" stroke="#f4f7fa" stroke-width="10" stroke-opacity="0.9"/>
<rect x="855" y="420" width="40" height="50" fill="#d8e0eb" stroke="#d8e0eb"/>
<rect x="435" y="475" width="75" height="47" fill="none" stroke="#f4f7fa" stroke-width="10" stroke-opacity="0.9"/>
<rect x="435" y="475" width="75" height="47" fill="#cfdae7" stroke="#cfdae7"/>
<rect x="625" y="475" width="40" height="47" fill="none" stroke="#f4f7fa" stroke-width="10" stroke-opacity="0.9"/>
<rect x="625" y="475" width="40" height="47" fill="#c2d1e2" stroke="#c2d1e2"/>
<rect x="730" y="475" width="40" height="47" fill="none" stroke="#f4f7fa" stroke-width="10" stroke-opacity="0.9"/>
<rect x="730" y="475" width="40" height="47" fill="#cfdae7" stroke="#cfdae7"/>
<rect x="435" y="530" width="75" height="45" fill="none" stroke="#f4f7fa" stroke-width="10" stroke-opacity="0.9"/>
<rect x="435" y="530" width="75" height="45" fill="#d8e0eb" stroke="#d8e0eb"/>
<rect x="570" y="530" width="45" height="45" fill="none" stroke="#f4f7fa" stroke-width="10" stroke-opacity="0.9"/>
<rect x="570" y="530" width="45" height="45" fill="#c7d5e4" stroke="#c7d5e4"/>
<rect x="620" y="530" width="45" height="45" fill="none" stroke="#f4f7fa" stroke-width="10" stroke-opacity="0.9"/>
<rect x="620" y="530" width="45" height="45" fill="#d8e0eb" stroke="#d8e0eb"/>
<rect x="675" y="530" width="45" height="45" fill="none" stroke="#f4f7fa" stroke-width="10" stroke-opacity="0.9"/>
<rect x="675" y="530" width="45" height="45" fill="#aec4db" stroke="#aec4db"/>
<rect x="728" y="530" width="44" height="45" fill="none" stroke="#f4f7fa" stroke-width="10" stroke-opacity="0.9"/>
<rect x="728" y="530" width="44" height="45" fill="#3c76b2" stroke="#3c76b2"/>
<polygon points="830,530 890,530 890,555 850,575 830,570" fill="none" stroke="#f4f7fa" stroke-width="10" stroke-opacity="0.9"/>
<polygon points="830,530 890,530 890,555 850,575 830,570" fill="#c2d1e2" stroke="#c2d1e2"/>
<rect x="455" y="582" width="45" height="46" fill="none" stroke="#f4f7fa" stroke-width="10" stroke-opacity="0.9"/>
<rect x="455" y="582" width="45" height="46" fill="#2c66a3" stroke="#2c66a3"/>
<rect x="505" y="582" width="50" height="46" fill="none" stroke="#f4f7fa" stroke-width="10" stroke-opacity="0.9"/>
<rect x="505" y="582" width="50" height="46" fill="#2c66a3" stroke="#2c66a3"/>
<rect x="720" y="580" width="40" height="48" fill="none" stroke="#f4f7fa" stroke-width="10" stroke-opacity="0.9"/>
<rect x="720" y="580" width="40" height="48" fill="#cfdae7" stroke="#cfdae7"/>
<rect x="765" y="580" width="45" height="48" fill="none" stroke="#f4f7fa" stroke-width="10" stroke-opacity="0.9"/>
<rect x="765" y="580" width="45" height="48" fill="#d8e0eb" stroke="#d8e0eb"/>
<polygon points="65,590 125,588 125,657 95,625" fill="none" stroke="#f4f7fa" stroke-width="10" stroke-opacity="0.9"/>
<polygon points="65,590 125,588 125,657 95,625" fill="#285f9c" stroke="#285f9c"/>
<polygon points="133,592 235,590 235,738 200,715 160,675 133,660" fill="none" stroke="#f4f7fa" stroke-width="10" stroke-opacity="0.9"/>
<polygon points="133,592 235,590 235,738 200,715 160,675 133,660" fill="#c5d3e3" stroke="#c5d3e3"/>
<polygon points="240,592 327,590 327,690 300,705 240,740" fill="none" stroke="#f4f7fa" stroke-width="10" stroke-opacity="0.9"/>
<polygon points="240,592 327,590 327,690 300,705 240,740" fill="#cad6e5" stroke="#cad6e5"/>
<polygon points="332,595 400,655 440,640 452,680 390,735 332,692" fill="none" stroke="#f4f7fa" stroke-width="10" stroke-opacity="0.9"/>
<polygon points="332,595 400,655 440,640 452,680 390,735 332,692" fill="#d2dde9" stroke="#d2dde9"/>
<polygon points="245,748 325,700 385,742 300,772" fill="none" stroke="#f4f7fa" stroke-width="10" stroke-opacity="0.9"/>
<polygon points="245,748 325,700 385,742 300,772" fill="#e3e9f0" stroke="#e3e9f0"/>
<polygon points="392,742 445,684 500,682 547,722 542,752 502,772 482,832 432,802" fill="none" stroke="#f4f7fa" stroke-width="10" stroke-opacity="0.9"/>
<polygon points="392,742 445,684 500,682 547,722 542,752 502,772 482,832 432,802" fill="#cad6e5" stroke="#cad6e5"/>
<polygon points="245,760 300,777 350,792 350,902 300,884 265,830" fill="none" stroke="#f4f7fa" stroke-width="10" stroke-opacity="0.9"/>
<polygon points="245,760 300,777 350,792 350,902 300,884 265,830" fill="#cad6e5" stroke="#cad6e5"/>
<polygon points="355,792 387,752 480,838 440,872 430,933 400,943 355,902" fill="none" stroke="#f4f7fa" stroke-width="10" stroke-opacity="0.9"/>
<polygon points="355,792 387,752 480,838 440,872 430,933 400,943 355,902" fill="#cad6e5" stroke="#cad6e5"/>
<polygon points="490,782 560,790 562,845 520,840 485,830" fill="none" stroke="#f4f7fa" stroke-width="10" stroke-opacity="0.9"/>
<polygon points="490,782 560,790 562,845 520,840 485,830" fill="#d9e2ec" stroke="#d9e2ec"/>
<polygon points="400,600 435,595 440,640 400,655 380,635" fill="none" stroke="#f4f7fa" stroke-width="10" stroke-opacity="0.9"/>
<polygon points="400,600 435,595 440,640 400,655 380,635" fill="#dde4ed" stroke="#dde4ed"/>
<polygon points="505,690 550,690 560,780 545,752 547,722" fill="none" stroke="#f4f7fa" stroke-width="10" stroke-opacity="0.9"/>
<polygon points="505,690 550,690 560,780 545,752 547,722" fill="#d8e0eb" stroke="#d8e0eb"/>
<polygon points="562.1,797.6 659,797.6 660.9,908.8 635.2,885 602,851.8 564,845.1" fill="none" stroke="#f4f7fa" stroke-width="10" stroke-opacity="0.9"/>
<polygon points="562.1,797.6 659,797.6 660.9,908.8 635.2,885 602,851.8 564,845.1" fill="#326ca9" stroke="#326ca9"/>
<polygon points="654.2,633.2 706.5,628.5 725.5,642.8 727.4,695 673.2,695 670.4,647.5 654.2,645.6" fill="none" stroke="#f4f7fa" stroke-width="10" stroke-opacity="0.9"/>
<polygon points="654.2,633.2 706.5,628.5 725.5,642.8 727.4,695 673.2,695 670.4,647.5 654.2,645.6" fill="#2c66a3" stroke="#2c66a3"/>
<polygon points="849.5,330.2 873.2,325.5 898.9,335 898.9,365.4 849.5,365.4" fill="none" stroke="#f4f7fa" stroke-width="10" stroke-opacity="0.9"/>
<polygon points="849.5,330.2 873.2,325.5 898.9,335 898.9,365.4 849.5,365.4" fill="#285f9c" stroke="#285f9c"/>
<polygon points="954,368.2 973,358.8 992,368.2 992,411 954,411" fill="none" stroke="#f4f7fa" stroke-width="10" stroke-opacity="0.9"/>
<polygon points="954,368.2 973,358.8 992,368.2 992,411 954,411" fill="#b5c8dd" stroke="#b5c8dd"/>
<polygon points="1058,373 1101,377.8 1101,415.8 1058,415.8" fill="none" stroke="#f4f7fa" stroke-width="10" stroke-opacity="0.9"/>
<polygon points="1058,373 1101,377.8 1101,415.8 1058,415.8" fill="#b5c8dd" stroke="#b5c8dd"/>
<polygon points="1168,368.2 1215,368.2 1215,411 1168,411" fill="none" stroke="#f4f7fa" stroke-width="10" stroke-opacity="0.9"/>
<polygon points="1168,368.2 1215,368.2 1215,411 1168,411" fill="#a4bdd8" stroke="#a4bdd8"/>
<polygon points="1277,396.8 1306,396.8 1344,411 1344,434.8 1277,434.8" fill="none" stroke="#f4f7fa" stroke-width="10" stroke-opacity="0.9"/>
<polygon points="1277,396.8 1306,396.8 1344,411 1344,434.8 1277,434.8" fill="#94b2d2" stroke="#94b2d2"/>
<polygon points="1286,439.5 1344,439.5 1344,477.5 1286,477.5" fill="none" stroke="#f4f7fa" stroke-width="10" stroke-opacity="0.9"/>
<polygon points="1286,439.5 1344,439.5 1344,477.5 1286,477.5" fill="#b5c8dd" stroke="#b5c8dd"/>
<polygon points="1286,515.5 1344,515.5 1344,544 1286,544" fill="none" stroke="#f4f7fa" stroke-width="10" stroke-opacity="0.9"/>
<polygon points="1286,515.5 1344,515.5 1344,544 1286,544" fill="#c2d1e2" stroke="#c2d1e2"/>
<polygon points="1011,425.2 1058,425.2 1058,468 1011,468" fill="none" stroke="#f4f7fa" stroke-width="10" stroke-opacity="0.9"/>
<polygon points="1011,425.2 1058,425.2 1058,468 1011,468" fill="#285f9c" stroke="#285f9c"/>
<polygon points="1063,425.2 1113,425.2 1113,468 1063,468" fill="none" stroke="#f4f7fa" stroke-width="10" stroke-opacity="0.9"/>
<polygon points="1063,425.2 1113,425.2 1113,468 1063,468" fill="#2c66a3" stroke="#2c66a3"/>
<polygon points="1120,430 1158,430 1154,472.8 1134,487 1120,468" fill="none" stroke="#f4f7fa" stroke-width="10" stroke-opacity="0.9"/>
<polygon points="1120,430 1158,430 1154,472.8 1134,487 1120,468" fill="#4c82b8" stroke="#4c82b8"/>
<polygon points="939.8,475.6 987.2,475.6 987.2,520.2 939.8,520.2" fill="none" stroke="#f4f7fa" stroke-width="10" stroke-opacity="0.9"/>
<polygon points="939.8,475.6 987.2,475.6 987.2,520.2 939.8,520.2" fill="#2c66a3" stroke="#2c66a3"/>
<polygon points="992,475.6 1040,475.6 1040,520.2 992,520.2" fill="none" stroke="#f4f7fa" stroke-width="10" stroke-opacity="0.9"/>
<polygon points="992,475.6 1040,475.6 1040,520.2 992,520.2" fill="#153d79" stroke="#153d79"/>
<polygon points="1044,475.6 1092,475.6 1092,520.2 1044,520.2" fill="none" stroke="#f4f7fa" stroke-width="10" stroke-opacity="0.9"/>
<polygon points="1044,475.6 1092,475.6 1092,520.2 1044,520.2" fill="#153d79" stroke="#153d79"/>
<polygon points="1096,487 1116,482.2 1134,496.5 1134,544 1101,544" fill="none" stroke="#f4f7fa" stroke-width="10" stroke-opacity="0.9"/>
<polygon points="1096,487 1116,482.2 1134,496.5 1134,544 1101,544" fill="#2c66a3" stroke="#2c66a3"/>
<polygon points="987.2,525 1035,525 1030,563 996.8,567.8" fill="none" stroke="#f4f7fa" stroke-width="10" stroke-opacity="0.9"/>
<polygon points="987.2,525 1035,525 1030,563 996.8,567.8" fill="#346eaa" stroke="#346eaa"/>
<polygon points="1040,525 1092,525 1096,544 1068,577.2 1040,567.8" fill="none" stroke="#f4f7fa" stroke-width="10" stroke-opacity="0.9"/>
<polygon points="1040,525 1092,525 1096,544 1068,577.2 1040,567.8" fill="#94b2d2" stroke="#94b2d2"/>
<polygon points="1144,491.8 1187,496.5 1187,534.5 1144,534.5" fill="none" stroke="#f4f7fa" stroke-width="10" stroke-opacity="0.9"/>
<polygon points="1144,491.8 1187,496.5 1187,534.5 1144,534.5" fill="#b5c8dd" stroke="#b5c8dd"/>
<polygon points="1139,539.2 1192,544 1182,582 1144,577.2" fill="none" stroke="#f4f7fa" stroke-width="10" stroke-opacity="0.9"/>
<polygon points="1139,539.2 1192,544 1182,582 1144,577.2" fill="#b5c8dd" stroke="#b5c8dd"/>
<polygon points="1196,520.2 1225,534.5 1248,525 1244,567.8 1210,572.5 1192,544" fill="none" stroke="#f4f7fa" stroke-width="10" stroke-opacity="0.9"/>
<polygon points="1196,520.2 1225,534.5 1248,525 1244,567.8 1210,572.5 1192,544" fill="#346eaa" stroke="#346eaa"/>
<polygon points="1253,525 1272,520.2 1277,544 1258,548.8" fill="none" stroke="#f4f7fa" stroke-width="10" stroke-opacity="0.9"/>
<polygon points="1253,525 1272,520.2 1277,544 1258,548.8" fill="#2c66a3" stroke="#2c66a3"/>
<polygon points="1154,586.8 1201,586.8 1201,639 1154,639" fill="none" stroke="#f4f7fa" stroke-width="10" stroke-opacity="0.9"/>
<polygon points="1154,586.8 1201,586.8 1201,639 1154,639" fill="#b5c8dd" stroke="#b5c8dd"/>
<polygon points="1206,582 1248,582 1248,639 1206,639" fill="none" stroke="#f4f7fa" stroke-width="10" stroke-opacity="0.9"/>
<polygon points="1206,582 1248,582 1248,639 1206,639" fill="#b5c8dd" stroke="#b5c8dd"/>
<polygon points="1258,615.2 1306,615.2 1306,658 1258,658" fill="none" stroke="#f4f7fa" stroke-width="10" stroke-opacity="0.9"/>
<polygon points="1258,615.2 1306,615.2 1306,658 1258,658" fill="#b5c8dd" stroke="#b5c8dd"/>
<polygon points="1306,601 1362,605.8 1362,639 1306,639" fill="none" stroke="#f4f7fa" stroke-width="10" stroke-opacity="0.9"/>
<polygon points="1306,601 1362,605.8 1362,639 1306,639" fill="#c2d1e2" stroke="#c2d1e2"/>
<polygon points="1253,662.8 1282,653.2 1329,686.5 1315,705.5 1272,696" fill="none" stroke="#f4f7fa" stroke-width="10" stroke-opacity="0.9"/>
<polygon points="1253,662.8 1282,653.2 1329,686.5 1315,705.5 1272,696" fill="#346eaa" stroke="#346eaa"/>
<polygon points="1244,715 1306,715 1306,772 1244,772" fill="none" stroke="#f4f7fa" stroke-width="10" stroke-opacity="0.9"/>
<polygon points="1244,715 1306,715 1306,772 1244,772" fill="#bfcfe1" stroke="#bfcfe1"/>
<polygon points="1315,705.5 1382,700.8 1391,753 1315,772" fill="none" stroke="#f4f7fa" stroke-width="10" stroke-opacity="0.9"/>
<polygon points="1315,705.5 1382,700.8 1391,753 1315,772" fill="#c5d3e3" stroke="#c5d3e3"/>
<polygon points="673.8,529.8 721.2,529.8 721.2,572.5 673.8,572.5" fill="none" stroke="#f4f7fa" stroke-width="10" stroke-opacity="0.9"/>
<polygon points="673.8,529.8 721.2,529.8 721.2,572.5 673.8,572.5" fill="#b5c8dd" stroke="#b5c8dd"/>
<polygon points="830.5,534.5 887.5,534.5 887.5,553.5 849.5,577.2 830.5,572.5" fill="none" stroke="#f4f7fa" stroke-width="10" stroke-opacity="0.9"/>
<polygon points="830.5,534.5 887.5,534.5 887.5,553.5 849.5,577.2 830.5,572.5" fill="#c2d1e2" stroke="#c2d1e2"/>
<polygon points="935,639 982.5,639 982.5,681.8 935,681.8" fill="none" stroke="#f4f7fa" stroke-width="10" stroke-opacity="0.9"/>
<polygon points="935,639 982.5,639 982.5,681.8 935,681.8" fill="#c2d1e2" stroke="#c2d1e2"/>
<polygon points="844.8,724.5 897,724.5 897,762.5 844.8,762.5" fill="none" stroke="#f4f7fa" stroke-width="10" stroke-opacity="0.9"/>
<polygon points="844.8,724.5 897,724.5 897,762.5 844.8,762.5" fill="#c2d1e2" stroke="#c2d1e2"/>
<polygon points="1016,814.8 1058,810 1078,838.5 1040,867" fill="none" stroke="#f4f7fa" stroke-width="10" stroke-opacity="0.9"/>
<polygon points="1016,814.8 1058,810 1078,838.5 1040,867" fill="#b5c8dd" stroke="#b5c8dd"/>
<polygon points="1096,582 1134,582 1144,620 1106,629.5" fill="none" stroke="#f4f7fa" stroke-width="10" stroke-opacity="0.9"/>
<polygon points="1096,582 1134,582 1144,620 1106,629.5" fill="#c2d1e2" stroke="#c2d1e2"/>
<polygon points="1116,658 1163,658 1163,705.5 1116,705.5" fill="none" stroke="#f4f7fa" stroke-width="10" stroke-opacity="0.9"/>
<polygon points="1116,658 1163,658 1163,705.5 1116,705.5" fill="#c2d1e2" stroke="#c2d1e2"/>
<polygon points="987.2,639 1040,615.2 1058,648.5 1011,677" fill="none" stroke="#f4f7fa" stroke-width="10" stroke-opacity="0.9"/>
<polygon points="987.2,639 1040,615.2 1058,648.5 1011,677" fill="#2c66a3" stroke="#2c66a3"/>
<polygon points="954,705.5 1006,681.8 1030,715 1016,748.2 973,734" fill="none" stroke="#f4f7fa" stroke-width="10" stroke-opacity="0.9"/>
<polygon points="954,705.5 1006,681.8 1030,715 1016,748.2 973,734" fill="#2c66a3" stroke="#2c66a3"/>
<polygon points="944.5,743.5 973,738.8 1020,753 1002,800.5 963.5,772" fill="none" stroke="#f4f7fa" stroke-width="10" stroke-opacity="0.9"/>
<polygon points="944.5,743.5 973,738.8 1020,753 1002,800.5 963.5,772" fill="#346eaa" stroke="#346eaa"/>
<polygon points="930.2,781.5 954,757.8 996.8,805.2 973,824.2 939.8,819.5" fill="none" stroke="#f4f7fa" stroke-width="10" stroke-opacity="0.9"/>
<polygon points="930.2,781.5 954,757.8 996.8,805.2 973,824.2 939.8,819.5" fill="#285f9c" stroke="#285f9c"/>
<polygon points="916,824.2 944.5,800.5 968.2,829 935,857.5" fill="none" stroke="#f4f7fa" stroke-width="10" stroke-opacity="0.9"/>
<polygon points="916,824.2 944.5,800.5 968.2,829 935,857.5" fill="#346eaa" stroke="#346eaa"/>
<polygon points="887.5,843.2 916,829 935,857.5 906.5,867" fill="none" stroke="#f4f7fa" stroke-width="10" stroke-opacity="0.9"/>
<polygon points="887.5,843.2 916,829 935,857.5 906.5,867" fill="#5c8dbf" stroke="#5c8dbf"/>
<polygon points="925.5,871.8 954,852.8 973,876.5 949.2,900.2" fill="none" stroke="#f4f7fa" stroke-width="10" stroke-opacity="0.9"/>
<polygon points="925.5,871.8 954,852.8 973,876.5 949.2,900.2" fill="#346eaa" stroke="#346eaa"/>
<polygon points="859,871.8 887.5,857.5 920.8,886 916,914.5 882.8,928.8 859,905" fill="none" stroke="#f4f7fa" stroke-width="10" stroke-opacity="0.9"/>
<polygon points="859,871.8 887.5,857.5 920.8,886 916,914.5 882.8,928.8 859,905" fill="#153d79" stroke="#153d79"/>
<polygon points="1111,719.8 1125,724.5 1130,781.5 1092,753" fill="none" stroke="#f4f7fa" stroke-width="10" stroke-opacity="0.9"/>
<polygon points="1111,719.8 1125,724.5 1130,781.5 1092,753" fill="#2c66a3" stroke="#2c66a3"/>
<polygon points="1168,772 1196,762.5 1234,800.5 1220,824.2 1172,810" fill="none" stroke="#f4f7fa" stroke-width="10" stroke-opacity="0.9"/>
<polygon points="1168,772 1196,762.5 1234,800.5 1220,824.2 1172,810" fill="#2c66a3" stroke="#2c66a3"/>
<polygon points="1158,824.2 1201,814.8 1244,829 1253,857.5 1230,886 1192,867 1163,852.8" fill="none" stroke="#f4f7fa" stroke-width="10" stroke-opacity="0.9"/>
<polygon points="1158,824.2 1201,814.8 1244,829 1253,857.5 1230,886 1192,867 1163,852.8" fill="#173f7c" stroke="#173f7c"/>
<polygon points="1144,871.8 1168,857.5 1201,881.2 1182,909.8 1149,905" fill="none" stroke="#f4f7fa" stroke-width="10" stroke-opacity="0.9"/>
<polygon points="1144,871.8 1168,857.5 1201,881.2 1182,909.8 1149,905" fill="#285f9c" stroke="#285f9c"/>
<polygon points="1163,924 1210,886 1234,909.8 1220,947.8 1187,962" fill="none" stroke="#f4f7fa" stroke-width="10" stroke-opacity="0.9"/>
<polygon points="1163,924 1210,886 1234,909.8 1220,947.8 1187,962" fill="#2c66a3" stroke="#2c66a3"/>
<polygon points="1225,886 1268,895.5 1244,919.2" fill="none" stroke="#f4f7fa" stroke-width="10" stroke-opacity="0.9"/>
<polygon points="1225,886 1268,895.5 1244,919.2" fill="#285f9c" stroke="#285f9c"/>
<polygon points="1306,824.2 1334,814.8 1362,857.5 1334,871.8 1310,867" fill="none" stroke="#f4f7fa" stroke-width="10" stroke-opacity="0.9"/>
<polygon points="1306,824.2 1334,814.8 1362,857.5 1334,871.8 1310,867" fill="#2c66a3" stroke="#2c66a3"/>
<polygon points="1258,857.5 1306,857.5 1306,886 1258,890.8" fill="none" stroke="#f4f7fa" stroke-width="10" stroke-opacity="0.9"/>
<polygon points="1258,857.5 1306,857.5 1306,886 1258,890.8" fill="#b5c8dd" stroke="#b5c8dd"/>
<polygon points="763.5,799.5 820.5,794.8 825.2,828 768.2,832.8" fill="none" stroke="#f4f7fa" stroke-width="10" stroke-opacity="0.9"/>
<polygon points="763.5,799.5 820.5,794.8 825.2,828 768.2,832.8" fill="#bfcfe1" stroke="#bfcfe1"/>
<polygon points="825.2,804.2 882.2,813.8 887,866 830,856.5" fill="none" stroke="#f4f7fa" stroke-width="10" stroke-opacity="0.9"/>
<polygon points="825.2,804.2 882.2,813.8 887,866 830,856.5" fill="#b5c8dd" stroke="#b5c8dd"/>
<polygon points="735,837.5 792,837.5 792,880.2 735,880.2" fill="none" stroke="#f4f7fa" stroke-width="10" stroke-opacity="0.9"/>
<polygon points="735,837.5 792,837.5 792,880.2 735,880.2" fill="#cad6e5" stroke="#cad6e5"/>
<polygon points="673.2,875.5 725.5,875.5 725.5,923 678,923" fill="none" stroke="#f4f7fa" stroke-width="10" stroke-opacity="0.9"/>
<polygon points="673.2,875.5 725.5,875.5 725.5,923 678,923" fill="#c2d1e2" stroke="#c2d1e2"/>
<polygon points="735,885 849,885 849,932.5 735,932.5" fill="none" stroke="#f4f7fa" stroke-width="10" stroke-opacity="0.9"/>
<polygon points="735,885 849,885 849,932.5 735,932.5" fill="#d2dde9" stroke="#d2dde9"/>
<polygon points="678,932.5 725.5,932.5 725.5,1018 706.5,1008 682.8,970.5" fill="none" stroke="#f4f7fa" stroke-width="10" stroke-opacity="0.9"/>
<polygon points="678,932.5 725.5,932.5 725.5,1018 706.5,1008 682.8,970.5" fill="#b5c8dd" stroke="#b5c8dd"/>
<polygon points="730.2,942 787.2,942 787.2,989.5 730.2,989.5" fill="none" stroke="#f4f7fa" stroke-width="10" stroke-opacity="0.9"/>
<polygon points="730.2,942 787.2,942 787.2,989.5 730.2,989.5" fill="#baccdf" stroke="#baccdf"/>
<polygon points="801.5,942 858.5,942 858.5,989.5 801.5,989.5" fill="none" stroke="#f4f7fa" stroke-width="10" stroke-opacity="0.9"/>
<polygon points="801.5,942 858.5,942 858.5,989.5 801.5,989.5" fill="#cfdae7" stroke="#cfdae7"/>
<polygon points="863.2,932.5 896.5,927.8 920.2,965.8 896.5,980 863.2,980" fill="none" stroke="#f4f7fa" stroke-width="10" stroke-opacity="0.9"/>
<polygon points="863.2,932.5 896.5,927.8 920.2,965.8 896.5,980 863.2,980" fill="#abc1da" stroke="#abc1da"/>
<polygon points="730.2,994.2 787.2,994.2 787.2,1037 730.2,1037" fill="none" stroke="#f4f7fa" stroke-width="10" stroke-opacity="0.9"/>
<polygon points="730.2,994.2 787.2,994.2 787.2,1037 730.2,1037" fill="#a4bdd8" stroke="#a4bdd8"/>
<polygon points="735,1046 787.2,1045 792,1061 853.8,1061 853.8,1142 792,1142 782.5,1113 754,1084" fill="none" stroke="#f4f7fa" stroke-width="10" stroke-opacity="0.9"/>
<polygon points="735,1046 787.2,1045 792,1061 853.8,1061 853.8,1142 792,1142 782.5,1113 754,1084" fill="#2c66a3" stroke="#2c66a3"/>
<polygon points="953.5,1051 991.5,1046 1025,1066 948.8,1072" fill="none" stroke="#f4f7fa" stroke-width="10" stroke-opacity="0.9"/>
<polygon points="953.5,1051 991.5,1046 1025,1066 948.8,1072" fill="#346eaa" stroke="#346eaa"/>
<polygon points="948.8,1077 1020,1072 1030,1089 1010,1108 948.8,1108" fill="none" stroke="#f4f7fa" stroke-width="10" stroke-opacity="0.9"/>
<polygon points="948.8,1077 1020,1072 1030,1089 1010,1108 948.8,1108" fill="#2c66a3" stroke="#2c66a3"/>
<polygon points="939.2,1113 1006,1113 1006,1142 939.2,1142" fill="none" stroke="#f4f7fa" stroke-width="10" stroke-opacity="0.9"/>
<polygon points="939.2,1113 1006,1113 1006,1142 939.2,1142" fill="#a4bdd8" stroke="#a4bdd8"/>
<polygon points="830,1208 887,1208 887,1256 849,1246" fill="none" stroke="#f4f7fa" stroke-width="10" stroke-opacity="0.9"/>
<polygon points="830,1208 887,1208 887,1256 849,1246" fill="#c2d1e2" stroke="#c2d1e2"/>
<polygon points="887,1256 906,1213 934.5,1208 944,1279 920.2,1286" fill="none" stroke="#f4f7fa" stroke-width="10" stroke-opacity="0.9"/>
<polygon points="887,1256 906,1213 934.5,1208 944,1279 920.2,1286" fill="#2c66a3" stroke="#2c66a3"/>
<polygon points="953.5,1256 991.5,1260 1015,1246 1020,1294 996.2,1308 958.2,1282" fill="none" stroke="#f4f7fa" stroke-width="10" stroke-opacity="0.9"/>
<polygon points="953.5,1256 991.5,1260 1015,1246 1020,1294 996.2,1308 958.2,1282" fill="#2c66a3" stroke="#2c66a3"/>
<polygon points="1025,965.8 1044,942 1068,975.2 1044,999" fill="none" stroke="#f4f7fa" stroke-width="10" stroke-opacity="0.9"/>
<polygon points="1025,965.8 1044,942 1068,975.2 1044,999" fill="#2c66a3" stroke="#2c66a3"/>
<polygon points="1058,932.5 1082,923 1106,956.2 1086,980 1068,970.5" fill="none" stroke="#f4f7fa" stroke-width="10" stroke-opacity="0.9"/>
<polygon points="1058,932.5 1082,923 1106,956.2 1086,980 1068,970.5" fill="#78a0c8" stroke="#78a0c8"/>
<polygon points="939.2,984.8 967.8,975.2 991.5,1018 967.8,1028" fill="none" stroke="#f4f7fa" stroke-width="10" stroke-opacity="0.9"/>
<polygon points="939.2,984.8 967.8,975.2 991.5,1018 967.8,1028" fill="#c2d1e2" stroke="#c2d1e2"/>
</g>
</g></g></g>
</svg>
<div class="l" id="o1" style="left:23.6px;top:269.71px;font-size:17.0px;transform:scaleX(1.0623);"><b style="color:#dc4c2c">729</b><b> confirmed police uses of lethal</b></div>
<div class="l" id="o2" style="left:23.4px;top:291.51px;font-size:17.0px;transform:scaleX(1.0627);"><b>force in Ohio</b> <span style="color:#3a3d45">from 2014-2021</span></div>
<div class="l" id="g1" style="left:339.4px;top:271.19px;font-size:17.5px;transform:scaleX(1.0653);"><b style="color:#dc4c2c">904</b><b> confirmed police uses of lethal</b></div>
<div class="l" id="g2" style="left:339.2px;top:292.79px;font-size:17.5px;transform:scaleX(1.0535);"><b>force in Georgia</b> <span style="color:#3a3d45">from 2014-2021</span></div>
<div class="l" id="f1" style="left:672.8px;top:271.78px;font-size:16.8px;transform:scaleX(1.0497);"><b style="color:#dc4c2c">1,486</b><b> confirmed police uses of lethal</b></div>
<div class="l" id="f2" style="left:672.6px;top:293.78px;font-size:16.8px;transform:scaleX(1.0455);"><b>force in Florida</b> <span style="color:#3a3d45">from 2014-2021</span></div>
<div class="l" id="c1" style="left:113.4px;top:621.56px;font-size:19.3px;transform:scaleX(1.0018);"><b style="color:#dc4c2c">3,004</b><b> confirmed police uses of lethal</b></div>
<div class="l" id="c2" style="left:113.2px;top:644.76px;font-size:19.3px;transform:scaleX(0.9960);"><b>force in California</b> <span style="color:#3a3d45">from 2014-2021</span></div>
<div class="l" id="x1" style="left:524.4px;top:620.79px;font-size:19.5px;transform:scaleX(1.0441);"><b style="color:#dc4c2c">2,162</b><b> confirmed police uses of lethal</b></div>
<div class="l" id="x2" style="left:524.6px;top:644.89px;font-size:19.5px;transform:scaleX(1.0176);"><b>force in Texas</b> <span style="color:#3a3d45">from 2014-2021</span></div>
<div class="l tt" id="w1" style="left:143.99px;top:94.40px;font-size:56px;transform:scaleX(1.1443)"><b>States</b></div>
<div class="l tt" id="w2" style="left:354.42px;top:94.40px;font-size:56px;transform:scaleX(1.2402)"><b>with</b></div>
<div class="l tt" id="w3" style="left:511.74px;top:94.40px;font-size:56px;transform:scaleX(1.1261)"><b>Most</b></div>
<div class="l tt" id="w4" style="left:677.91px;top:94.40px;font-size:56px;transform:scaleX(1.0958)"><b>Cases</b></div>
<div class="l tt" id="w5" style="left:54.00px;top:162.90px;font-size:56px;transform:scaleX(1.0324)"><b>of</b></div>
<div class="l tt" id="w6" style="left:127.77px;top:162.90px;font-size:56px;transform:scaleX(1.1147)"><b>Police</b></div>
<div class="l tt" id="w7" style="left:328.30px;top:162.90px;font-size:56px;transform:scaleX(1.1014)"><b>Uses</b></div>
<div class="l tt" id="w8" style="left:493.85px;top:162.90px;font-size:56px;transform:scaleX(1.1375)"><b>of</b></div>
<div class="l tt" id="w9" style="left:573.16px;top:162.90px;font-size:56px;transform:scaleX(1.1602)"><b>Lethal</b></div>
<div class="l tt" id="w10" style="left:784.82px;top:162.90px;font-size:56px;transform:scaleX(1.0940)"><b>Force</b></div>
</div></body></html>
